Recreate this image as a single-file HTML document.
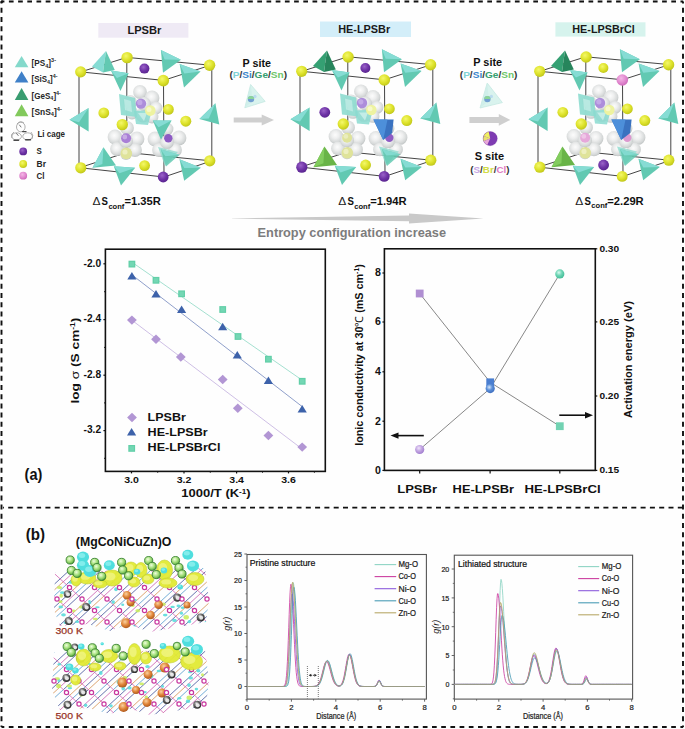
<!DOCTYPE html>
<html><head><meta charset="utf-8"><title>figure</title>
<style>
html,body{margin:0;padding:0;background:#fff;}
body{width:685px;height:729px;overflow:hidden;}
svg{display:block;}
text{font-family:"Liberation Sans", sans-serif;}
</style></head><body>
<svg width="685" height="729" viewBox="0 0 685 729">

<defs>
 <filter id="soft" x="-20%" y="-20%" width="140%" height="140%"><feGaussianBlur stdDeviation="0.6"/></filter>
 <radialGradient id="gY" cx="0.4" cy="0.35" r="0.65">
  <stop offset="0" stop-color="#f4f86a"/><stop offset="0.6" stop-color="#dde22a"/><stop offset="1" stop-color="#c2c81c"/>
 </radialGradient>
 <radialGradient id="gP" cx="0.4" cy="0.35" r="0.65">
  <stop offset="0" stop-color="#9a62c8"/><stop offset="0.6" stop-color="#6e33a6"/><stop offset="1" stop-color="#5a2590"/>
 </radialGradient>
 <radialGradient id="gK" cx="0.4" cy="0.35" r="0.65">
  <stop offset="0" stop-color="#f4b8e6"/><stop offset="0.6" stop-color="#e28ad0"/><stop offset="1" stop-color="#cf6cbc"/>
 </radialGradient>
 <radialGradient id="gW" cx="0.45" cy="0.4" r="0.6">
  <stop offset="0" stop-color="#fcfcfc"/><stop offset="0.4" stop-color="#eeefef"/><stop offset="0.8" stop-color="#d6d9d9"/><stop offset="1" stop-color="#c2c6c6"/>
 </radialGradient>
 <radialGradient id="gSp1" cx="0.4" cy="0.35" r="0.65">
  <stop offset="0" stop-color="#efe4fa"/><stop offset="0.5" stop-color="#c3a6e2"/><stop offset="1" stop-color="#a27fcf"/>
 </radialGradient>
 <radialGradient id="gSp2" cx="0.4" cy="0.35" r="0.65">
  <stop offset="0" stop-color="#d6e6fb"/><stop offset="0.5" stop-color="#5b8fd8"/><stop offset="1" stop-color="#3f6fc0"/>
 </radialGradient>
 <radialGradient id="gSp3" cx="0.4" cy="0.35" r="0.65">
  <stop offset="0" stop-color="#dcfaf0"/><stop offset="0.5" stop-color="#6fd6b6"/><stop offset="1" stop-color="#45bd98"/>
 </radialGradient>
 <radialGradient id="gGr" cx="0.4" cy="0.35" r="0.65">
  <stop offset="0" stop-color="#eefde0"/><stop offset="0.45" stop-color="#b2e68a"/><stop offset="0.8" stop-color="#7cc45a"/><stop offset="1" stop-color="#3f8a35"/>
 </radialGradient>
 <radialGradient id="gOr" cx="0.4" cy="0.35" r="0.65">
  <stop offset="0" stop-color="#fbd2a0"/><stop offset="0.55" stop-color="#e0863a"/><stop offset="1" stop-color="#b05a1e"/>
 </radialGradient>
 <radialGradient id="gDk" cx="0.4" cy="0.35" r="0.65">
  <stop offset="0" stop-color="#e8e8e8"/><stop offset="0.45" stop-color="#6a6a6a"/><stop offset="1" stop-color="#2a2a2a"/>
 </radialGradient>
</defs>

<rect x="0" y="0" width="685" height="729" fill="#fefefe"/>
<g fill="none" stroke="#111" stroke-width="1.9"><path d="M1.5 1.5H683.2" stroke-dasharray="4.7 4.5" stroke-dashoffset="1.8"/><path d="M1.5 727H683.2" stroke-dasharray="4.7 4.5" stroke-dashoffset="1.9"/><path d="M1.5 1.5V727" stroke-dasharray="5 4.2" stroke-dashoffset="2.9"/><path d="M683 1.5V727" stroke-dasharray="5 4.2" stroke-dashoffset="2.9"/><path d="M1 1.5h2M1.5 1v2"/></g>
<path d="M3 507.6H683" fill="none" stroke="#111" stroke-width="1.6" stroke-dasharray="5 4.3" stroke-dashoffset="4.1"/>
<polygon points="21.6,56.0 28.400000000000002,67.3 14.8,67.3" fill="#84d9cb" stroke="none" stroke-width="0.5"/>
<text x="31.6" y="65.8" font-size="8.3" font-weight="bold" fill="#262626" textLength="24.4" lengthAdjust="spacingAndGlyphs">[PS<tspan font-size="5.6" dy="1.8">4</tspan><tspan dy="-1.8">]</tspan><tspan font-size="5.6" dy="-3.6">3-</tspan></text>
<polygon points="21.6,71.3 28.400000000000002,82.6 14.8,82.6" fill="#3f80c8" stroke="none" stroke-width="0.5"/>
<text x="31.6" y="81.7" font-size="8.3" font-weight="bold" fill="#262626" textLength="25.9" lengthAdjust="spacingAndGlyphs">[SiS<tspan font-size="5.6" dy="1.8">4</tspan><tspan dy="-1.8">]</tspan><tspan font-size="5.6" dy="-3.6">4-</tspan></text>
<polygon points="21.6,87.9 28.400000000000002,99.9 14.8,99.9" fill="#389c70" stroke="none" stroke-width="0.5"/>
<text x="31.6" y="98.5" font-size="8.3" font-weight="bold" fill="#262626" textLength="29.3" lengthAdjust="spacingAndGlyphs">[GeS<tspan font-size="5.6" dy="1.8">4</tspan><tspan dy="-1.8">]</tspan><tspan font-size="5.6" dy="-3.6">4-</tspan></text>
<polygon points="21.6,104.2 28.400000000000002,116.2 14.8,116.2" fill="#82c95c" stroke="none" stroke-width="0.5"/>
<text x="31.6" y="114.5" font-size="8.3" font-weight="bold" fill="#262626" textLength="30.2" lengthAdjust="spacingAndGlyphs">[SnS<tspan font-size="5.6" dy="1.8">4</tspan><tspan dy="-1.8">]</tspan><tspan font-size="5.6" dy="-3.6">4-</tspan></text>
<g fill="none" stroke="#9a9a9a" stroke-width="0.8"><ellipse cx="20.8" cy="127" rx="4.3" ry="4.8"/><ellipse cx="16.6" cy="136.4" rx="4.8" ry="3.6"/><ellipse cx="27.6" cy="136.4" rx="4.8" ry="3.6"/><path d="M17 124 Q20 120 24 123M12 138 Q10 134 14 132M31 132 Q34 135 32 139"/></g>
<g stroke="#4a4a4a" stroke-width="1.4" stroke-linecap="round" fill="none"><path d="M14 140.3H18.6M25.6 139.8H30.6M22.6 131.6H26"/><path d="M16.5 133.5L18.2 135.5M19.5 125L21 127" stroke="#777" stroke-width="1"/></g>
<text x="37.4" y="136.6" font-size="8.4" font-weight="bold" text-anchor="start" fill="#262626" textLength="27.6" lengthAdjust="spacingAndGlyphs" >Li cage</text>
<circle cx="23.2" cy="151.4" r="3.9" fill="url(#gP)"/>
<circle cx="23.2" cy="164" r="3.9" fill="url(#gY)"/>
<circle cx="23.2" cy="175.7" r="3.9" fill="url(#gK)"/>
<text x="36.6" y="154.4" font-size="8.4" font-weight="bold" text-anchor="start" fill="#262626" textLength="5.3" lengthAdjust="spacingAndGlyphs" >S</text>
<text x="36.6" y="167.0" font-size="8.4" font-weight="bold" text-anchor="start" fill="#262626" textLength="9.4" lengthAdjust="spacingAndGlyphs" >Br</text>
<text x="36.6" y="178.8" font-size="8.4" font-weight="bold" text-anchor="start" fill="#262626" textLength="8.0" lengthAdjust="spacingAndGlyphs" >Cl</text>
<g transform="translate(0,0)"><path d="M80.8 71.9L126.8 57.4M126.8 57.4L210.5 65.2M210.5 65.2L163.5 80.4M163.5 80.4L80.8 71.9M79.5 167.7L126.8 152.5M126.8 152.5L211.5 160.9M211.5 160.9L164 177M164 177L79.5 167.7M79 72L79 167.7M126.8 57.4L126.8 152.5M211.8 65.2L211.8 160.9M163.5 80.4L164 177" fill="none" stroke="#303030" stroke-width="0.9"/><g filter="url(#soft)"><circle cx="140.0" cy="92.0" r="6.9" fill="url(#gW)"/><circle cx="152.0" cy="98.0" r="7.4" fill="url(#gW)"/><circle cx="156.0" cy="108.0" r="6.4" fill="url(#gW)"/><circle cx="130.0" cy="102.0" r="6.9" fill="url(#gW)"/><circle cx="132.0" cy="113.0" r="6.4" fill="url(#gW)"/><circle cx="143.0" cy="115.0" r="7.4" fill="url(#gW)"/><circle cx="152.0" cy="117.0" r="6.4" fill="url(#gW)"/><circle cx="144.0" cy="104.0" r="6.9" fill="url(#gW)"/><circle cx="115.0" cy="137.0" r="7.4" fill="url(#gW)"/><circle cx="137.0" cy="139.0" r="7.4" fill="url(#gW)"/><circle cx="127.0" cy="128.0" r="6.9" fill="url(#gW)"/><circle cx="117.0" cy="149.0" r="6.9" fill="url(#gW)"/><circle cx="135.0" cy="150.0" r="6.9" fill="url(#gW)"/><circle cx="126.0" cy="141.0" r="6.9" fill="url(#gW)"/><circle cx="126.0" cy="154.0" r="5.9" fill="url(#gW)"/><circle cx="155.0" cy="139.0" r="7.4" fill="url(#gW)"/><circle cx="179.0" cy="138.0" r="7.4" fill="url(#gW)"/><circle cx="159.0" cy="150.0" r="6.9" fill="url(#gW)"/><circle cx="175.0" cy="150.0" r="6.9" fill="url(#gW)"/><circle cx="167.0" cy="129.0" r="6.4" fill="url(#gW)"/><circle cx="167.0" cy="142.0" r="6.9" fill="url(#gW)"/></g><polygon points="119,94 135,98 137,117 121,115" fill="#8ddbcf" opacity="0.9"/><polygon points="124,99 131,101 132,112 125,110" fill="#c8eee8" opacity="0.7"/><polygon points="134,111 152,110 148,125 136,124" fill="#8adad0" opacity="0.85"/><polygon points="138,113 147,113 144,121" fill="#d4f2ee" opacity="0.7"/><polygon points="158,147 178,152 165,166" fill="#8fdcd0" opacity="0.8"/><circle cx="141" cy="103.6" r="5.2" fill="#ad8ddb"/><circle cx="139.8" cy="102.4" r="2.6" fill="#c8b0ea" opacity="0.8"/><circle cx="126.1" cy="138.3" r="5" fill="#a97fd6"/><circle cx="124.8" cy="137" r="2.4" fill="#ffffff" opacity="0.35"/><circle cx="168.3" cy="138.3" r="4.2" fill="#8d5bc4"/><circle cx="150.3" cy="110.6" r="5.3" fill="#eef3a0"/><circle cx="149" cy="109.4" r="2.5" fill="#fafcd8" opacity="0.7"/><circle cx="126.3" cy="153.4" r="5.8" fill="#dfe39a"/><circle cx="125" cy="152" r="2.6" fill="#f2f4d0" opacity="0.7"/><circle cx="127.1" cy="57.6" r="5.7" fill="url(#gY)"/><circle cx="144.4" cy="68.6" r="5.0" fill="url(#gP)"/><circle cx="103.8" cy="112.9" r="5.4" fill="url(#gY)"/><circle cx="168.4" cy="109.4" r="5.4" fill="url(#gY)"/><circle cx="185.8" cy="121.2" r="5.5" fill="url(#gY)"/><circle cx="122.3" cy="124.6" r="5.7" fill="url(#gY)"/><circle cx="144.6" cy="165.6" r="5.4" fill="url(#gY)"/><polygon points="106.0,51.0 92.0,66.5 103.0,72.5" fill="#86dcd4" opacity="1"/><polygon points="106.0,51.0 103.0,72.5 114.8,70.0" fill="#62c9b2" opacity="1"/><polygon points="110.9,70.6 128.6,73.2 120.5,91.0" fill="#62c9b2" opacity="1"/><polygon points="110.9,70.6 128.6,73.2 116.9,78.1" fill="#86dcd4" opacity="1"/><polygon points="160.9,49.9 180.9,59.8 163.0,72.8" fill="#62c9b2" opacity="1"/><polygon points="160.9,49.9 180.9,59.8 164.6,59.4" fill="#86dcd4" opacity="1"/><polygon points="179.6,64.1 200.5,71.5 184.0,87.5" fill="#62c9b2" opacity="1"/><polygon points="179.6,64.1 200.5,71.5 184.3,73.4" fill="#86dcd4" opacity="1"/><polygon points="199.4,119.0 215.4,103.2 219.3,124.5" fill="#62c9b2" opacity="1"/><polygon points="199.4,119.0 215.4,103.2 208.8,118.6" fill="#86dcd4" opacity="1"/><polygon points="69.5,119.8 88.6,108.0 88.6,131.6" fill="#62c9b2" opacity="1"/><polygon points="69.5,119.8 88.6,108.0 79.0,122.2" fill="#86dcd4" opacity="1"/><polygon points="120.5,96.0 126.0,96.0 123.0,112.0" fill="#62c9b2" opacity="0.0"/><polygon points="120.5,96.0 126.0,96.0 122.2,101.6" fill="#86dcd4" opacity="0.0"/><polygon points="152.8,120.6 171.6,120.6 161.0,139.8" fill="#62c9b2" opacity="1"/><polygon points="152.8,120.6 171.6,120.6 158.5,127.3" fill="#86dcd4" opacity="1"/><polygon points="160.8,149.5 179.5,154.8 166.0,166.5" fill="#62c9b2" opacity="0.85"/><polygon points="160.8,149.5 179.5,154.8 165.4,156.2" fill="#86dcd4" opacity="0.85"/><polygon points="92.5,167.8 103.5,147.2 116.0,165.5" fill="#62c9b2" opacity="1"/><polygon points="92.5,167.8 103.5,147.2 102.4,163.9" fill="#86dcd4" opacity="1"/><polygon points="113.8,166.3 135.2,167.7 121.0,185.5" fill="#62c9b2" opacity="1"/><polygon points="113.8,166.3 135.2,167.7 119.5,173.2" fill="#86dcd4" opacity="1"/><polygon points="179.5,159.3 200.8,167.7 184.2,180.8" fill="#62c9b2" opacity="1"/><polygon points="179.5,159.3 200.8,167.7 184.3,168.1" fill="#86dcd4" opacity="1"/><circle cx="80.7" cy="71.9" r="5.6" fill="url(#gY)"/><circle cx="209.6" cy="65.3" r="5.7" fill="url(#gY)"/><circle cx="163.3" cy="80.6" r="5.8" fill="url(#gY)"/><circle cx="80.8" cy="167.8" r="5.6" fill="url(#gY)"/><circle cx="209.8" cy="160.8" r="5.6" fill="url(#gY)"/><circle cx="163.2" cy="177.0" r="5.4" fill="url(#gP)"/></g>
<g transform="translate(221,-0.6)"><path d="M80.8 71.9L126.8 57.4M126.8 57.4L210.5 65.2M210.5 65.2L163.5 80.4M163.5 80.4L80.8 71.9M79.5 167.7L126.8 152.5M126.8 152.5L211.5 160.9M211.5 160.9L164 177M164 177L79.5 167.7M79 72L79 167.7M126.8 57.4L126.8 152.5M211.8 65.2L211.8 160.9M163.5 80.4L164 177" fill="none" stroke="#303030" stroke-width="0.9"/><g filter="url(#soft)"><circle cx="140.0" cy="92.0" r="6.9" fill="url(#gW)"/><circle cx="152.0" cy="98.0" r="7.4" fill="url(#gW)"/><circle cx="156.0" cy="108.0" r="6.4" fill="url(#gW)"/><circle cx="130.0" cy="102.0" r="6.9" fill="url(#gW)"/><circle cx="132.0" cy="113.0" r="6.4" fill="url(#gW)"/><circle cx="143.0" cy="115.0" r="7.4" fill="url(#gW)"/><circle cx="152.0" cy="117.0" r="6.4" fill="url(#gW)"/><circle cx="144.0" cy="104.0" r="6.9" fill="url(#gW)"/><circle cx="115.0" cy="137.0" r="7.4" fill="url(#gW)"/><circle cx="137.0" cy="139.0" r="7.4" fill="url(#gW)"/><circle cx="127.0" cy="128.0" r="6.9" fill="url(#gW)"/><circle cx="117.0" cy="149.0" r="6.9" fill="url(#gW)"/><circle cx="135.0" cy="150.0" r="6.9" fill="url(#gW)"/><circle cx="126.0" cy="141.0" r="6.9" fill="url(#gW)"/><circle cx="126.0" cy="154.0" r="5.9" fill="url(#gW)"/><circle cx="155.0" cy="139.0" r="7.4" fill="url(#gW)"/><circle cx="179.0" cy="138.0" r="7.4" fill="url(#gW)"/><circle cx="159.0" cy="150.0" r="6.9" fill="url(#gW)"/><circle cx="175.0" cy="150.0" r="6.9" fill="url(#gW)"/><circle cx="167.0" cy="129.0" r="6.4" fill="url(#gW)"/><circle cx="167.0" cy="142.0" r="6.9" fill="url(#gW)"/></g><polygon points="119,94 135,98 137,117 121,115" fill="#8ddbcf" opacity="0.9"/><polygon points="124,99 131,101 132,112 125,110" fill="#c8eee8" opacity="0.7"/><polygon points="134,111 152,110 148,125 136,124" fill="#8adad0" opacity="0.85"/><polygon points="138,113 147,113 144,121" fill="#d4f2ee" opacity="0.7"/><polygon points="158,147 178,152 165,166" fill="#8fdcd0" opacity="0.8"/><circle cx="141" cy="103.6" r="5.2" fill="#ad8ddb"/><circle cx="139.8" cy="102.4" r="2.6" fill="#c8b0ea" opacity="0.8"/><circle cx="126.1" cy="138.3" r="5" fill="#dfe39a"/><circle cx="124.8" cy="137" r="2.4" fill="#ffffff" opacity="0.35"/><circle cx="168.3" cy="138.3" r="4.2" fill="#8d5bc4"/><circle cx="150.3" cy="110.6" r="5.3" fill="#eef3a0"/><circle cx="149" cy="109.4" r="2.5" fill="#fafcd8" opacity="0.7"/><circle cx="126.3" cy="153.4" r="5.8" fill="#dfe39a"/><circle cx="125" cy="152" r="2.6" fill="#f2f4d0" opacity="0.7"/><circle cx="127.1" cy="57.6" r="5.7" fill="url(#gY)"/><circle cx="144.4" cy="68.6" r="5.0" fill="url(#gP)"/><circle cx="103.8" cy="112.9" r="5.4" fill="url(#gP)"/><circle cx="168.4" cy="109.4" r="5.4" fill="url(#gY)"/><circle cx="185.8" cy="121.2" r="5.5" fill="url(#gY)"/><circle cx="122.3" cy="124.6" r="5.7" fill="url(#gY)"/><circle cx="144.6" cy="165.6" r="5.4" fill="url(#gY)"/><polygon points="106.0,51.0 92.0,66.5 103.0,72.5" fill="#35a073" opacity="1"/><polygon points="106.0,51.0 103.0,72.5 114.8,70.0" fill="#27855c" opacity="1"/><polygon points="110.9,70.6 128.6,73.2 120.5,91.0" fill="#62c9b2" opacity="1"/><polygon points="110.9,70.6 128.6,73.2 116.9,78.1" fill="#86dcd4" opacity="1"/><polygon points="160.9,49.9 180.9,59.8 163.0,72.8" fill="#62c9b2" opacity="1"/><polygon points="160.9,49.9 180.9,59.8 164.6,59.4" fill="#86dcd4" opacity="1"/><polygon points="179.6,64.1 200.5,71.5 184.0,87.5" fill="#62c9b2" opacity="1"/><polygon points="179.6,64.1 200.5,71.5 184.3,73.4" fill="#86dcd4" opacity="1"/><polygon points="199.4,119.0 215.4,103.2 219.3,124.5" fill="#62c9b2" opacity="1"/><polygon points="199.4,119.0 215.4,103.2 208.8,118.6" fill="#86dcd4" opacity="1"/><polygon points="69.5,119.8 88.6,108.0 88.6,131.6" fill="#62c9b2" opacity="1"/><polygon points="69.5,119.8 88.6,108.0 79.0,122.2" fill="#86dcd4" opacity="1"/><polygon points="120.5,96.0 126.0,96.0 123.0,112.0" fill="#62c9b2" opacity="0.0"/><polygon points="120.5,96.0 126.0,96.0 122.2,101.6" fill="#86dcd4" opacity="0.0"/><polygon points="152.4,120.0 172.6,120.0 171.2,133.6 162.2,140.6" fill="#3a72c0"/><polygon points="152.4,120.0 166.5,120.0 162.2,140.6" fill="#4d8fda"/><polygon points="160.8,149.5 179.5,154.8 166.0,166.5" fill="#62c9b2" opacity="0.85"/><polygon points="160.8,149.5 179.5,154.8 165.4,156.2" fill="#86dcd4" opacity="0.85"/><polygon points="92.5,167.8 103.5,147.2 116.0,165.5" fill="#69b447" opacity="1"/><polygon points="92.5,167.8 103.5,147.2 102.4,163.9" fill="#82cc5e" opacity="1"/><polygon points="113.8,166.3 135.2,167.7 121.0,185.5" fill="#62c9b2" opacity="1"/><polygon points="113.8,166.3 135.2,167.7 119.5,173.2" fill="#86dcd4" opacity="1"/><polygon points="179.5,159.3 200.8,167.7 184.2,180.8" fill="#62c9b2" opacity="1"/><polygon points="179.5,159.3 200.8,167.7 184.3,168.1" fill="#86dcd4" opacity="1"/><circle cx="80.7" cy="71.9" r="5.6" fill="url(#gY)"/><circle cx="209.6" cy="65.3" r="5.7" fill="url(#gY)"/><circle cx="163.3" cy="80.6" r="5.8" fill="url(#gY)"/><circle cx="80.8" cy="167.8" r="5.6" fill="url(#gP)"/><circle cx="209.8" cy="160.8" r="5.6" fill="url(#gY)"/><circle cx="163.2" cy="177.0" r="5.4" fill="url(#gP)"/></g>
<g transform="translate(459,-0.6)"><path d="M80.8 71.9L126.8 57.4M126.8 57.4L210.5 65.2M210.5 65.2L163.5 80.4M163.5 80.4L80.8 71.9M79.5 167.7L126.8 152.5M126.8 152.5L211.5 160.9M211.5 160.9L164 177M164 177L79.5 167.7M79 72L79 167.7M126.8 57.4L126.8 152.5M211.8 65.2L211.8 160.9M163.5 80.4L164 177" fill="none" stroke="#303030" stroke-width="0.9"/><g filter="url(#soft)"><circle cx="140.0" cy="92.0" r="6.9" fill="url(#gW)"/><circle cx="152.0" cy="98.0" r="7.4" fill="url(#gW)"/><circle cx="156.0" cy="108.0" r="6.4" fill="url(#gW)"/><circle cx="130.0" cy="102.0" r="6.9" fill="url(#gW)"/><circle cx="132.0" cy="113.0" r="6.4" fill="url(#gW)"/><circle cx="143.0" cy="115.0" r="7.4" fill="url(#gW)"/><circle cx="152.0" cy="117.0" r="6.4" fill="url(#gW)"/><circle cx="144.0" cy="104.0" r="6.9" fill="url(#gW)"/><circle cx="115.0" cy="137.0" r="7.4" fill="url(#gW)"/><circle cx="137.0" cy="139.0" r="7.4" fill="url(#gW)"/><circle cx="127.0" cy="128.0" r="6.9" fill="url(#gW)"/><circle cx="117.0" cy="149.0" r="6.9" fill="url(#gW)"/><circle cx="135.0" cy="150.0" r="6.9" fill="url(#gW)"/><circle cx="126.0" cy="141.0" r="6.9" fill="url(#gW)"/><circle cx="126.0" cy="154.0" r="5.9" fill="url(#gW)"/><circle cx="155.0" cy="139.0" r="7.4" fill="url(#gW)"/><circle cx="179.0" cy="138.0" r="7.4" fill="url(#gW)"/><circle cx="159.0" cy="150.0" r="6.9" fill="url(#gW)"/><circle cx="175.0" cy="150.0" r="6.9" fill="url(#gW)"/><circle cx="167.0" cy="129.0" r="6.4" fill="url(#gW)"/><circle cx="167.0" cy="142.0" r="6.9" fill="url(#gW)"/></g><polygon points="119,94 135,98 137,117 121,115" fill="#8ddbcf" opacity="0.9"/><polygon points="124,99 131,101 132,112 125,110" fill="#c8eee8" opacity="0.7"/><polygon points="134,111 152,110 148,125 136,124" fill="#8adad0" opacity="0.85"/><polygon points="138,113 147,113 144,121" fill="#d4f2ee" opacity="0.7"/><polygon points="158,147 178,152 165,166" fill="#8fdcd0" opacity="0.8"/><circle cx="141" cy="103.6" r="5.2" fill="#ad8ddb"/><circle cx="139.8" cy="102.4" r="2.6" fill="#c8b0ea" opacity="0.8"/><circle cx="126.1" cy="138.3" r="5" fill="#e6a8da"/><circle cx="124.8" cy="137" r="2.4" fill="#ffffff" opacity="0.35"/><circle cx="168.3" cy="138.3" r="4.2" fill="#dc98cf"/><circle cx="150.3" cy="110.6" r="5.3" fill="#eef3a0"/><circle cx="149" cy="109.4" r="2.5" fill="#fafcd8" opacity="0.7"/><circle cx="126.3" cy="153.4" r="5.8" fill="#dfe39a"/><circle cx="125" cy="152" r="2.6" fill="#f2f4d0" opacity="0.7"/><circle cx="127.1" cy="57.6" r="5.7" fill="url(#gY)"/><circle cx="144.4" cy="68.6" r="5.0" fill="url(#gY)"/><circle cx="103.8" cy="112.9" r="5.4" fill="url(#gY)"/><circle cx="168.4" cy="109.4" r="5.4" fill="url(#gY)"/><circle cx="185.8" cy="121.2" r="5.5" fill="url(#gY)"/><circle cx="122.3" cy="124.6" r="5.7" fill="url(#gY)"/><circle cx="144.6" cy="165.6" r="5.4" fill="url(#gP)"/><polygon points="106.0,51.0 92.0,66.5 103.0,72.5" fill="#35a073" opacity="1"/><polygon points="106.0,51.0 103.0,72.5 114.8,70.0" fill="#27855c" opacity="1"/><polygon points="110.9,70.6 128.6,73.2 120.5,91.0" fill="#62c9b2" opacity="1"/><polygon points="110.9,70.6 128.6,73.2 116.9,78.1" fill="#86dcd4" opacity="1"/><polygon points="160.9,49.9 180.9,59.8 163.0,72.8" fill="#62c9b2" opacity="1"/><polygon points="160.9,49.9 180.9,59.8 164.6,59.4" fill="#86dcd4" opacity="1"/><polygon points="179.6,64.1 200.5,71.5 184.0,87.5" fill="#62c9b2" opacity="1"/><polygon points="179.6,64.1 200.5,71.5 184.3,73.4" fill="#86dcd4" opacity="1"/><polygon points="199.4,119.0 215.4,103.2 219.3,124.5" fill="#62c9b2" opacity="1"/><polygon points="199.4,119.0 215.4,103.2 208.8,118.6" fill="#86dcd4" opacity="1"/><polygon points="69.5,119.8 88.6,108.0 88.6,131.6" fill="#62c9b2" opacity="1"/><polygon points="69.5,119.8 88.6,108.0 79.0,122.2" fill="#86dcd4" opacity="1"/><polygon points="120.5,96.0 126.0,96.0 123.0,112.0" fill="#62c9b2" opacity="0.0"/><polygon points="120.5,96.0 126.0,96.0 122.2,101.6" fill="#86dcd4" opacity="0.0"/><polygon points="152.4,120.0 172.6,120.0 171.2,133.6 162.2,140.6" fill="#3a72c0"/><polygon points="152.4,120.0 166.5,120.0 162.2,140.6" fill="#4d8fda"/><polygon points="160.8,149.5 179.5,154.8 166.0,166.5" fill="#62c9b2" opacity="0.85"/><polygon points="160.8,149.5 179.5,154.8 165.4,156.2" fill="#86dcd4" opacity="0.85"/><polygon points="92.5,167.8 103.5,147.2 116.0,165.5" fill="#69b447" opacity="1"/><polygon points="92.5,167.8 103.5,147.2 102.4,163.9" fill="#82cc5e" opacity="1"/><polygon points="113.8,166.3 135.2,167.7 121.0,185.5" fill="#62c9b2" opacity="1"/><polygon points="113.8,166.3 135.2,167.7 119.5,173.2" fill="#86dcd4" opacity="1"/><polygon points="179.5,159.3 200.8,167.7 184.2,180.8" fill="#62c9b2" opacity="1"/><polygon points="179.5,159.3 200.8,167.7 184.3,168.1" fill="#86dcd4" opacity="1"/><circle cx="80.7" cy="71.9" r="5.6" fill="url(#gY)"/><circle cx="209.6" cy="65.3" r="5.7" fill="url(#gY)"/><circle cx="163.3" cy="80.6" r="5.8" fill="url(#gK)"/><circle cx="80.8" cy="167.8" r="5.6" fill="url(#gY)"/><circle cx="209.8" cy="160.8" r="5.6" fill="url(#gY)"/><circle cx="163.2" cy="177.0" r="5.4" fill="url(#gY)"/></g>
<rect x="98.3" y="23.0" width="90.10000000000001" height="14.700000000000003" fill="#efeaf5"/>
<text x="127.4" y="34.1" font-size="10.6" font-weight="bold" text-anchor="start" fill="#1a1a1a" textLength="34" lengthAdjust="spacingAndGlyphs" >LPSBr</text>
<rect x="320" y="21.5" width="91" height="15.5" fill="#d3eef9"/>
<text x="338.2" y="33.4" font-size="10.6" font-weight="bold" text-anchor="start" fill="#1a1a1a" textLength="52" lengthAdjust="spacingAndGlyphs" >HE-LPSBr</text>
<rect x="555.4" y="22.3" width="90.10000000000002" height="14.3" fill="#d6f3ed"/>
<text x="572.3" y="33.0" font-size="10.6" font-weight="bold" text-anchor="start" fill="#1a1a1a" textLength="62.5" lengthAdjust="spacingAndGlyphs" >HE-LPSBrCl</text>
<text x="92.4" y="205.3" font-size="11.2" fill="#222" textLength="8" lengthAdjust="spacingAndGlyphs">Δ</text>
<text x="101.60000000000001" y="205.3" font-size="11.2" font-weight="bold" fill="#111" textLength="6.4" lengthAdjust="spacingAndGlyphs">S</text>
<text x="108.4" y="208.60000000000002" font-size="7.6" font-weight="bold" fill="#111" textLength="16" lengthAdjust="spacingAndGlyphs">conf</text>
<text x="124.4" y="205.3" font-size="11.2" font-weight="bold" fill="#111" textLength="36.4" lengthAdjust="spacingAndGlyphs">=1.35R</text>
<text x="338.2" y="205.2" font-size="11.2" fill="#222" textLength="8" lengthAdjust="spacingAndGlyphs">Δ</text>
<text x="347.4" y="205.2" font-size="11.2" font-weight="bold" fill="#111" textLength="6.4" lengthAdjust="spacingAndGlyphs">S</text>
<text x="354.2" y="208.5" font-size="7.6" font-weight="bold" fill="#111" textLength="16" lengthAdjust="spacingAndGlyphs">conf</text>
<text x="370.2" y="205.2" font-size="11.2" font-weight="bold" fill="#111" textLength="36.4" lengthAdjust="spacingAndGlyphs">=1.94R</text>
<text x="575.3" y="204.6" font-size="11.2" fill="#222" textLength="8" lengthAdjust="spacingAndGlyphs">Δ</text>
<text x="584.5" y="204.6" font-size="11.2" font-weight="bold" fill="#111" textLength="6.4" lengthAdjust="spacingAndGlyphs">S</text>
<text x="591.3" y="207.9" font-size="7.6" font-weight="bold" fill="#111" textLength="16" lengthAdjust="spacingAndGlyphs">conf</text>
<text x="607.3" y="204.6" font-size="11.2" font-weight="bold" fill="#111" textLength="36.4" lengthAdjust="spacingAndGlyphs">=2.29R</text>
<text x="242.6" y="66.6" font-size="10.8" font-weight="bold" text-anchor="start" fill="#111" textLength="28.4" lengthAdjust="spacingAndGlyphs" >P site</text>
<text x="229.4" y="78.4" font-size="9.6" font-weight="bold" text-anchor="start" fill="#333" textLength="57.7" lengthAdjust="spacingAndGlyphs" >(<tspan fill="#7fd3d6">P</tspan>/<tspan fill="#3a86cc">Si</tspan>/<tspan fill="#36a070">Ge</tspan>/<tspan fill="#6fc66a">Sn</tspan>)</text>
<text x="473.3" y="66.2" font-size="10.8" font-weight="bold" text-anchor="start" fill="#111" textLength="28.8" lengthAdjust="spacingAndGlyphs" >P site</text>
<text x="459.8" y="77.8" font-size="9.6" font-weight="bold" text-anchor="start" fill="#333" textLength="57.7" lengthAdjust="spacingAndGlyphs" >(<tspan fill="#7fd3d6">P</tspan>/<tspan fill="#3a86cc">Si</tspan>/<tspan fill="#36a070">Ge</tspan>/<tspan fill="#6fc66a">Sn</tspan>)</text>
<polygon points="250.6,84.5 265.2,101.4 244.8,107.8" fill="#d9f3ee" stroke="#c2e6e0" stroke-width="0.7"/>
<polygon points="250.6,84.5 252.5333333333333,100.89999999999999 244.8,107.8" fill="#cdeee8" opacity="0.8"/>
<g filter="url(#soft)"><circle cx="251.0" cy="99.1" r="3.2" fill="#5a8ccc" opacity="0.8"/><path d="M247.8 99.1 A3.2 3.2 0 0 1 254.2 99.1 Z" fill="#90de90" opacity="0.85"/><circle cx="255.0" cy="96.4" r="1.6" fill="#9cc4f0" opacity="0.5"/></g>
<polygon points="487.2,83 502.4,102.6 480,108" fill="#d9f3ee" stroke="#c2e6e0" stroke-width="0.7"/>
<polygon points="487.2,83 488.8666666666666,100.86666666666667 480,108" fill="#cdeee8" opacity="0.8"/>
<g filter="url(#soft)"><circle cx="487.4" cy="99.1" r="3.2" fill="#5a8ccc" opacity="0.8"/><path d="M484.2 99.1 A3.2 3.2 0 0 1 490.6 99.1 Z" fill="#90de90" opacity="0.85"/><circle cx="491.4" cy="96.4" r="1.6" fill="#9cc4f0" opacity="0.5"/></g>
<polygon points="233.7,117.6 261.7,117.6 261.7,114.6 274,120 261.7,125.4 261.7,122.4 233.7,122.4" fill="#cfcfcf"/>
<polygon points="469.4,116.9 498.8,116.9 498.8,114.10000000000001 510.4,119.9 498.8,125.7 498.8,122.9 469.4,122.9" fill="#cfcfcf"/>
<g transform="translate(490.2,138.6)"><circle r="7.1" fill="#7e3bb2"/><path d="M0 0 L-6.6 -2.6 A7.1 7.1 0 0 1 -1.5 -6.9 Z" fill="#f0f060"/><path d="M0 0 L-6.6 2.6 A7.1 7.1 0 0 1 -6.6 -2.6 Z" fill="#e8e070"/><path d="M0 0 L-3 6.4 A7.1 7.1 0 0 1 -6.6 2.6 Z" fill="#e8a8d8"/><circle r="7.1" fill="none" stroke="#6a2a9a" stroke-width="0.5" opacity="0.6"/></g>
<text x="474.7" y="159.6" font-size="10.8" font-weight="bold" text-anchor="start" fill="#111" textLength="29.4" lengthAdjust="spacingAndGlyphs" >S site</text>
<text x="470.3" y="173.2" font-size="9.6" font-weight="bold" text-anchor="start" fill="#333" textLength="39.2" lengthAdjust="spacingAndGlyphs" >(<tspan fill="#c6a6e4">S</tspan>/<tspan fill="#d2dc48">Br</tspan>/<tspan fill="#e07cc4">Cl</tspan>)</text>
<polygon points="232,218.3 409,215.6 409,213.6 483.5,218.4 409,223.4 409,221.3 232,218.6" fill="#c9c9c9"/>
<text x="257.6" y="237.3" font-size="12.9" font-weight="bold" text-anchor="start" fill="#7c7c7c" textLength="188.4" lengthAdjust="spacingAndGlyphs" >Entropy configuration increase</text>
<rect x="105.4" y="249.2" width="219.9" height="222.2" fill="none" stroke="#111" stroke-width="1.6"/>
<path d="M103.4 263.8H105.4" stroke="#111" stroke-width="1.2"/>
<text x="83.6" y="266.5" font-size="10" font-weight="bold" text-anchor="start" fill="#111" textLength="17.5" lengthAdjust="spacingAndGlyphs" >-2.0</text>
<path d="M103.4 319.6H105.4" stroke="#111" stroke-width="1.2"/>
<text x="83.6" y="322.3" font-size="10" font-weight="bold" text-anchor="start" fill="#111" textLength="17.5" lengthAdjust="spacingAndGlyphs" >-2.4</text>
<path d="M103.4 375.2H105.4" stroke="#111" stroke-width="1.2"/>
<text x="83.6" y="377.9" font-size="10" font-weight="bold" text-anchor="start" fill="#111" textLength="17.5" lengthAdjust="spacingAndGlyphs" >-2.8</text>
<path d="M103.4 430.6H105.4" stroke="#111" stroke-width="1.2"/>
<text x="83.6" y="433.3" font-size="10" font-weight="bold" text-anchor="start" fill="#111" textLength="17.5" lengthAdjust="spacingAndGlyphs" >-3.2</text>
<path d="M104.10000000000001 291.7H105.4" stroke="#111" stroke-width="1"/>
<path d="M104.10000000000001 347.4H105.4" stroke="#111" stroke-width="1"/>
<path d="M104.10000000000001 402.9H105.4" stroke="#111" stroke-width="1"/>
<path d="M104.10000000000001 458.3H105.4" stroke="#111" stroke-width="1"/>
<path d="M131.5 471.4V473.4" stroke="#111" stroke-width="1.2"/>
<text x="131.5" y="483.2" font-size="9.6" font-weight="bold" text-anchor="middle" fill="#111" textLength="14.7" lengthAdjust="spacingAndGlyphs" >3.0</text>
<path d="M184.0 471.4V473.4" stroke="#111" stroke-width="1.2"/>
<text x="184.0" y="483.2" font-size="9.6" font-weight="bold" text-anchor="middle" fill="#111" textLength="14.7" lengthAdjust="spacingAndGlyphs" >3.2</text>
<path d="M236.6 471.4V473.4" stroke="#111" stroke-width="1.2"/>
<text x="236.6" y="483.2" font-size="9.6" font-weight="bold" text-anchor="middle" fill="#111" textLength="14.7" lengthAdjust="spacingAndGlyphs" >3.4</text>
<path d="M288.5 471.4V473.4" stroke="#111" stroke-width="1.2"/>
<text x="288.5" y="483.2" font-size="9.6" font-weight="bold" text-anchor="middle" fill="#111" textLength="14.7" lengthAdjust="spacingAndGlyphs" >3.6</text>
<path d="M157.7 471.4V472.7" stroke="#111" stroke-width="1"/>
<path d="M210.3 471.4V472.7" stroke="#111" stroke-width="1"/>
<path d="M262.5 471.4V472.7" stroke="#111" stroke-width="1"/>
<path d="M314.4 471.4V472.7" stroke="#111" stroke-width="1"/>
<path d="M131.9 262.2L302.2 380.2" stroke="#9adccb" stroke-width="0.9"/>
<path d="M131.9 274.8L302.2 406.6" stroke="#8294c4" stroke-width="0.9"/>
<path d="M131.9 320.2L302.2 449" stroke="#c8b8e2" stroke-width="0.9"/>
<polygon points="131.9,315.40000000000003 136.8,320.1 131.9,324.8 127.0,320.1" fill="#b296d4"/>
<polygon points="156,334.6 160.9,339.3 156,344.0 151.1,339.3" fill="#b296d4"/>
<polygon points="180.8,352.3 185.70000000000002,357 180.8,361.7 175.9,357" fill="#b296d4"/>
<polygon points="222.7,374.8 227.6,379.5 222.7,384.2 217.79999999999998,379.5" fill="#b296d4"/>
<polygon points="237.8,403.5 242.70000000000002,408.2 237.8,412.9 232.9,408.2" fill="#b296d4"/>
<polygon points="268.4,430.8 273.29999999999995,435.5 268.4,440.2 263.5,435.5" fill="#b296d4"/>
<polygon points="302.2,442.40000000000003 307.09999999999997,447.1 302.2,451.8 297.3,447.1" fill="#b296d4"/>
<polygon points="131.9,272.09999999999997 136.5,279.59999999999997 127.30000000000001,279.59999999999997" fill="#3d62aa"/>
<polygon points="156,289.9 160.6,297.4 151.4,297.4" fill="#3d62aa"/>
<polygon points="181.6,305.59999999999997 186.2,313.09999999999997 177.0,313.09999999999997" fill="#3d62aa"/>
<polygon points="222.7,322.8 227.29999999999998,330.3 218.1,330.3" fill="#3d62aa"/>
<polygon points="237.3,350.9 241.9,358.4 232.70000000000002,358.4" fill="#3d62aa"/>
<polygon points="268.4,376.59999999999997 273.0,384.09999999999997 263.79999999999995,384.09999999999997" fill="#3d62aa"/>
<polygon points="302.2,405.0 306.8,412.5 297.59999999999997,412.5" fill="#3d62aa"/>
<rect x="128.5" y="260.70000000000005" width="6.8" height="6.8" fill="#62cfa8"/><rect x="129.7" y="261.90000000000003" width="4.4" height="4.4" fill="#7fdcbc" opacity="0.6"/>
<rect x="152.6" y="276.90000000000003" width="6.8" height="6.8" fill="#62cfa8"/><rect x="153.79999999999998" y="278.1" width="4.4" height="4.4" fill="#7fdcbc" opacity="0.6"/>
<rect x="178.2" y="290.40000000000003" width="6.8" height="6.8" fill="#62cfa8"/><rect x="179.39999999999998" y="291.6" width="4.4" height="4.4" fill="#7fdcbc" opacity="0.6"/>
<rect x="219.29999999999998" y="306.1" width="6.8" height="6.8" fill="#62cfa8"/><rect x="220.49999999999997" y="307.3" width="4.4" height="4.4" fill="#7fdcbc" opacity="0.6"/>
<rect x="234.6" y="333.1" width="6.8" height="6.8" fill="#62cfa8"/><rect x="235.79999999999998" y="334.3" width="4.4" height="4.4" fill="#7fdcbc" opacity="0.6"/>
<rect x="265.0" y="355.8" width="6.8" height="6.8" fill="#62cfa8"/><rect x="266.2" y="357.0" width="4.4" height="4.4" fill="#7fdcbc" opacity="0.6"/>
<rect x="298.8" y="377.90000000000003" width="6.8" height="6.8" fill="#62cfa8"/><rect x="300.0" y="379.1" width="4.4" height="4.4" fill="#7fdcbc" opacity="0.6"/>
<polygon points="132,412.8 136.9,417.5 132,422.2 127.1,417.5" fill="#b296d4"/>
<polygon points="131.6,428.09999999999997 136.2,435.59999999999997 127.0,435.59999999999997" fill="#3d62aa"/>
<rect x="128.29999999999998" y="445.0" width="6.8" height="6.8" fill="#62cfa8"/><rect x="129.49999999999997" y="446.2" width="4.4" height="4.4" fill="#7fdcbc" opacity="0.6"/>
<text x="147.6" y="421.2" font-size="11.2" font-weight="bold" text-anchor="start" fill="#111" textLength="38.2" lengthAdjust="spacingAndGlyphs" >LPSBr</text>
<text x="147.6" y="436.0" font-size="11.2" font-weight="bold" text-anchor="start" fill="#111" textLength="60" lengthAdjust="spacingAndGlyphs" >HE-LPSBr</text>
<text x="147.6" y="451.3" font-size="11.2" font-weight="bold" text-anchor="start" fill="#111" textLength="72.8" lengthAdjust="spacingAndGlyphs" >HE-LPSBrCl</text>
<text x="181.3" y="497.2" font-size="11.2" font-weight="bold" text-anchor="start" fill="#111" textLength="69.4" lengthAdjust="spacingAndGlyphs" >1000/T (K<tspan font-size="7" dy="-3.5">-1</tspan><tspan dy="3.5">)</tspan></text>
<text transform="translate(78.8,360.6) rotate(-90)" text-anchor="middle" font-size="11.4" font-weight="bold" fill="#111" textLength="86" lengthAdjust="spacingAndGlyphs">log <tspan font-weight="normal">σ</tspan> (S cm<tspan font-size="7" dy="-3.5">-1</tspan><tspan dy="3.5">)</tspan></text>
<rect x="384.4" y="248.8" width="210.89999999999998" height="221.59999999999997" fill="none" stroke="#111" stroke-width="1.6"/>
<path d="M382.4 470.4H384.4" stroke="#111" stroke-width="1.2"/>
<text x="380.8" y="473.7" font-size="10" font-weight="bold" text-anchor="end" fill="#111" textLength="5.9" lengthAdjust="spacingAndGlyphs" >0</text>
<path d="M382.4 421.2H384.4" stroke="#111" stroke-width="1.2"/>
<text x="380.8" y="424.5" font-size="10" font-weight="bold" text-anchor="end" fill="#111" textLength="5.9" lengthAdjust="spacingAndGlyphs" >2</text>
<path d="M382.4 371.8H384.4" stroke="#111" stroke-width="1.2"/>
<text x="380.8" y="375.1" font-size="10" font-weight="bold" text-anchor="end" fill="#111" textLength="5.9" lengthAdjust="spacingAndGlyphs" >4</text>
<path d="M382.4 322.0H384.4" stroke="#111" stroke-width="1.2"/>
<text x="380.8" y="325.3" font-size="10" font-weight="bold" text-anchor="end" fill="#111" textLength="5.9" lengthAdjust="spacingAndGlyphs" >6</text>
<path d="M382.4 273.0H384.4" stroke="#111" stroke-width="1.2"/>
<text x="380.8" y="276.3" font-size="10" font-weight="bold" text-anchor="end" fill="#111" textLength="5.9" lengthAdjust="spacingAndGlyphs" >8</text>
<path d="M595.3 470.4H597.3" stroke="#111" stroke-width="1.2"/>
<text x="599.4" y="473.29999999999995" font-size="9.6" font-weight="bold" text-anchor="start" fill="#111" textLength="19.8" lengthAdjust="spacingAndGlyphs" >0.15</text>
<path d="M595.3 396.0H597.3" stroke="#111" stroke-width="1.2"/>
<text x="599.4" y="398.9" font-size="9.6" font-weight="bold" text-anchor="start" fill="#111" textLength="19.8" lengthAdjust="spacingAndGlyphs" >0.20</text>
<path d="M595.3 321.9H597.3" stroke="#111" stroke-width="1.2"/>
<text x="599.4" y="324.79999999999995" font-size="9.6" font-weight="bold" text-anchor="start" fill="#111" textLength="19.8" lengthAdjust="spacingAndGlyphs" >0.25</text>
<path d="M595.3 248.8H597.3" stroke="#111" stroke-width="1.2"/>
<text x="599.4" y="251.70000000000002" font-size="9.6" font-weight="bold" text-anchor="start" fill="#111" textLength="19.8" lengthAdjust="spacingAndGlyphs" >0.30</text>
<path d="M419.7 470.4V473.4" stroke="#111" stroke-width="1.2"/>
<path d="M490.1 470.4V473.4" stroke="#111" stroke-width="1.2"/>
<path d="M559.8 470.4V473.4" stroke="#111" stroke-width="1.2"/>
<text x="397.2" y="492.5" font-size="11.5" font-weight="bold" text-anchor="start" fill="#111" textLength="39.8" lengthAdjust="spacingAndGlyphs" >LPSBr</text>
<text x="452.6" y="492.5" font-size="11.5" font-weight="bold" text-anchor="start" fill="#111" textLength="61.5" lengthAdjust="spacingAndGlyphs" >HE-LPSBr</text>
<text x="524.4" y="492.5" font-size="11.5" font-weight="bold" text-anchor="start" fill="#111" textLength="76.3" lengthAdjust="spacingAndGlyphs" >HE-LPSBrCl</text>
<path d="M419.7 293.5L490.2 382.3L559.8 426.2" fill="none" stroke="#6a6a6a" stroke-width="0.8"/>
<path d="M419.7 449.5L490.2 388.4L559.8 273.9" fill="none" stroke="#6a6a6a" stroke-width="0.8"/>
<rect x="415.8" y="289.6" width="7.8" height="7.8" fill="#b08fd2"/>
<rect x="486.3" y="378.4" width="7.8" height="7.8" fill="#4a7ed0"/>
<rect x="555.9" y="422.3" width="7.8" height="7.8" fill="#72d2b2"/>
<circle cx="419.7" cy="449.5" r="4.6" fill="url(#gSp1)"/>
<circle cx="490.2" cy="388.6" r="4.6" fill="url(#gSp2)"/>
<circle cx="559.8" cy="273.9" r="4.6" fill="url(#gSp3)"/>
<path d="M423.8 435.6H396" stroke="#111" stroke-width="1.6"/><polygon points="390.5,435.6 398.5,432.4 398.5,438.8" fill="#111"/>
<path d="M559.3 415.2H587" stroke="#111" stroke-width="1.6"/><polygon points="593,415.2 585,412 585,418.4" fill="#111"/>
<text transform="translate(362.6,355) rotate(-90)" text-anchor="middle" font-size="11" font-weight="bold" fill="#111" textLength="181.6" lengthAdjust="spacingAndGlyphs">Ionic conductivity at 30<tspan font-weight="normal">℃</tspan> (mS cm<tspan font-size="7" dy="-3.5">-1</tspan><tspan dy="3.5">)</tspan></text>
<text transform="translate(632,359.5) rotate(-90)" text-anchor="middle" font-size="11" font-weight="bold" fill="#111" textLength="117" lengthAdjust="spacingAndGlyphs">Activation energy (eV)</text>
<text x="24.6" y="479.8" font-size="15.7" font-weight="bold" text-anchor="start" fill="#111" textLength="17.8" lengthAdjust="spacingAndGlyphs" >(a)</text>
<text x="25.8" y="540.3" font-size="15.7" font-weight="bold" text-anchor="start" fill="#111" textLength="19.3" lengthAdjust="spacingAndGlyphs" >(b)</text>
<text x="75.8" y="545.6" font-size="12.2" font-weight="bold" text-anchor="start" fill="#111" textLength="95.6" lengthAdjust="spacingAndGlyphs" >(MgCoNiCuZn)O</text>
<rect x="247" y="554.5" width="179.39999999999998" height="144.60000000000002" fill="none" stroke="#555" stroke-width="1.1"/>
<path d="M244.4 686.5H247" stroke="#555" stroke-width="0.9"/>
<text x="242" y="689.3" font-size="8.0" font-weight="normal" text-anchor="end" fill="#222" textLength="3.9" lengthAdjust="spacingAndGlyphs" stroke="#222" stroke-width="0.22">0</text>
<path d="M245.5 673.2H247" stroke="#555" stroke-width="0.8"/>
<path d="M244.4 660.0H247" stroke="#555" stroke-width="0.9"/>
<text x="242" y="662.8" font-size="8.0" font-weight="normal" text-anchor="end" fill="#222" textLength="3.9" lengthAdjust="spacingAndGlyphs" stroke="#222" stroke-width="0.22">5</text>
<path d="M245.5 646.8H247" stroke="#555" stroke-width="0.8"/>
<path d="M244.4 633.5H247" stroke="#555" stroke-width="0.9"/>
<text x="242" y="636.3" font-size="8.0" font-weight="normal" text-anchor="end" fill="#222" textLength="7.9" lengthAdjust="spacingAndGlyphs" stroke="#222" stroke-width="0.22">10</text>
<path d="M245.5 620.2H247" stroke="#555" stroke-width="0.8"/>
<path d="M244.4 607.0H247" stroke="#555" stroke-width="0.9"/>
<text x="242" y="609.8" font-size="8.0" font-weight="normal" text-anchor="end" fill="#222" textLength="7.9" lengthAdjust="spacingAndGlyphs" stroke="#222" stroke-width="0.22">15</text>
<path d="M245.5 593.8H247" stroke="#555" stroke-width="0.8"/>
<path d="M244.4 580.5H247" stroke="#555" stroke-width="0.9"/>
<text x="242" y="583.3" font-size="8.0" font-weight="normal" text-anchor="end" fill="#222" textLength="7.9" lengthAdjust="spacingAndGlyphs" stroke="#222" stroke-width="0.22">20</text>
<path d="M245.5 567.2H247" stroke="#555" stroke-width="0.8"/>
<path d="M244.4 554.0H247" stroke="#555" stroke-width="0.9"/>
<text x="242" y="556.8" font-size="8.0" font-weight="normal" text-anchor="end" fill="#222" textLength="7.9" lengthAdjust="spacingAndGlyphs" stroke="#222" stroke-width="0.22">25</text>
<path d="M245.5 699.8H247" stroke="#555" stroke-width="0.8"/>
<path d="M247.0 699.1V701.7" stroke="#555" stroke-width="0.9"/>
<text x="247.0" y="709.9" font-size="7.8" font-weight="normal" text-anchor="middle" fill="#222" textLength="4.3" lengthAdjust="spacingAndGlyphs" stroke="#222" stroke-width="0.22">0</text>
<path d="M269.2 699.1V700.6" stroke="#555" stroke-width="0.9"/>
<path d="M291.4 699.1V701.7" stroke="#555" stroke-width="0.9"/>
<text x="291.4" y="709.9" font-size="7.8" font-weight="normal" text-anchor="middle" fill="#222" textLength="4.3" lengthAdjust="spacingAndGlyphs" stroke="#222" stroke-width="0.22">2</text>
<path d="M313.6 699.1V700.6" stroke="#555" stroke-width="0.9"/>
<path d="M335.8 699.1V701.7" stroke="#555" stroke-width="0.9"/>
<text x="335.8" y="709.9" font-size="7.8" font-weight="normal" text-anchor="middle" fill="#222" textLength="4.3" lengthAdjust="spacingAndGlyphs" stroke="#222" stroke-width="0.22">4</text>
<path d="M358.0 699.1V700.6" stroke="#555" stroke-width="0.9"/>
<path d="M380.2 699.1V701.7" stroke="#555" stroke-width="0.9"/>
<text x="380.2" y="709.9" font-size="7.8" font-weight="normal" text-anchor="middle" fill="#222" textLength="4.3" lengthAdjust="spacingAndGlyphs" stroke="#222" stroke-width="0.22">6</text>
<path d="M402.4 699.1V700.6" stroke="#555" stroke-width="0.9"/>
<path d="M424.6 699.1V701.7" stroke="#555" stroke-width="0.9"/>
<text x="424.6" y="709.9" font-size="7.8" font-weight="normal" text-anchor="middle" fill="#222" textLength="4.3" lengthAdjust="spacingAndGlyphs" stroke="#222" stroke-width="0.22">8</text>
<text x="336.2" y="718.5" font-size="8.6" font-weight="normal" text-anchor="middle" fill="#222" textLength="40" lengthAdjust="spacingAndGlyphs" stroke="#222" stroke-width="0.22">Distance (Å)</text>
<text x="249.7" y="566.3" font-size="8.8" font-weight="normal" text-anchor="start" fill="#111" textLength="65.7" lengthAdjust="spacingAndGlyphs" stroke="#111" stroke-width="0.22">Pristine structure</text>
<text transform="translate(229.8,623.8) rotate(-90)" text-anchor="middle" font-size="9" font-style="italic" fill="#222" textLength="14" lengthAdjust="spacingAndGlyphs">g(r)</text>
<polyline points="247.00,686.50 247.44,686.50 247.89,686.50 248.33,686.50 248.78,686.50 249.22,686.50 249.66,686.50 250.11,686.50 250.55,686.50 251.00,686.50 251.44,686.50 251.88,686.50 252.33,686.50 252.77,686.50 253.22,686.50 253.66,686.50 254.10,686.50 254.55,686.50 254.99,686.50 255.44,686.50 255.88,686.50 256.32,686.50 256.77,686.50 257.21,686.50 257.66,686.50 258.10,686.50 258.54,686.50 258.99,686.50 259.43,686.50 259.88,686.50 260.32,686.50 260.76,686.50 261.21,686.50 261.65,686.50 262.10,686.50 262.54,686.50 262.98,686.50 263.43,686.50 263.87,686.50 264.32,686.50 264.76,686.50 265.20,686.50 265.65,686.50 266.09,686.50 266.54,686.50 266.98,686.50 267.42,686.50 267.87,686.50 268.31,686.50 268.76,686.50 269.20,686.50 269.64,686.50 270.09,686.50 270.53,686.50 270.98,686.50 271.42,686.50 271.86,686.50 272.31,686.50 272.75,686.50 273.20,686.50 273.64,686.50 274.08,686.50 274.53,686.50 274.97,686.50 275.42,686.50 275.86,686.50 276.30,686.50 276.75,686.50 277.19,686.50 277.64,686.50 278.08,686.50 278.52,686.50 278.97,686.50 279.41,686.50 279.86,686.50 280.30,686.50 280.74,686.50 281.19,686.50 281.63,686.50 282.08,686.50 282.52,686.50 282.96,686.50 283.41,686.50 283.85,686.49 284.30,686.49 284.74,686.47 285.18,686.42 285.63,686.33 286.07,686.14 286.52,685.79 286.96,685.15 287.40,684.05 287.85,682.23 288.29,679.39 288.74,675.17 289.18,669.24 289.62,661.35 290.07,651.43 290.51,639.72 290.96,626.81 291.40,613.63 291.84,601.40 292.29,591.43 292.73,584.90 293.18,582.62 293.62,583.84 294.06,587.42 294.51,593.12 294.95,600.54 295.40,609.22 295.84,618.66 296.28,628.33 296.73,637.79 297.17,646.67 297.62,654.69 298.06,661.69 298.50,667.60 298.95,672.44 299.39,676.29 299.84,679.25 300.28,681.48 300.72,683.10 301.17,684.25 301.61,685.05 302.06,685.59 302.50,685.94 302.94,686.16 303.39,686.30 303.83,686.39 304.28,686.44 304.72,686.47 305.16,686.48 305.61,686.49 306.05,686.50 306.50,686.50 306.94,686.50 307.38,686.50 307.83,686.50 308.27,686.50 308.72,686.50 309.16,686.50 309.60,686.50 310.05,686.50 310.49,686.50 310.94,686.50 311.38,686.50 311.82,686.49 312.27,686.49 312.71,686.49 313.16,686.48 313.60,686.47 314.04,686.45 314.49,686.42 314.93,686.39 315.38,686.33 315.82,686.26 316.26,686.16 316.71,686.02 317.15,685.83 317.60,685.59 318.04,685.27 318.48,684.87 318.93,684.36 319.37,683.74 319.82,682.99 320.26,682.08 320.70,681.03 321.15,679.81 321.59,678.44 322.04,676.91 322.48,675.26 322.92,673.50 323.37,671.67 323.81,669.82 324.26,668.00 324.70,666.26 325.14,664.66 325.59,663.25 326.03,662.10 326.48,661.24 326.92,660.71 327.36,660.53 327.81,660.69 328.25,661.16 328.70,661.93 329.14,662.97 329.58,664.24 330.03,665.70 330.47,667.31 330.92,669.01 331.36,670.75 331.80,672.49 332.25,674.19 332.69,675.82 333.14,677.35 333.58,678.75 334.02,680.02 334.47,681.15 334.91,682.14 335.36,682.98 335.80,683.70 336.24,684.29 336.69,684.78 337.13,685.16 337.58,685.46 338.02,685.68 338.46,685.83 338.91,685.91 339.35,685.92 339.80,685.86 340.24,685.72 340.68,685.49 341.13,685.15 341.57,684.67 342.02,684.03 342.46,683.21 342.90,682.18 343.35,680.92 343.79,679.41 344.24,677.65 344.68,675.65 345.12,673.43 345.57,671.02 346.01,668.50 346.46,665.93 346.90,663.41 347.34,661.04 347.79,658.92 348.23,657.14 348.68,655.81 349.12,654.98 349.56,654.70 350.01,654.95 350.45,655.68 350.90,656.86 351.34,658.44 351.78,660.34 352.23,662.50 352.67,664.81 353.12,667.21 353.56,669.61 354.00,671.94 354.45,674.14 354.89,676.18 355.34,678.01 355.78,679.62 356.22,681.02 356.67,682.20 357.11,683.17 357.56,683.97 358.00,684.61 358.44,685.10 358.89,685.49 359.33,685.78 359.78,685.99 360.22,686.15 360.66,686.26 361.11,686.34 361.55,686.39 362.00,686.43 362.44,686.46 362.88,686.47 363.33,686.48 363.77,686.49 364.22,686.49 364.66,686.50 365.10,686.50 365.55,686.50 365.99,686.50 366.44,686.50 366.88,686.50 367.32,686.50 367.77,686.50 368.21,686.50 368.66,686.50 369.10,686.50 369.54,686.50 369.99,686.50 370.43,686.50 370.88,686.50 371.32,686.50 371.76,686.50 372.21,686.50 372.65,686.50 373.10,686.50 373.54,686.49 373.98,686.48 374.43,686.44 374.87,686.37 375.32,686.22 375.76,685.97 376.20,685.56 376.65,684.96 377.09,684.18 377.54,683.29 377.98,682.39 378.42,681.67 378.87,681.25 379.31,681.25 379.76,681.67 380.20,682.39 380.64,683.29 381.09,684.18 381.53,684.96 381.98,685.56 382.42,685.97 382.86,686.22 383.31,686.37 383.75,686.44 384.20,686.48 384.64,686.49 385.08,686.50 385.53,686.50 385.97,686.50 386.42,686.50 386.86,686.50 387.30,686.50 387.75,686.50 388.19,686.50 388.64,686.50 389.08,686.50 389.52,686.50 389.97,686.50 390.41,686.50 390.86,686.50 391.30,686.50 391.74,686.50 392.19,686.50 392.63,686.50 393.08,686.50 393.52,686.50 393.96,686.50 394.41,686.50 394.85,686.50 395.30,686.50 395.74,686.50 396.18,686.50 396.63,686.50 397.07,686.50 397.52,686.50 397.96,686.50 398.40,686.50 398.85,686.50 399.29,686.50 399.74,686.50 400.18,686.50 400.62,686.50 401.07,686.50 401.51,686.50 401.96,686.50 402.40,686.50 402.84,686.50 403.29,686.50 403.73,686.50 404.18,686.50 404.62,686.50 405.06,686.50 405.51,686.50 405.95,686.50 406.40,686.50 406.84,686.50 407.28,686.50 407.73,686.50 408.17,686.50 408.62,686.50 409.06,686.50 409.50,686.50 409.95,686.50 410.39,686.50 410.84,686.50 411.28,686.50 411.72,686.50 412.17,686.50 412.61,686.50 413.06,686.50 413.50,686.50 413.94,686.50 414.39,686.50 414.83,686.50 415.28,686.50 415.72,686.50 416.16,686.50 416.61,686.50 417.05,686.50 417.50,686.50 417.94,686.50 418.38,686.50 418.83,686.50 419.27,686.50 419.72,686.50 420.16,686.50 420.60,686.50 421.05,686.50 421.49,686.50 421.94,686.50 422.38,686.50 422.82,686.50 423.27,686.50 423.71,686.50 424.16,686.50 424.60,686.50" fill="none" stroke="#8fd4c4" stroke-width="0.85" stroke-linejoin="round"/>
<polyline points="247.00,686.50 247.44,686.50 247.89,686.50 248.33,686.50 248.78,686.50 249.22,686.50 249.66,686.50 250.11,686.50 250.55,686.50 251.00,686.50 251.44,686.50 251.88,686.50 252.33,686.50 252.77,686.50 253.22,686.50 253.66,686.50 254.10,686.50 254.55,686.50 254.99,686.50 255.44,686.50 255.88,686.50 256.32,686.50 256.77,686.50 257.21,686.50 257.66,686.50 258.10,686.50 258.54,686.50 258.99,686.50 259.43,686.50 259.88,686.50 260.32,686.50 260.76,686.50 261.21,686.50 261.65,686.50 262.10,686.50 262.54,686.50 262.98,686.50 263.43,686.50 263.87,686.50 264.32,686.50 264.76,686.50 265.20,686.50 265.65,686.50 266.09,686.50 266.54,686.50 266.98,686.50 267.42,686.50 267.87,686.50 268.31,686.50 268.76,686.50 269.20,686.50 269.64,686.50 270.09,686.50 270.53,686.50 270.98,686.50 271.42,686.50 271.86,686.50 272.31,686.50 272.75,686.50 273.20,686.50 273.64,686.50 274.08,686.50 274.53,686.50 274.97,686.50 275.42,686.50 275.86,686.50 276.30,686.50 276.75,686.50 277.19,686.50 277.64,686.50 278.08,686.50 278.52,686.50 278.97,686.50 279.41,686.50 279.86,686.50 280.30,686.50 280.74,686.50 281.19,686.50 281.63,686.49 282.08,686.49 282.52,686.47 282.96,686.42 283.41,686.33 283.85,686.15 284.30,685.80 284.74,685.17 285.18,684.08 285.63,682.29 286.07,679.50 286.52,675.35 286.96,669.51 287.40,661.73 287.85,651.97 288.29,640.44 288.74,627.72 289.18,614.75 289.62,602.71 290.07,592.89 290.51,586.45 290.96,584.21 291.40,585.62 291.84,589.74 292.29,596.23 292.73,604.59 293.18,614.22 293.62,624.46 294.06,634.71 294.51,644.45 294.95,653.29 295.40,660.99 295.84,667.45 296.28,672.66 296.73,676.72 297.17,679.78 297.62,682.01 298.06,683.58 298.50,684.65 298.95,685.36 299.39,685.82 299.84,686.10 300.28,686.28 300.72,686.38 301.17,686.43 301.61,686.47 302.06,686.48 302.50,686.49 302.94,686.50 303.39,686.50 303.83,686.50 304.28,686.50 304.72,686.50 305.16,686.50 305.61,686.50 306.05,686.50 306.50,686.50 306.94,686.50 307.38,686.50 307.83,686.50 308.27,686.50 308.72,686.50 309.16,686.50 309.60,686.50 310.05,686.50 310.49,686.50 310.94,686.49 311.38,686.49 311.82,686.49 312.27,686.48 312.71,686.47 313.16,686.45 313.60,686.43 314.04,686.39 314.49,686.34 314.93,686.27 315.38,686.17 315.82,686.04 316.26,685.86 316.71,685.63 317.15,685.32 317.60,684.94 318.04,684.45 318.48,683.85 318.93,683.13 319.37,682.26 319.82,681.25 320.26,680.08 320.70,678.77 321.15,677.30 321.59,675.72 322.04,674.03 322.48,672.28 322.92,670.50 323.37,668.75 323.81,667.08 324.26,665.55 324.70,664.20 325.14,663.09 325.59,662.27 326.03,661.76 326.48,661.59 326.92,661.74 327.36,662.20 327.81,662.94 328.25,663.93 328.70,665.15 329.14,666.55 329.58,668.09 330.03,669.72 330.47,671.39 330.92,673.06 331.36,674.70 331.80,676.26 332.25,677.72 332.69,679.07 333.14,680.29 333.58,681.37 334.02,682.31 334.47,683.13 334.91,683.81 335.36,684.38 335.80,684.85 336.24,685.23 336.69,685.52 337.13,685.74 337.58,685.89 338.02,685.99 338.46,686.03 338.91,686.01 339.35,685.92 339.80,685.76 340.24,685.51 340.68,685.15 341.13,684.66 341.57,684.00 342.02,683.17 342.46,682.12 342.90,680.83 343.35,679.30 343.79,677.51 344.24,675.47 344.68,673.21 345.12,670.76 345.57,668.20 346.01,665.59 346.46,663.02 346.90,660.61 347.34,658.46 347.79,656.66 348.23,655.30 348.68,654.46 349.12,654.17 349.56,654.42 350.01,655.16 350.45,656.37 350.90,657.97 351.34,659.91 351.78,662.10 352.23,664.45 352.67,666.89 353.12,669.33 353.56,671.70 354.00,673.94 354.45,676.00 354.89,677.87 355.34,679.51 355.78,680.93 356.22,682.12 356.67,683.12 357.11,683.93 357.56,684.57 358.00,685.08 358.44,685.47 358.89,685.76 359.33,685.98 359.78,686.14 360.22,686.26 360.66,686.34 361.11,686.39 361.55,686.43 362.00,686.45 362.44,686.47 362.88,686.48 363.33,686.49 363.77,686.49 364.22,686.50 364.66,686.50 365.10,686.50 365.55,686.50 365.99,686.50 366.44,686.50 366.88,686.50 367.32,686.50 367.77,686.50 368.21,686.50 368.66,686.50 369.10,686.50 369.54,686.50 369.99,686.50 370.43,686.50 370.88,686.50 371.32,686.50 371.76,686.50 372.21,686.50 372.65,686.50 373.10,686.50 373.54,686.49 373.98,686.47 374.43,686.43 374.87,686.34 375.32,686.17 375.76,685.86 376.20,685.37 376.65,684.65 377.09,683.72 377.54,682.64 377.98,681.57 378.42,680.70 378.87,680.20 379.31,680.20 379.76,680.70 380.20,681.57 380.64,682.64 381.09,683.72 381.53,684.65 381.98,685.37 382.42,685.86 382.86,686.17 383.31,686.34 383.75,686.43 384.20,686.47 384.64,686.49 385.08,686.50 385.53,686.50 385.97,686.50 386.42,686.50 386.86,686.50 387.30,686.50 387.75,686.50 388.19,686.50 388.64,686.50 389.08,686.50 389.52,686.50 389.97,686.50 390.41,686.50 390.86,686.50 391.30,686.50 391.74,686.50 392.19,686.50 392.63,686.50 393.08,686.50 393.52,686.50 393.96,686.50 394.41,686.50 394.85,686.50 395.30,686.50 395.74,686.50 396.18,686.50 396.63,686.50 397.07,686.50 397.52,686.50 397.96,686.50 398.40,686.50 398.85,686.50 399.29,686.50 399.74,686.50 400.18,686.50 400.62,686.50 401.07,686.50 401.51,686.50 401.96,686.50 402.40,686.50 402.84,686.50 403.29,686.50 403.73,686.50 404.18,686.50 404.62,686.50 405.06,686.50 405.51,686.50 405.95,686.50 406.40,686.50 406.84,686.50 407.28,686.50 407.73,686.50 408.17,686.50 408.62,686.50 409.06,686.50 409.50,686.50 409.95,686.50 410.39,686.50 410.84,686.50 411.28,686.50 411.72,686.50 412.17,686.50 412.61,686.50 413.06,686.50 413.50,686.50 413.94,686.50 414.39,686.50 414.83,686.50 415.28,686.50 415.72,686.50 416.16,686.50 416.61,686.50 417.05,686.50 417.50,686.50 417.94,686.50 418.38,686.50 418.83,686.50 419.27,686.50 419.72,686.50 420.16,686.50 420.60,686.50 421.05,686.50 421.49,686.50 421.94,686.50 422.38,686.50 422.82,686.50 423.27,686.50 423.71,686.50 424.16,686.50 424.60,686.50" fill="none" stroke="#cc3fa0" stroke-width="0.85" stroke-linejoin="round"/>
<polyline points="247.00,686.50 247.44,686.50 247.89,686.50 248.33,686.50 248.78,686.50 249.22,686.50 249.66,686.50 250.11,686.50 250.55,686.50 251.00,686.50 251.44,686.50 251.88,686.50 252.33,686.50 252.77,686.50 253.22,686.50 253.66,686.50 254.10,686.50 254.55,686.50 254.99,686.50 255.44,686.50 255.88,686.50 256.32,686.50 256.77,686.50 257.21,686.50 257.66,686.50 258.10,686.50 258.54,686.50 258.99,686.50 259.43,686.50 259.88,686.50 260.32,686.50 260.76,686.50 261.21,686.50 261.65,686.50 262.10,686.50 262.54,686.50 262.98,686.50 263.43,686.50 263.87,686.50 264.32,686.50 264.76,686.50 265.20,686.50 265.65,686.50 266.09,686.50 266.54,686.50 266.98,686.50 267.42,686.50 267.87,686.50 268.31,686.50 268.76,686.50 269.20,686.50 269.64,686.50 270.09,686.50 270.53,686.50 270.98,686.50 271.42,686.50 271.86,686.50 272.31,686.50 272.75,686.50 273.20,686.50 273.64,686.50 274.08,686.50 274.53,686.50 274.97,686.50 275.42,686.50 275.86,686.50 276.30,686.50 276.75,686.50 277.19,686.50 277.64,686.50 278.08,686.50 278.52,686.50 278.97,686.50 279.41,686.50 279.86,686.50 280.30,686.50 280.74,686.50 281.19,686.50 281.63,686.50 282.08,686.50 282.52,686.49 282.96,686.48 283.41,686.45 283.85,686.40 284.30,686.30 284.74,686.10 285.18,685.74 285.63,685.12 286.07,684.08 286.52,682.42 286.96,679.91 287.40,676.27 287.85,671.24 288.29,664.63 288.74,656.39 289.18,646.66 289.62,635.85 290.07,624.64 290.51,613.90 290.96,604.65 291.40,597.83 291.84,594.21 292.29,594.02 292.73,596.19 293.18,600.36 293.62,606.27 294.06,613.51 294.51,621.66 294.95,630.24 295.40,638.83 295.84,647.06 296.28,654.62 296.73,661.34 297.17,667.11 297.62,671.90 298.06,675.77 298.50,678.80 298.95,681.10 299.39,682.80 299.84,684.03 300.28,684.88 300.72,685.47 301.17,685.86 301.61,686.11 302.06,686.27 302.50,686.37 302.94,686.42 303.39,686.46 303.83,686.48 304.28,686.49 304.72,686.49 305.16,686.50 305.61,686.50 306.05,686.50 306.50,686.50 306.94,686.50 307.38,686.50 307.83,686.50 308.27,686.50 308.72,686.50 309.16,686.50 309.60,686.50 310.05,686.50 310.49,686.50 310.94,686.50 311.38,686.49 311.82,686.49 312.27,686.49 312.71,686.48 313.16,686.47 313.60,686.45 314.04,686.42 314.49,686.39 314.93,686.34 315.38,686.26 315.82,686.16 316.26,686.03 316.71,685.85 317.15,685.61 317.60,685.30 318.04,684.90 318.48,684.41 318.93,683.80 319.37,683.06 319.82,682.17 320.26,681.14 320.70,679.95 321.15,678.60 321.59,677.11 322.04,675.49 322.48,673.77 322.92,671.98 323.37,670.16 323.81,668.38 324.26,666.67 324.70,665.10 325.14,663.73 325.59,662.60 326.03,661.75 326.48,661.24 326.92,661.06 327.36,661.22 327.81,661.68 328.25,662.43 328.70,663.45 329.14,664.70 329.58,666.13 330.03,667.70 330.47,669.36 330.92,671.07 331.36,672.78 331.80,674.45 332.25,676.04 332.69,677.54 333.14,678.91 333.58,680.16 334.02,681.26 334.47,682.23 334.91,683.06 335.36,683.76 335.80,684.34 336.24,684.82 336.69,685.20 337.13,685.50 337.58,685.72 338.02,685.88 338.46,685.99 338.91,686.03 339.35,686.01 339.80,685.93 340.24,685.77 340.68,685.52 341.13,685.17 341.57,684.68 342.02,684.04 342.46,683.22 342.90,682.19 343.35,680.93 343.79,679.42 344.24,677.66 344.68,675.65 345.12,673.43 345.57,671.02 346.01,668.50 346.46,665.93 346.90,663.41 347.34,661.04 347.79,658.92 348.23,657.14 348.68,655.81 349.12,654.98 349.56,654.70 350.01,654.95 350.45,655.68 350.90,656.86 351.34,658.44 351.78,660.34 352.23,662.50 352.67,664.81 353.12,667.21 353.56,669.61 354.00,671.94 354.45,674.14 354.89,676.18 355.34,678.01 355.78,679.62 356.22,681.02 356.67,682.20 357.11,683.17 357.56,683.97 358.00,684.61 358.44,685.10 358.89,685.49 359.33,685.78 359.78,685.99 360.22,686.15 360.66,686.26 361.11,686.34 361.55,686.39 362.00,686.43 362.44,686.46 362.88,686.47 363.33,686.48 363.77,686.49 364.22,686.49 364.66,686.50 365.10,686.50 365.55,686.50 365.99,686.50 366.44,686.50 366.88,686.50 367.32,686.50 367.77,686.50 368.21,686.50 368.66,686.50 369.10,686.50 369.54,686.50 369.99,686.50 370.43,686.50 370.88,686.50 371.32,686.50 371.76,686.50 372.21,686.50 372.65,686.50 373.10,686.50 373.54,686.49 373.98,686.47 374.43,686.44 374.87,686.35 375.32,686.19 375.76,685.91 376.20,685.46 376.65,684.80 377.09,683.95 377.54,682.96 377.98,681.98 378.42,681.18 378.87,680.73 379.31,680.73 379.76,681.18 380.20,681.98 380.64,682.96 381.09,683.95 381.53,684.80 381.98,685.46 382.42,685.91 382.86,686.19 383.31,686.35 383.75,686.44 384.20,686.47 384.64,686.49 385.08,686.50 385.53,686.50 385.97,686.50 386.42,686.50 386.86,686.50 387.30,686.50 387.75,686.50 388.19,686.50 388.64,686.50 389.08,686.50 389.52,686.50 389.97,686.50 390.41,686.50 390.86,686.50 391.30,686.50 391.74,686.50 392.19,686.50 392.63,686.50 393.08,686.50 393.52,686.50 393.96,686.50 394.41,686.50 394.85,686.50 395.30,686.50 395.74,686.50 396.18,686.50 396.63,686.50 397.07,686.50 397.52,686.50 397.96,686.50 398.40,686.50 398.85,686.50 399.29,686.50 399.74,686.50 400.18,686.50 400.62,686.50 401.07,686.50 401.51,686.50 401.96,686.50 402.40,686.50 402.84,686.50 403.29,686.50 403.73,686.50 404.18,686.50 404.62,686.50 405.06,686.50 405.51,686.50 405.95,686.50 406.40,686.50 406.84,686.50 407.28,686.50 407.73,686.50 408.17,686.50 408.62,686.50 409.06,686.50 409.50,686.50 409.95,686.50 410.39,686.50 410.84,686.50 411.28,686.50 411.72,686.50 412.17,686.50 412.61,686.50 413.06,686.50 413.50,686.50 413.94,686.50 414.39,686.50 414.83,686.50 415.28,686.50 415.72,686.50 416.16,686.50 416.61,686.50 417.05,686.50 417.50,686.50 417.94,686.50 418.38,686.50 418.83,686.50 419.27,686.50 419.72,686.50 420.16,686.50 420.60,686.50 421.05,686.50 421.49,686.50 421.94,686.50 422.38,686.50 422.82,686.50 423.27,686.50 423.71,686.50 424.16,686.50 424.60,686.50" fill="none" stroke="#8c5cdc" stroke-width="0.85" stroke-linejoin="round"/>
<polyline points="247.00,686.50 247.44,686.50 247.89,686.50 248.33,686.50 248.78,686.50 249.22,686.50 249.66,686.50 250.11,686.50 250.55,686.50 251.00,686.50 251.44,686.50 251.88,686.50 252.33,686.50 252.77,686.50 253.22,686.50 253.66,686.50 254.10,686.50 254.55,686.50 254.99,686.50 255.44,686.50 255.88,686.50 256.32,686.50 256.77,686.50 257.21,686.50 257.66,686.50 258.10,686.50 258.54,686.50 258.99,686.50 259.43,686.50 259.88,686.50 260.32,686.50 260.76,686.50 261.21,686.50 261.65,686.50 262.10,686.50 262.54,686.50 262.98,686.50 263.43,686.50 263.87,686.50 264.32,686.50 264.76,686.50 265.20,686.50 265.65,686.50 266.09,686.50 266.54,686.50 266.98,686.50 267.42,686.50 267.87,686.50 268.31,686.50 268.76,686.50 269.20,686.50 269.64,686.50 270.09,686.50 270.53,686.50 270.98,686.50 271.42,686.50 271.86,686.50 272.31,686.50 272.75,686.50 273.20,686.50 273.64,686.50 274.08,686.50 274.53,686.50 274.97,686.50 275.42,686.50 275.86,686.50 276.30,686.50 276.75,686.50 277.19,686.50 277.64,686.50 278.08,686.50 278.52,686.50 278.97,686.50 279.41,686.50 279.86,686.50 280.30,686.50 280.74,686.50 281.19,686.50 281.63,686.50 282.08,686.50 282.52,686.50 282.96,686.50 283.41,686.50 283.85,686.50 284.30,686.50 284.74,686.49 285.18,686.48 285.63,686.45 286.07,686.39 286.52,686.26 286.96,686.01 287.40,685.56 287.85,684.74 288.29,683.38 288.74,681.18 289.18,677.84 289.62,673.02 290.07,666.41 290.51,657.85 290.96,647.43 291.40,635.53 291.84,622.89 292.29,610.55 292.73,599.75 293.18,591.71 293.62,587.41 294.06,587.15 294.51,589.48 294.95,593.96 295.40,600.31 295.84,608.09 296.28,616.84 296.73,626.07 297.17,635.29 297.62,644.13 298.06,652.26 298.50,659.47 298.95,665.67 299.39,670.82 299.84,674.97 300.28,678.22 300.72,680.70 301.17,682.53 301.61,683.84 302.06,684.76 302.50,685.39 302.94,685.81 303.39,686.08 303.83,686.25 304.28,686.36 304.72,686.42 305.16,686.45 305.61,686.48 306.05,686.49 306.50,686.49 306.94,686.50 307.38,686.50 307.83,686.50 308.27,686.50 308.72,686.50 309.16,686.50 309.60,686.50 310.05,686.50 310.49,686.50 310.94,686.50 311.38,686.50 311.82,686.50 312.27,686.49 312.71,686.49 313.16,686.48 313.60,686.47 314.04,686.46 314.49,686.44 314.93,686.41 315.38,686.36 315.82,686.30 316.26,686.21 316.71,686.09 317.15,685.93 317.60,685.72 318.04,685.44 318.48,685.08 318.93,684.63 319.37,684.07 319.82,683.38 320.26,682.55 320.70,681.58 321.15,680.44 321.59,679.14 322.04,677.69 322.48,676.10 322.92,674.39 323.37,672.59 323.81,670.75 324.26,668.90 324.70,667.11 325.14,665.44 325.59,663.93 326.03,662.64 326.48,661.63 326.92,660.93 327.36,660.57 327.81,660.57 328.25,660.89 328.70,661.51 329.14,662.42 329.58,663.58 330.03,664.95 330.47,666.49 330.92,668.15 331.36,669.87 331.80,671.62 332.25,673.35 332.69,675.02 333.14,676.60 333.58,678.07 334.02,679.41 334.47,680.61 334.91,681.66 335.36,682.58 335.80,683.36 336.24,684.01 336.69,684.55 337.13,684.98 337.58,685.33 338.02,685.59 338.46,685.78 338.91,685.90 339.35,685.96 339.80,685.96 340.24,685.88 340.68,685.73 341.13,685.48 341.57,685.12 342.02,684.62 342.46,683.96 342.90,683.11 343.35,682.04 343.79,680.74 344.24,679.18 344.68,677.36 345.12,675.29 345.57,672.99 346.01,670.50 346.46,667.90 346.90,665.24 347.34,662.64 347.79,660.19 348.23,658.00 348.68,656.17 349.12,654.79 349.56,653.93 350.01,653.64 350.45,653.90 350.90,654.65 351.34,655.87 351.78,657.50 352.23,659.47 352.67,661.70 353.12,664.09 353.56,666.57 354.00,669.05 354.45,671.46 354.89,673.73 355.34,675.83 355.78,677.72 356.22,679.39 356.67,680.83 357.11,682.05 357.56,683.06 358.00,683.89 358.44,684.54 358.89,685.06 359.33,685.45 359.78,685.75 360.22,685.97 360.66,686.13 361.11,686.25 361.55,686.33 362.00,686.39 362.44,686.43 362.88,686.45 363.33,686.47 363.77,686.48 364.22,686.49 364.66,686.49 365.10,686.50 365.55,686.50 365.99,686.50 366.44,686.50 366.88,686.50 367.32,686.50 367.77,686.50 368.21,686.50 368.66,686.50 369.10,686.50 369.54,686.50 369.99,686.50 370.43,686.50 370.88,686.50 371.32,686.50 371.76,686.50 372.21,686.50 372.65,686.50 373.10,686.50 373.54,686.49 373.98,686.48 374.43,686.46 374.87,686.40 375.32,686.29 375.76,686.07 376.20,685.71 376.65,685.16 377.09,684.40 377.54,683.47 377.98,682.46 378.42,681.55 378.87,680.90 379.31,680.67 379.76,680.90 380.20,681.55 380.64,682.46 381.09,683.47 381.53,684.40 381.98,685.16 382.42,685.71 382.86,686.07 383.31,686.29 383.75,686.40 384.20,686.46 384.64,686.48 385.08,686.49 385.53,686.50 385.97,686.50 386.42,686.50 386.86,686.50 387.30,686.50 387.75,686.50 388.19,686.50 388.64,686.50 389.08,686.50 389.52,686.50 389.97,686.50 390.41,686.50 390.86,686.50 391.30,686.50 391.74,686.50 392.19,686.50 392.63,686.50 393.08,686.50 393.52,686.50 393.96,686.50 394.41,686.50 394.85,686.50 395.30,686.50 395.74,686.50 396.18,686.50 396.63,686.50 397.07,686.50 397.52,686.50 397.96,686.50 398.40,686.50 398.85,686.50 399.29,686.50 399.74,686.50 400.18,686.50 400.62,686.50 401.07,686.50 401.51,686.50 401.96,686.50 402.40,686.50 402.84,686.50 403.29,686.50 403.73,686.50 404.18,686.50 404.62,686.50 405.06,686.50 405.51,686.50 405.95,686.50 406.40,686.50 406.84,686.50 407.28,686.50 407.73,686.50 408.17,686.50 408.62,686.50 409.06,686.50 409.50,686.50 409.95,686.50 410.39,686.50 410.84,686.50 411.28,686.50 411.72,686.50 412.17,686.50 412.61,686.50 413.06,686.50 413.50,686.50 413.94,686.50 414.39,686.50 414.83,686.50 415.28,686.50 415.72,686.50 416.16,686.50 416.61,686.50 417.05,686.50 417.50,686.50 417.94,686.50 418.38,686.50 418.83,686.50 419.27,686.50 419.72,686.50 420.16,686.50 420.60,686.50 421.05,686.50 421.49,686.50 421.94,686.50 422.38,686.50 422.82,686.50 423.27,686.50 423.71,686.50 424.16,686.50 424.60,686.50" fill="none" stroke="#4a9cb6" stroke-width="0.85" stroke-linejoin="round"/>
<polyline points="247.00,686.50 247.44,686.50 247.89,686.50 248.33,686.50 248.78,686.50 249.22,686.50 249.66,686.50 250.11,686.50 250.55,686.50 251.00,686.50 251.44,686.50 251.88,686.50 252.33,686.50 252.77,686.50 253.22,686.50 253.66,686.50 254.10,686.50 254.55,686.50 254.99,686.50 255.44,686.50 255.88,686.50 256.32,686.50 256.77,686.50 257.21,686.50 257.66,686.50 258.10,686.50 258.54,686.50 258.99,686.50 259.43,686.50 259.88,686.50 260.32,686.50 260.76,686.50 261.21,686.50 261.65,686.50 262.10,686.50 262.54,686.50 262.98,686.50 263.43,686.50 263.87,686.50 264.32,686.50 264.76,686.50 265.20,686.50 265.65,686.50 266.09,686.50 266.54,686.50 266.98,686.50 267.42,686.50 267.87,686.50 268.31,686.50 268.76,686.50 269.20,686.50 269.64,686.50 270.09,686.50 270.53,686.50 270.98,686.50 271.42,686.50 271.86,686.50 272.31,686.50 272.75,686.50 273.20,686.50 273.64,686.50 274.08,686.50 274.53,686.50 274.97,686.50 275.42,686.50 275.86,686.50 276.30,686.50 276.75,686.50 277.19,686.50 277.64,686.50 278.08,686.50 278.52,686.50 278.97,686.50 279.41,686.50 279.86,686.50 280.30,686.50 280.74,686.50 281.19,686.50 281.63,686.50 282.08,686.50 282.52,686.50 282.96,686.49 283.41,686.48 283.85,686.45 284.30,686.38 284.74,686.24 285.18,685.95 285.63,685.41 286.07,684.45 286.52,682.84 286.96,680.32 287.40,676.60 287.85,671.41 288.29,664.61 288.74,656.18 289.18,646.32 289.62,635.42 290.07,624.03 290.51,612.79 290.96,602.40 291.40,593.56 291.84,586.92 292.29,583.03 292.73,582.28 293.18,584.66 293.62,588.92 294.06,594.70 294.51,601.79 294.95,609.92 295.40,618.73 295.84,627.83 296.28,636.86 296.73,645.45 297.17,653.34 297.62,660.33 298.06,666.33 298.50,671.32 298.95,675.34 299.39,678.49 299.84,680.88 300.28,682.65 300.72,683.93 301.17,684.82 301.61,685.43 302.06,685.83 302.50,686.09 302.94,686.26 303.39,686.36 303.83,686.42 304.28,686.46 304.72,686.48 305.16,686.49 305.61,686.49 306.05,686.50 306.50,686.50 306.94,686.50 307.38,686.50 307.83,686.50 308.27,686.50 308.72,686.50 309.16,686.50 309.60,686.50 310.05,686.50 310.49,686.50 310.94,686.50 311.38,686.49 311.82,686.49 312.27,686.49 312.71,686.48 313.16,686.47 313.60,686.45 314.04,686.42 314.49,686.39 314.93,686.34 315.38,686.26 315.82,686.16 316.26,686.03 316.71,685.85 317.15,685.61 317.60,685.30 318.04,684.90 318.48,684.41 318.93,683.80 319.37,683.06 319.82,682.17 320.26,681.14 320.70,679.95 321.15,678.60 321.59,677.11 322.04,675.49 322.48,673.77 322.92,671.98 323.37,670.16 323.81,668.38 324.26,666.67 324.70,665.10 325.14,663.73 325.59,662.60 326.03,661.75 326.48,661.24 326.92,661.06 327.36,661.22 327.81,661.68 328.25,662.43 328.70,663.45 329.14,664.70 329.58,666.13 330.03,667.70 330.47,669.36 330.92,671.07 331.36,672.78 331.80,674.45 332.25,676.04 332.69,677.54 333.14,678.91 333.58,680.16 334.02,681.26 334.47,682.23 334.91,683.06 335.36,683.76 335.80,684.34 336.24,684.82 336.69,685.20 337.13,685.50 337.58,685.73 338.02,685.89 338.46,685.99 338.91,686.03 339.35,686.01 339.80,685.94 340.24,685.78 340.68,685.54 341.13,685.19 341.57,684.71 342.02,684.08 342.46,683.27 342.90,682.26 343.35,681.02 343.79,679.53 344.24,677.80 344.68,675.83 345.12,673.64 345.57,671.28 346.01,668.80 346.46,666.27 346.90,663.79 347.34,661.46 347.79,659.38 348.23,657.63 348.68,656.32 349.12,655.51 349.56,655.23 350.01,655.47 350.45,656.19 350.90,657.35 351.34,658.90 351.78,660.78 352.23,662.90 352.67,665.18 353.12,667.53 353.56,669.89 354.00,672.18 354.45,674.35 354.89,676.35 355.34,678.15 355.78,679.74 356.22,681.11 356.67,682.27 357.11,683.23 357.56,684.01 358.00,684.64 358.44,685.13 358.89,685.50 359.33,685.79 359.78,686.00 360.22,686.15 360.66,686.26 361.11,686.34 361.55,686.39 362.00,686.43 362.44,686.46 362.88,686.47 363.33,686.48 363.77,686.49 364.22,686.49 364.66,686.50 365.10,686.50 365.55,686.50 365.99,686.50 366.44,686.50 366.88,686.50 367.32,686.50 367.77,686.50 368.21,686.50 368.66,686.50 369.10,686.50 369.54,686.50 369.99,686.50 370.43,686.50 370.88,686.50 371.32,686.50 371.76,686.50 372.21,686.50 372.65,686.50 373.10,686.50 373.54,686.49 373.98,686.48 374.43,686.44 374.87,686.37 375.32,686.22 375.76,685.97 376.20,685.56 376.65,684.96 377.09,684.18 377.54,683.29 377.98,682.39 378.42,681.67 378.87,681.25 379.31,681.25 379.76,681.67 380.20,682.39 380.64,683.29 381.09,684.18 381.53,684.96 381.98,685.56 382.42,685.97 382.86,686.22 383.31,686.37 383.75,686.44 384.20,686.48 384.64,686.49 385.08,686.50 385.53,686.50 385.97,686.50 386.42,686.50 386.86,686.50 387.30,686.50 387.75,686.50 388.19,686.50 388.64,686.50 389.08,686.50 389.52,686.50 389.97,686.50 390.41,686.50 390.86,686.50 391.30,686.50 391.74,686.50 392.19,686.50 392.63,686.50 393.08,686.50 393.52,686.50 393.96,686.50 394.41,686.50 394.85,686.50 395.30,686.50 395.74,686.50 396.18,686.50 396.63,686.50 397.07,686.50 397.52,686.50 397.96,686.50 398.40,686.50 398.85,686.50 399.29,686.50 399.74,686.50 400.18,686.50 400.62,686.50 401.07,686.50 401.51,686.50 401.96,686.50 402.40,686.50 402.84,686.50 403.29,686.50 403.73,686.50 404.18,686.50 404.62,686.50 405.06,686.50 405.51,686.50 405.95,686.50 406.40,686.50 406.84,686.50 407.28,686.50 407.73,686.50 408.17,686.50 408.62,686.50 409.06,686.50 409.50,686.50 409.95,686.50 410.39,686.50 410.84,686.50 411.28,686.50 411.72,686.50 412.17,686.50 412.61,686.50 413.06,686.50 413.50,686.50 413.94,686.50 414.39,686.50 414.83,686.50 415.28,686.50 415.72,686.50 416.16,686.50 416.61,686.50 417.05,686.50 417.50,686.50 417.94,686.50 418.38,686.50 418.83,686.50 419.27,686.50 419.72,686.50 420.16,686.50 420.60,686.50 421.05,686.50 421.49,686.50 421.94,686.50 422.38,686.50 422.82,686.50 423.27,686.50 423.71,686.50 424.16,686.50 424.60,686.50" fill="none" stroke="#b8a868" stroke-width="0.85" stroke-linejoin="round"/>
<path d="M374.6 564.6H396.2" stroke="#8fd4c4" stroke-width="1.1"/>
<text x="398.5" y="567.4" font-size="8.2" font-weight="normal" text-anchor="start" fill="#222" textLength="19.5" lengthAdjust="spacingAndGlyphs" stroke="#222" stroke-width="0.22">Mg-O</text>
<path d="M374.6 576.6H396.2" stroke="#cc3fa0" stroke-width="1.1"/>
<text x="398.5" y="579.4499999999999" font-size="8.2" font-weight="normal" text-anchor="start" fill="#222" textLength="17.5" lengthAdjust="spacingAndGlyphs" stroke="#222" stroke-width="0.22">Co-O</text>
<path d="M374.6 588.7H396.2" stroke="#8c5cdc" stroke-width="1.1"/>
<text x="398.5" y="591.5" font-size="8.2" font-weight="normal" text-anchor="start" fill="#222" textLength="17.5" lengthAdjust="spacingAndGlyphs" stroke="#222" stroke-width="0.22">Ni-O</text>
<path d="M374.6 600.8H396.2" stroke="#4a9cb6" stroke-width="1.1"/>
<text x="398.5" y="603.55" font-size="8.2" font-weight="normal" text-anchor="start" fill="#222" textLength="17.5" lengthAdjust="spacingAndGlyphs" stroke="#222" stroke-width="0.22">Cu-O</text>
<path d="M374.6 612.8H396.2" stroke="#b8a868" stroke-width="1.1"/>
<text x="398.5" y="615.6" font-size="8.2" font-weight="normal" text-anchor="start" fill="#222" textLength="17.5" lengthAdjust="spacingAndGlyphs" stroke="#222" stroke-width="0.22">Zn-O</text>
<path d="M307.4 666V698.5" stroke="#555" stroke-width="0.8" stroke-dasharray="1 1"/>
<path d="M318.3 666V698.5" stroke="#555" stroke-width="0.8" stroke-dasharray="1 1"/>
<path d="M310.7 675.3H314.9" stroke="#333" stroke-width="0.9" stroke-dasharray="1.4 0.8"/>
<polygon points="308.7,675.3 311.2,673.8 311.2,676.8" fill="#222"/><polygon points="316.9,675.3 314.4,673.8 314.4,676.8" fill="#222"/>
<rect x="454.3" y="555.2" width="178.3" height="143.89999999999998" fill="none" stroke="#555" stroke-width="1.1"/>
<path d="M451.7 684.4H454.3" stroke="#555" stroke-width="0.9"/>
<text x="449.3" y="687.1999999999999" font-size="8.0" font-weight="normal" text-anchor="end" fill="#222" textLength="3.9" lengthAdjust="spacingAndGlyphs" stroke="#222" stroke-width="0.22">0</text>
<path d="M452.8 670.0H454.3" stroke="#555" stroke-width="0.8"/>
<path d="M451.7 655.5H454.3" stroke="#555" stroke-width="0.9"/>
<text x="449.3" y="658.3499999999999" font-size="8.0" font-weight="normal" text-anchor="end" fill="#222" textLength="3.9" lengthAdjust="spacingAndGlyphs" stroke="#222" stroke-width="0.22">5</text>
<path d="M452.8 641.1H454.3" stroke="#555" stroke-width="0.8"/>
<path d="M451.7 626.7H454.3" stroke="#555" stroke-width="0.9"/>
<text x="449.3" y="629.4999999999999" font-size="8.0" font-weight="normal" text-anchor="end" fill="#222" textLength="7.9" lengthAdjust="spacingAndGlyphs" stroke="#222" stroke-width="0.22">10</text>
<path d="M452.8 612.3H454.3" stroke="#555" stroke-width="0.8"/>
<path d="M451.7 597.9H454.3" stroke="#555" stroke-width="0.9"/>
<text x="449.3" y="600.65" font-size="8.0" font-weight="normal" text-anchor="end" fill="#222" textLength="7.9" lengthAdjust="spacingAndGlyphs" stroke="#222" stroke-width="0.22">15</text>
<path d="M452.8 583.4H454.3" stroke="#555" stroke-width="0.8"/>
<path d="M451.7 569.0H454.3" stroke="#555" stroke-width="0.9"/>
<text x="449.3" y="571.8" font-size="8.0" font-weight="normal" text-anchor="end" fill="#222" textLength="7.9" lengthAdjust="spacingAndGlyphs" stroke="#222" stroke-width="0.22">20</text>
<path d="M452.8 698.8H454.3" stroke="#555" stroke-width="0.8"/>
<path d="M454.5 699.1V701.7" stroke="#555" stroke-width="0.9"/>
<text x="454.5" y="709.9" font-size="7.8" font-weight="normal" text-anchor="middle" fill="#222" textLength="4.3" lengthAdjust="spacingAndGlyphs" stroke="#222" stroke-width="0.22">0</text>
<path d="M476.6 699.1V700.6" stroke="#555" stroke-width="0.9"/>
<path d="M498.8 699.1V701.7" stroke="#555" stroke-width="0.9"/>
<text x="498.8" y="709.9" font-size="7.8" font-weight="normal" text-anchor="middle" fill="#222" textLength="4.3" lengthAdjust="spacingAndGlyphs" stroke="#222" stroke-width="0.22">2</text>
<path d="M521.0 699.1V700.6" stroke="#555" stroke-width="0.9"/>
<path d="M543.1 699.1V701.7" stroke="#555" stroke-width="0.9"/>
<text x="543.1" y="709.9" font-size="7.8" font-weight="normal" text-anchor="middle" fill="#222" textLength="4.3" lengthAdjust="spacingAndGlyphs" stroke="#222" stroke-width="0.22">4</text>
<path d="M565.2 699.1V700.6" stroke="#555" stroke-width="0.9"/>
<path d="M587.4 699.1V701.7" stroke="#555" stroke-width="0.9"/>
<text x="587.4" y="709.9" font-size="7.8" font-weight="normal" text-anchor="middle" fill="#222" textLength="4.3" lengthAdjust="spacingAndGlyphs" stroke="#222" stroke-width="0.22">6</text>
<path d="M609.5 699.1V700.6" stroke="#555" stroke-width="0.9"/>
<path d="M631.7 699.1V701.7" stroke="#555" stroke-width="0.9"/>
<text x="631.7" y="709.9" font-size="7.8" font-weight="normal" text-anchor="middle" fill="#222" textLength="4.3" lengthAdjust="spacingAndGlyphs" stroke="#222" stroke-width="0.22">8</text>
<text x="542.95" y="718.5" font-size="8.6" font-weight="normal" text-anchor="middle" fill="#222" textLength="40" lengthAdjust="spacingAndGlyphs" stroke="#222" stroke-width="0.22">Distance (Å)</text>
<text x="458" y="567.0" font-size="8.8" font-weight="normal" text-anchor="start" fill="#111" textLength="69.1" lengthAdjust="spacingAndGlyphs" stroke="#111" stroke-width="0.22">Lithiated structure</text>
<text transform="translate(439.2,626.7) rotate(-90)" text-anchor="middle" font-size="9" font-style="italic" fill="#222" textLength="14" lengthAdjust="spacingAndGlyphs">g(r)</text>
<polyline points="454.50,684.40 454.94,684.40 455.39,684.40 455.83,684.40 456.27,684.40 456.71,684.40 457.16,684.40 457.60,684.40 458.04,684.40 458.49,684.40 458.93,684.40 459.37,684.40 459.82,684.40 460.26,684.40 460.70,684.40 461.14,684.40 461.59,684.40 462.03,684.40 462.47,684.40 462.92,684.40 463.36,684.40 463.80,684.40 464.25,684.40 464.69,684.40 465.13,684.40 465.57,684.40 466.02,684.40 466.46,684.40 466.90,684.40 467.35,684.40 467.79,684.40 468.23,684.40 468.68,684.40 469.12,684.40 469.56,684.40 470.00,684.40 470.45,684.40 470.89,684.40 471.33,684.40 471.78,684.40 472.22,684.40 472.66,684.40 473.11,684.40 473.55,684.40 473.99,684.40 474.44,684.40 474.88,684.40 475.32,684.40 475.76,684.40 476.21,684.40 476.65,684.40 477.09,684.40 477.54,684.40 477.98,684.40 478.42,684.40 478.87,684.40 479.31,684.40 479.75,684.40 480.19,684.40 480.64,684.40 481.08,684.40 481.52,684.40 481.97,684.40 482.41,684.40 482.85,684.40 483.30,684.40 483.74,684.40 484.18,684.40 484.62,684.40 485.07,684.40 485.51,684.40 485.95,684.40 486.40,684.40 486.84,684.40 487.28,684.40 487.73,684.40 488.17,684.40 488.61,684.40 489.05,684.40 489.50,684.40 489.94,684.40 490.38,684.40 490.83,684.40 491.27,684.40 491.71,684.40 492.16,684.40 492.60,684.40 493.04,684.39 493.48,684.36 493.93,684.31 494.37,684.19 494.81,683.94 495.26,683.42 495.70,682.45 496.14,680.71 496.59,677.81 497.03,673.25 497.47,666.54 497.91,657.35 498.36,645.63 498.80,631.83 499.24,616.96 499.69,602.54 500.13,590.39 500.57,582.25 501.02,579.39 501.46,580.45 501.90,583.59 502.34,588.60 502.79,595.20 503.23,603.03 503.67,611.67 504.12,620.71 504.56,629.75 505.00,638.45 505.45,646.55 505.89,653.85 506.33,660.24 506.77,665.68 507.22,670.19 507.66,673.83 508.10,676.70 508.55,678.90 508.99,680.55 509.43,681.76 509.88,682.63 510.32,683.23 510.76,683.65 511.20,683.92 511.65,684.11 512.09,684.22 512.53,684.29 512.98,684.34 513.42,684.36 513.86,684.38 514.31,684.39 514.75,684.39 515.19,684.40 515.63,684.40 516.08,684.40 516.52,684.40 516.96,684.40 517.41,684.40 517.85,684.40 518.29,684.40 518.74,684.40 519.18,684.40 519.62,684.39 520.06,684.39 520.51,684.38 520.95,684.37 521.39,684.36 521.84,684.33 522.28,684.30 522.72,684.24 523.17,684.17 523.61,684.06 524.05,683.91 524.49,683.70 524.94,683.42 525.38,683.06 525.82,682.58 526.27,681.97 526.71,681.20 527.15,680.26 527.60,679.13 528.04,677.79 528.48,676.23 528.92,674.47 529.37,672.52 529.81,670.40 530.25,668.16 530.70,665.85 531.14,663.55 531.58,661.32 532.03,659.24 532.47,657.41 532.91,655.90 533.35,654.76 533.80,654.06 534.24,653.82 534.68,653.99 535.13,654.49 535.57,655.31 536.01,656.41 536.46,657.77 536.90,659.35 537.34,661.09 537.78,662.95 538.23,664.88 538.67,666.83 539.11,668.76 539.56,670.63 540.00,672.41 540.44,674.08 540.89,675.61 541.33,676.99 541.77,678.23 542.21,679.32 542.66,680.25 543.10,681.05 543.54,681.72 543.99,682.27 544.43,682.71 544.87,683.06 545.32,683.31 545.76,683.47 546.20,683.54 546.64,683.53 547.09,683.41 547.53,683.19 547.97,682.83 548.42,682.32 548.86,681.63 549.30,680.73 549.74,679.60 550.19,678.21 550.63,676.55 551.07,674.60 551.52,672.39 551.96,669.93 552.40,667.27 552.85,664.47 553.29,661.63 553.73,658.84 554.17,656.22 554.62,653.87 555.06,651.91 555.50,650.43 555.95,649.51 556.39,649.20 556.83,649.45 557.28,650.16 557.72,651.33 558.16,652.89 558.60,654.79 559.05,656.96 559.49,659.33 559.93,661.80 560.38,664.31 560.82,666.78 561.26,669.17 561.71,671.41 562.15,673.47 562.59,675.33 563.03,676.98 563.48,678.41 563.92,679.64 564.36,680.66 564.81,681.51 565.25,682.19 565.69,682.74 566.14,683.16 566.58,683.50 567.02,683.75 567.46,683.93 567.91,684.07 568.35,684.17 568.79,684.25 569.24,684.30 569.68,684.33 570.12,684.35 570.57,684.37 571.01,684.38 571.45,684.39 571.89,684.39 572.34,684.40 572.78,684.40 573.22,684.40 573.67,684.40 574.11,684.40 574.55,684.40 575.00,684.40 575.44,684.40 575.88,684.40 576.32,684.40 576.77,684.40 577.21,684.40 577.65,684.40 578.10,684.40 578.54,684.40 578.98,684.40 579.43,684.40 579.87,684.40 580.31,684.40 580.75,684.39 581.20,684.37 581.64,684.34 582.08,684.25 582.53,684.10 582.97,683.82 583.41,683.37 583.86,682.72 584.30,681.88 584.74,680.90 585.18,679.93 585.63,679.14 586.07,678.69 586.51,678.69 586.96,679.14 587.40,679.93 587.84,680.90 588.29,681.88 588.73,682.72 589.17,683.37 589.61,683.82 590.06,684.10 590.50,684.25 590.94,684.34 591.39,684.37 591.83,684.39 592.27,684.40 592.72,684.40 593.16,684.40 593.60,684.40 594.04,684.40 594.49,684.40 594.93,684.40 595.37,684.40 595.82,684.40 596.26,684.40 596.70,684.40 597.15,684.40 597.59,684.40 598.03,684.40 598.47,684.40 598.92,684.40 599.36,684.40 599.80,684.40 600.25,684.40 600.69,684.40 601.13,684.40 601.58,684.40 602.02,684.40 602.46,684.40 602.90,684.40 603.35,684.40 603.79,684.40 604.23,684.40 604.68,684.40 605.12,684.40 605.56,684.40 606.01,684.40 606.45,684.40 606.89,684.40 607.33,684.40 607.78,684.40 608.22,684.40 608.66,684.40 609.11,684.40 609.55,684.40 609.99,684.40 610.44,684.40 610.88,684.40 611.32,684.40 611.76,684.40 612.21,684.40 612.65,684.40 613.09,684.40 613.54,684.40 613.98,684.40 614.42,684.40 614.87,684.40 615.31,684.40 615.75,684.40 616.19,684.40 616.64,684.40 617.08,684.40 617.52,684.40 617.97,684.40 618.41,684.40 618.85,684.40 619.30,684.40 619.74,684.40 620.18,684.40 620.62,684.40 621.07,684.40 621.51,684.40 621.95,684.40 622.40,684.40 622.84,684.40 623.28,684.40 623.73,684.40 624.17,684.40 624.61,684.40 625.05,684.40 625.50,684.40 625.94,684.40 626.38,684.40 626.83,684.40 627.27,684.40 627.71,684.40 628.16,684.40 628.60,684.40 629.04,684.40 629.48,684.40 629.93,684.40 630.37,684.40 630.81,684.40 631.26,684.40 631.70,684.40" fill="none" stroke="#8fd4c4" stroke-width="0.85" stroke-linejoin="round"/>
<polyline points="454.50,684.40 454.94,684.40 455.39,684.40 455.83,684.40 456.27,684.40 456.71,684.40 457.16,684.40 457.60,684.40 458.04,684.40 458.49,684.40 458.93,684.40 459.37,684.40 459.82,684.40 460.26,684.40 460.70,684.40 461.14,684.40 461.59,684.40 462.03,684.40 462.47,684.40 462.92,684.40 463.36,684.40 463.80,684.40 464.25,684.40 464.69,684.40 465.13,684.40 465.57,684.40 466.02,684.40 466.46,684.40 466.90,684.40 467.35,684.40 467.79,684.40 468.23,684.40 468.68,684.40 469.12,684.40 469.56,684.40 470.00,684.40 470.45,684.40 470.89,684.40 471.33,684.40 471.78,684.40 472.22,684.40 472.66,684.40 473.11,684.40 473.55,684.40 473.99,684.40 474.44,684.40 474.88,684.40 475.32,684.40 475.76,684.40 476.21,684.40 476.65,684.40 477.09,684.40 477.54,684.40 477.98,684.40 478.42,684.40 478.87,684.40 479.31,684.40 479.75,684.40 480.19,684.40 480.64,684.40 481.08,684.40 481.52,684.40 481.97,684.40 482.41,684.40 482.85,684.40 483.30,684.40 483.74,684.40 484.18,684.40 484.62,684.40 485.07,684.40 485.51,684.40 485.95,684.40 486.40,684.40 486.84,684.40 487.28,684.40 487.73,684.40 488.17,684.40 488.61,684.40 489.05,684.40 489.50,684.39 489.94,684.38 490.38,684.35 490.83,684.28 491.27,684.13 491.71,683.81 492.16,683.19 492.60,682.06 493.04,680.09 493.48,676.90 493.93,672.06 494.37,665.19 494.81,656.09 495.26,644.94 495.70,632.35 496.14,619.45 496.59,607.72 497.03,598.74 497.47,593.86 497.91,593.47 498.36,595.30 498.80,598.87 499.24,603.95 499.69,610.25 500.13,617.45 500.57,625.16 501.02,633.05 501.46,640.78 501.90,648.10 502.34,654.80 502.79,660.75 503.23,665.89 503.67,670.20 504.12,673.73 504.56,676.54 505.00,678.73 505.45,680.39 505.89,681.63 506.33,682.52 506.77,683.15 507.22,683.58 507.66,683.88 508.10,684.07 508.55,684.20 508.99,684.28 509.43,684.33 509.88,684.36 510.32,684.38 510.76,684.39 511.20,684.39 511.65,684.40 512.09,684.40 512.53,684.40 512.98,684.40 513.42,684.40 513.86,684.40 514.31,684.40 514.75,684.40 515.19,684.40 515.63,684.40 516.08,684.40 516.52,684.40 516.96,684.40 517.41,684.40 517.85,684.40 518.29,684.40 518.74,684.40 519.18,684.39 519.62,684.39 520.06,684.38 520.51,684.37 520.95,684.36 521.39,684.34 521.84,684.30 522.28,684.25 522.72,684.18 523.17,684.08 523.61,683.94 524.05,683.74 524.49,683.48 524.94,683.13 525.38,682.68 525.82,682.10 526.27,681.38 526.71,680.50 527.15,679.43 527.60,678.16 528.04,676.70 528.48,675.03 528.92,673.19 529.37,671.19 529.81,669.08 530.25,666.90 530.70,664.73 531.14,662.62 531.58,660.67 532.03,658.94 532.47,657.51 532.91,656.44 533.35,655.77 533.80,655.55 534.24,655.71 534.68,656.18 535.13,656.95 535.57,658.00 536.01,659.28 536.46,660.77 536.90,662.41 537.34,664.16 537.78,665.98 538.23,667.82 538.67,669.64 539.11,671.41 539.56,673.09 540.00,674.66 540.44,676.10 540.89,677.41 541.33,678.58 541.77,679.60 542.21,680.49 542.66,681.24 543.10,681.87 543.54,682.39 543.99,682.80 544.43,683.12 544.87,683.36 545.32,683.50 545.76,683.56 546.20,683.53 546.64,683.41 547.09,683.16 547.53,682.79 547.97,682.26 548.42,681.55 548.86,680.62 549.30,679.45 549.74,678.01 550.19,676.29 550.63,674.28 551.07,671.99 551.52,669.45 551.96,666.70 552.40,663.82 552.85,660.88 553.29,658.00 553.73,655.29 554.17,652.87 554.62,650.84 555.06,649.32 555.50,648.37 555.95,648.05 556.39,648.30 556.83,649.04 557.28,650.24 557.72,651.86 558.16,653.82 558.60,656.07 559.05,658.50 559.49,661.06 559.93,663.65 560.38,666.20 560.82,668.67 561.26,670.98 561.71,673.11 562.15,675.04 562.59,676.74 563.03,678.22 563.48,679.48 563.92,680.54 564.36,681.41 564.81,682.12 565.25,682.68 565.69,683.12 566.14,683.47 566.58,683.72 567.02,683.92 567.46,684.06 567.91,684.17 568.35,684.24 568.79,684.29 569.24,684.33 569.68,684.35 570.12,684.37 570.57,684.38 571.01,684.39 571.45,684.39 571.89,684.40 572.34,684.40 572.78,684.40 573.22,684.40 573.67,684.40 574.11,684.40 574.55,684.40 575.00,684.40 575.44,684.40 575.88,684.40 576.32,684.40 576.77,684.40 577.21,684.40 577.65,684.40 578.10,684.40 578.54,684.40 578.98,684.40 579.43,684.40 579.87,684.39 580.31,684.39 580.75,684.36 581.20,684.30 581.64,684.18 582.08,683.95 582.53,683.53 582.97,682.86 583.41,681.88 583.86,680.61 584.30,679.15 584.74,677.69 585.18,676.50 585.63,675.83 586.07,675.83 586.51,676.50 586.96,677.69 587.40,679.15 587.84,680.61 588.29,681.88 588.73,682.86 589.17,683.53 589.61,683.95 590.06,684.18 590.50,684.30 590.94,684.36 591.39,684.39 591.83,684.39 592.27,684.40 592.72,684.40 593.16,684.40 593.60,684.40 594.04,684.40 594.49,684.40 594.93,684.40 595.37,684.40 595.82,684.40 596.26,684.40 596.70,684.40 597.15,684.40 597.59,684.40 598.03,684.40 598.47,684.40 598.92,684.40 599.36,684.40 599.80,684.40 600.25,684.40 600.69,684.40 601.13,684.40 601.58,684.40 602.02,684.40 602.46,684.40 602.90,684.40 603.35,684.40 603.79,684.40 604.23,684.40 604.68,684.40 605.12,684.40 605.56,684.40 606.01,684.40 606.45,684.40 606.89,684.40 607.33,684.40 607.78,684.40 608.22,684.40 608.66,684.40 609.11,684.40 609.55,684.40 609.99,684.40 610.44,684.40 610.88,684.40 611.32,684.40 611.76,684.40 612.21,684.40 612.65,684.40 613.09,684.40 613.54,684.40 613.98,684.40 614.42,684.40 614.87,684.40 615.31,684.40 615.75,684.40 616.19,684.40 616.64,684.40 617.08,684.40 617.52,684.40 617.97,684.40 618.41,684.40 618.85,684.40 619.30,684.40 619.74,684.40 620.18,684.40 620.62,684.40 621.07,684.40 621.51,684.40 621.95,684.40 622.40,684.40 622.84,684.40 623.28,684.40 623.73,684.40 624.17,684.40 624.61,684.40 625.05,684.40 625.50,684.40 625.94,684.40 626.38,684.40 626.83,684.40 627.27,684.40 627.71,684.40 628.16,684.40 628.60,684.40 629.04,684.40 629.48,684.40 629.93,684.40 630.37,684.40 630.81,684.40 631.26,684.40 631.70,684.40" fill="none" stroke="#cc3fa0" stroke-width="0.85" stroke-linejoin="round"/>
<polyline points="454.50,684.40 454.94,684.40 455.39,684.40 455.83,684.40 456.27,684.40 456.71,684.40 457.16,684.40 457.60,684.40 458.04,684.40 458.49,684.40 458.93,684.40 459.37,684.40 459.82,684.40 460.26,684.40 460.70,684.40 461.14,684.40 461.59,684.40 462.03,684.40 462.47,684.40 462.92,684.40 463.36,684.40 463.80,684.40 464.25,684.40 464.69,684.40 465.13,684.40 465.57,684.40 466.02,684.40 466.46,684.40 466.90,684.40 467.35,684.40 467.79,684.40 468.23,684.40 468.68,684.40 469.12,684.40 469.56,684.40 470.00,684.40 470.45,684.40 470.89,684.40 471.33,684.40 471.78,684.40 472.22,684.40 472.66,684.40 473.11,684.40 473.55,684.40 473.99,684.40 474.44,684.40 474.88,684.40 475.32,684.40 475.76,684.40 476.21,684.40 476.65,684.40 477.09,684.40 477.54,684.40 477.98,684.40 478.42,684.40 478.87,684.40 479.31,684.40 479.75,684.40 480.19,684.40 480.64,684.40 481.08,684.40 481.52,684.40 481.97,684.40 482.41,684.40 482.85,684.40 483.30,684.40 483.74,684.40 484.18,684.40 484.62,684.40 485.07,684.40 485.51,684.40 485.95,684.40 486.40,684.40 486.84,684.40 487.28,684.40 487.73,684.40 488.17,684.40 488.61,684.40 489.05,684.40 489.50,684.40 489.94,684.40 490.38,684.40 490.83,684.40 491.27,684.40 491.71,684.39 492.16,684.37 492.60,684.34 493.04,684.27 493.48,684.13 493.93,683.86 494.37,683.38 494.81,682.55 495.26,681.17 495.70,679.03 496.14,675.84 496.59,671.36 497.03,665.40 497.47,657.91 497.91,649.06 498.36,639.31 498.80,629.35 499.24,620.12 499.69,612.58 500.13,607.65 500.57,605.93 501.02,606.54 501.46,608.34 501.90,611.26 502.34,615.15 502.79,619.85 503.23,625.17 503.67,630.89 504.12,636.80 504.56,642.72 505.00,648.47 505.45,653.91 505.89,658.92 506.33,663.44 506.77,667.43 507.22,670.87 507.66,673.78 508.10,676.19 508.55,678.16 508.99,679.72 509.43,680.95 509.88,681.90 510.32,682.61 510.76,683.14 511.20,683.53 511.65,683.81 512.09,684.00 512.53,684.14 512.98,684.23 513.42,684.29 513.86,684.33 514.31,684.36 514.75,684.37 515.19,684.38 515.63,684.39 516.08,684.39 516.52,684.40 516.96,684.40 517.41,684.40 517.85,684.40 518.29,684.40 518.74,684.40 519.18,684.40 519.62,684.39 520.06,684.39 520.51,684.38 520.95,684.37 521.39,684.36 521.84,684.34 522.28,684.30 522.72,684.25 523.17,684.18 523.61,684.07 524.05,683.93 524.49,683.73 524.94,683.46 525.38,683.11 525.82,682.65 526.27,682.06 526.71,681.32 527.15,680.42 527.60,679.33 528.04,678.04 528.48,676.54 528.92,674.85 529.37,672.97 529.81,670.93 530.25,668.77 530.70,666.55 531.14,664.33 531.58,662.19 532.03,660.19 532.47,658.43 532.91,656.97 533.35,655.88 533.80,655.20 534.24,654.97 534.68,655.14 535.13,655.62 535.57,656.40 536.01,657.47 536.46,658.78 536.90,660.29 537.34,661.97 537.78,663.76 538.23,665.61 538.67,667.49 539.11,669.35 539.56,671.15 540.00,672.86 540.44,674.46 540.89,675.94 541.33,677.27 541.77,678.46 542.21,679.51 542.66,680.41 543.10,681.18 543.54,681.82 543.99,682.35 544.43,682.77 544.87,683.10 545.32,683.34 545.76,683.49 546.20,683.56 546.64,683.53 547.09,683.41 547.53,683.18 547.97,682.81 548.42,682.29 548.86,681.59 549.30,680.68 549.74,679.53 550.19,678.11 550.63,676.42 551.07,674.44 551.52,672.19 551.96,669.69 552.40,666.98 552.85,664.14 553.29,661.26 553.73,658.42 554.17,655.75 554.62,653.37 555.06,651.38 555.50,649.88 555.95,648.94 556.39,648.63 556.83,648.87 557.28,649.60 557.72,650.79 558.16,652.38 558.60,654.31 559.05,656.52 559.49,658.91 559.93,661.43 560.38,663.98 560.82,666.49 561.26,668.92 561.71,671.19 562.15,673.29 562.59,675.19 563.03,676.86 563.48,678.32 563.92,679.56 564.36,680.60 564.81,681.46 565.25,682.15 565.69,682.71 566.14,683.14 566.58,683.48 567.02,683.74 567.46,683.93 567.91,684.07 568.35,684.17 568.79,684.24 569.24,684.29 569.68,684.33 570.12,684.35 570.57,684.37 571.01,684.38 571.45,684.39 571.89,684.39 572.34,684.40 572.78,684.40 573.22,684.40 573.67,684.40 574.11,684.40 574.55,684.40 575.00,684.40 575.44,684.40 575.88,684.40 576.32,684.40 576.77,684.40 577.21,684.40 577.65,684.40 578.10,684.40 578.54,684.40 578.98,684.40 579.43,684.40 579.87,684.40 580.31,684.40 580.75,684.39 581.20,684.37 581.64,684.32 582.08,684.21 582.53,684.01 582.97,683.64 583.41,683.06 583.86,682.22 584.30,681.12 584.74,679.85 585.18,678.59 585.63,677.56 586.07,676.98 586.51,676.98 586.96,677.56 587.40,678.59 587.84,679.85 588.29,681.12 588.73,682.22 589.17,683.06 589.61,683.64 590.06,684.01 590.50,684.21 590.94,684.32 591.39,684.37 591.83,684.39 592.27,684.40 592.72,684.40 593.16,684.40 593.60,684.40 594.04,684.40 594.49,684.40 594.93,684.40 595.37,684.40 595.82,684.40 596.26,684.40 596.70,684.40 597.15,684.40 597.59,684.40 598.03,684.40 598.47,684.40 598.92,684.40 599.36,684.40 599.80,684.40 600.25,684.40 600.69,684.40 601.13,684.40 601.58,684.40 602.02,684.40 602.46,684.40 602.90,684.40 603.35,684.40 603.79,684.40 604.23,684.40 604.68,684.40 605.12,684.40 605.56,684.40 606.01,684.40 606.45,684.40 606.89,684.40 607.33,684.40 607.78,684.40 608.22,684.40 608.66,684.40 609.11,684.40 609.55,684.40 609.99,684.40 610.44,684.40 610.88,684.40 611.32,684.40 611.76,684.40 612.21,684.40 612.65,684.40 613.09,684.40 613.54,684.40 613.98,684.40 614.42,684.40 614.87,684.40 615.31,684.40 615.75,684.40 616.19,684.40 616.64,684.40 617.08,684.40 617.52,684.40 617.97,684.40 618.41,684.40 618.85,684.40 619.30,684.40 619.74,684.40 620.18,684.40 620.62,684.40 621.07,684.40 621.51,684.40 621.95,684.40 622.40,684.40 622.84,684.40 623.28,684.40 623.73,684.40 624.17,684.40 624.61,684.40 625.05,684.40 625.50,684.40 625.94,684.40 626.38,684.40 626.83,684.40 627.27,684.40 627.71,684.40 628.16,684.40 628.60,684.40 629.04,684.40 629.48,684.40 629.93,684.40 630.37,684.40 630.81,684.40 631.26,684.40 631.70,684.40" fill="none" stroke="#8c5cdc" stroke-width="0.85" stroke-linejoin="round"/>
<polyline points="454.50,684.40 454.94,684.40 455.39,684.40 455.83,684.40 456.27,684.40 456.71,684.40 457.16,684.40 457.60,684.40 458.04,684.40 458.49,684.40 458.93,684.40 459.37,684.40 459.82,684.40 460.26,684.40 460.70,684.40 461.14,684.40 461.59,684.40 462.03,684.40 462.47,684.40 462.92,684.40 463.36,684.40 463.80,684.40 464.25,684.40 464.69,684.40 465.13,684.40 465.57,684.40 466.02,684.40 466.46,684.40 466.90,684.40 467.35,684.40 467.79,684.40 468.23,684.40 468.68,684.40 469.12,684.40 469.56,684.40 470.00,684.40 470.45,684.40 470.89,684.40 471.33,684.40 471.78,684.40 472.22,684.40 472.66,684.40 473.11,684.40 473.55,684.40 473.99,684.40 474.44,684.40 474.88,684.40 475.32,684.40 475.76,684.40 476.21,684.40 476.65,684.40 477.09,684.40 477.54,684.40 477.98,684.40 478.42,684.40 478.87,684.40 479.31,684.40 479.75,684.40 480.19,684.40 480.64,684.40 481.08,684.40 481.52,684.40 481.97,684.40 482.41,684.40 482.85,684.40 483.30,684.40 483.74,684.40 484.18,684.40 484.62,684.40 485.07,684.40 485.51,684.40 485.95,684.40 486.40,684.40 486.84,684.40 487.28,684.40 487.73,684.40 488.17,684.40 488.61,684.40 489.05,684.40 489.50,684.40 489.94,684.40 490.38,684.40 490.83,684.40 491.27,684.40 491.71,684.40 492.16,684.39 492.60,684.38 493.04,684.37 493.48,684.33 493.93,684.26 494.37,684.13 494.81,683.90 495.26,683.51 495.70,682.87 496.14,681.86 496.59,680.33 497.03,678.11 497.47,675.03 497.91,670.93 498.36,665.73 498.80,659.44 499.24,652.23 499.69,644.40 500.13,636.45 500.57,628.96 501.02,622.58 501.46,617.93 501.90,615.47 502.34,615.27 502.79,616.12 503.23,617.78 503.67,620.20 504.12,623.30 504.56,626.95 505.00,631.06 505.45,635.47 505.89,640.07 506.33,644.73 506.77,649.34 507.22,653.79 507.66,658.01 508.10,661.92 508.55,665.49 508.99,668.69 509.43,671.50 509.88,673.94 510.32,676.03 510.76,677.78 511.20,679.23 511.65,680.41 512.09,681.36 512.53,682.11 512.98,682.70 513.42,683.15 513.86,683.49 514.31,683.75 514.75,683.94 515.19,684.08 515.63,684.18 516.08,684.25 516.52,684.30 516.96,684.33 517.41,684.35 517.85,684.37 518.29,684.38 518.74,684.38 519.18,684.39 519.62,684.39 520.06,684.38 520.51,684.38 520.95,684.36 521.39,684.35 521.84,684.32 522.28,684.28 522.72,684.23 523.17,684.15 523.61,684.05 524.05,683.91 524.49,683.72 524.94,683.47 525.38,683.15 525.82,682.73 526.27,682.22 526.71,681.58 527.15,680.81 527.60,679.89 528.04,678.81 528.48,677.56 528.92,676.16 529.37,674.60 529.81,672.91 530.25,671.11 530.70,669.25 531.14,667.36 531.58,665.49 532.03,663.71 532.47,662.07 532.91,660.64 533.35,659.46 533.80,658.58 534.24,658.04 534.68,657.86 535.13,657.99 535.57,658.38 536.01,659.03 536.46,659.90 536.90,660.98 537.34,662.23 537.78,663.63 538.23,665.13 538.67,666.70 539.11,668.30 539.56,669.91 540.00,671.48 540.44,673.00 540.89,674.44 541.33,675.78 541.77,677.02 542.21,678.14 542.66,679.14 543.10,680.02 543.54,680.78 543.99,681.43 544.43,681.97 544.87,682.40 545.32,682.74 545.76,682.98 546.20,683.12 546.64,683.17 547.09,683.11 547.53,682.94 547.97,682.63 548.42,682.19 548.86,681.58 549.30,680.79 549.74,679.79 550.19,678.57 550.63,677.12 551.07,675.43 551.52,673.52 551.96,671.38 552.40,669.07 552.85,666.62 553.29,664.10 553.73,661.58 554.17,659.14 554.62,656.87 555.06,654.87 555.50,653.21 555.95,651.96 556.39,651.19 556.83,650.93 557.28,651.14 557.72,651.75 558.16,652.74 558.60,654.08 559.05,655.72 559.49,657.60 559.93,659.67 560.38,661.86 560.82,664.10 561.26,666.35 561.71,668.54 562.15,670.64 562.59,672.61 563.03,674.42 563.48,676.06 563.92,677.51 564.36,678.78 564.81,679.87 565.25,680.80 565.69,681.57 566.14,682.20 566.58,682.71 567.02,683.12 567.46,683.44 567.91,683.69 568.35,683.88 568.79,684.03 569.24,684.14 569.68,684.21 570.12,684.27 570.57,684.31 571.01,684.34 571.45,684.36 571.89,684.37 572.34,684.38 572.78,684.39 573.22,684.39 573.67,684.40 574.11,684.40 574.55,684.40 575.00,684.40 575.44,684.40 575.88,684.40 576.32,684.40 576.77,684.40 577.21,684.40 577.65,684.40 578.10,684.40 578.54,684.40 578.98,684.40 579.43,684.40 579.87,684.40 580.31,684.40 580.75,684.40 581.20,684.39 581.64,684.38 582.08,684.34 582.53,684.27 582.97,684.13 583.41,683.88 583.86,683.47 584.30,682.89 584.74,682.13 585.18,681.25 585.63,680.38 586.07,679.66 586.51,679.26 586.96,679.26 587.40,679.66 587.84,680.38 588.29,681.25 588.73,682.13 589.17,682.89 589.61,683.47 590.06,683.88 590.50,684.13 590.94,684.27 591.39,684.34 591.83,684.38 592.27,684.39 592.72,684.40 593.16,684.40 593.60,684.40 594.04,684.40 594.49,684.40 594.93,684.40 595.37,684.40 595.82,684.40 596.26,684.40 596.70,684.40 597.15,684.40 597.59,684.40 598.03,684.40 598.47,684.40 598.92,684.40 599.36,684.40 599.80,684.40 600.25,684.40 600.69,684.40 601.13,684.40 601.58,684.40 602.02,684.40 602.46,684.40 602.90,684.40 603.35,684.40 603.79,684.40 604.23,684.40 604.68,684.40 605.12,684.40 605.56,684.40 606.01,684.40 606.45,684.40 606.89,684.40 607.33,684.40 607.78,684.40 608.22,684.40 608.66,684.40 609.11,684.40 609.55,684.40 609.99,684.40 610.44,684.40 610.88,684.40 611.32,684.40 611.76,684.40 612.21,684.40 612.65,684.40 613.09,684.40 613.54,684.40 613.98,684.40 614.42,684.40 614.87,684.40 615.31,684.40 615.75,684.40 616.19,684.40 616.64,684.40 617.08,684.40 617.52,684.40 617.97,684.40 618.41,684.40 618.85,684.40 619.30,684.40 619.74,684.40 620.18,684.40 620.62,684.40 621.07,684.40 621.51,684.40 621.95,684.40 622.40,684.40 622.84,684.40 623.28,684.40 623.73,684.40 624.17,684.40 624.61,684.40 625.05,684.40 625.50,684.40 625.94,684.40 626.38,684.40 626.83,684.40 627.27,684.40 627.71,684.40 628.16,684.40 628.60,684.40 629.04,684.40 629.48,684.40 629.93,684.40 630.37,684.40 630.81,684.40 631.26,684.40 631.70,684.40" fill="none" stroke="#4a9cb6" stroke-width="0.85" stroke-linejoin="round"/>
<polyline points="454.50,684.40 454.94,684.40 455.39,684.40 455.83,684.40 456.27,684.40 456.71,684.40 457.16,684.40 457.60,684.40 458.04,684.40 458.49,684.40 458.93,684.40 459.37,684.40 459.82,684.40 460.26,684.40 460.70,684.40 461.14,684.40 461.59,684.40 462.03,684.40 462.47,684.40 462.92,684.40 463.36,684.40 463.80,684.40 464.25,684.40 464.69,684.40 465.13,684.40 465.57,684.40 466.02,684.40 466.46,684.40 466.90,684.40 467.35,684.40 467.79,684.40 468.23,684.40 468.68,684.40 469.12,684.40 469.56,684.40 470.00,684.40 470.45,684.40 470.89,684.40 471.33,684.40 471.78,684.40 472.22,684.40 472.66,684.40 473.11,684.40 473.55,684.40 473.99,684.40 474.44,684.40 474.88,684.40 475.32,684.40 475.76,684.40 476.21,684.40 476.65,684.40 477.09,684.40 477.54,684.40 477.98,684.40 478.42,684.40 478.87,684.40 479.31,684.40 479.75,684.40 480.19,684.40 480.64,684.40 481.08,684.40 481.52,684.40 481.97,684.40 482.41,684.40 482.85,684.40 483.30,684.40 483.74,684.40 484.18,684.40 484.62,684.40 485.07,684.40 485.51,684.40 485.95,684.40 486.40,684.40 486.84,684.40 487.28,684.40 487.73,684.40 488.17,684.40 488.61,684.40 489.05,684.40 489.50,684.40 489.94,684.40 490.38,684.40 490.83,684.40 491.27,684.40 491.71,684.39 492.16,684.37 492.60,684.34 493.04,684.26 493.48,684.12 493.93,683.84 494.37,683.34 494.81,682.46 495.26,681.03 495.70,678.79 496.14,675.47 496.59,670.79 497.03,664.56 497.47,656.74 497.91,647.50 498.36,637.32 498.80,626.93 499.24,617.28 499.69,609.42 500.13,604.26 500.57,602.47 501.02,603.10 501.46,604.99 501.90,608.03 502.34,612.09 502.79,617.00 503.23,622.55 503.67,628.53 504.12,634.70 504.56,640.89 505.00,646.89 505.45,652.56 505.89,657.80 506.33,662.52 506.77,666.68 507.22,670.27 507.66,673.31 508.10,675.83 508.55,677.88 508.99,679.52 509.43,680.80 509.88,681.79 510.32,682.53 510.76,683.09 511.20,683.49 511.65,683.78 512.09,683.98 512.53,684.12 512.98,684.22 513.42,684.29 513.86,684.33 514.31,684.36 514.75,684.37 515.19,684.38 515.63,684.39 516.08,684.39 516.52,684.40 516.96,684.40 517.41,684.40 517.85,684.40 518.29,684.40 518.74,684.40 519.18,684.40 519.62,684.39 520.06,684.39 520.51,684.38 520.95,684.37 521.39,684.36 521.84,684.33 522.28,684.29 522.72,684.24 523.17,684.16 523.61,684.05 524.05,683.89 524.49,683.68 524.94,683.39 525.38,683.01 525.82,682.51 526.27,681.88 526.71,681.08 527.15,680.11 527.60,678.93 528.04,677.54 528.48,675.93 528.92,674.10 529.37,672.07 529.81,669.87 530.25,667.55 530.70,665.15 531.14,662.76 531.58,660.45 532.03,658.30 532.47,656.39 532.91,654.82 533.35,653.64 533.80,652.91 534.24,652.66 534.68,652.84 535.13,653.36 535.57,654.21 536.01,655.36 536.46,656.77 536.90,658.40 537.34,660.21 537.78,662.14 538.23,664.14 538.67,666.16 539.11,668.17 539.56,670.11 540.00,671.96 540.44,673.69 540.89,675.28 541.33,676.71 541.77,678.00 542.21,679.12 542.66,680.10 543.10,680.93 543.54,681.62 543.99,682.19 544.43,682.65 544.87,683.01 545.32,683.27 545.76,683.44 546.20,683.53 546.64,683.52 547.09,683.41 547.53,683.19 547.97,682.85 548.42,682.35 548.86,681.67 549.30,680.79 549.74,679.68 550.19,678.31 550.63,676.68 551.07,674.76 551.52,672.58 551.96,670.16 552.40,667.55 552.85,664.80 553.29,662.00 553.73,659.26 554.17,656.68 554.62,654.37 555.06,652.44 555.50,650.99 555.95,650.09 556.39,649.78 556.83,650.02 557.28,650.73 557.72,651.87 558.16,653.41 558.60,655.28 559.05,657.41 559.49,659.74 559.93,662.17 560.38,664.64 560.82,667.07 561.26,669.41 561.71,671.62 562.15,673.65 562.59,675.48 563.03,677.10 563.48,678.51 563.92,679.71 564.36,680.72 564.81,681.55 565.25,682.23 565.69,682.76 566.14,683.18 566.58,683.51 567.02,683.76 567.46,683.94 567.91,684.08 568.35,684.18 568.79,684.25 569.24,684.30 569.68,684.33 570.12,684.36 570.57,684.37 571.01,684.38 571.45,684.39 571.89,684.39 572.34,684.40 572.78,684.40 573.22,684.40 573.67,684.40 574.11,684.40 574.55,684.40 575.00,684.40 575.44,684.40 575.88,684.40 576.32,684.40 576.77,684.40 577.21,684.40 577.65,684.40 578.10,684.40 578.54,684.40 578.98,684.40 579.43,684.40 579.87,684.40 580.31,684.40 580.75,684.39 581.20,684.37 581.64,684.33 582.08,684.24 582.53,684.07 582.97,683.76 583.41,683.27 583.86,682.55 584.30,681.62 584.74,680.55 585.18,679.48 585.63,678.61 586.07,678.12 586.51,678.12 586.96,678.61 587.40,679.48 587.84,680.55 588.29,681.62 588.73,682.55 589.17,683.27 589.61,683.76 590.06,684.07 590.50,684.24 590.94,684.33 591.39,684.37 591.83,684.39 592.27,684.40 592.72,684.40 593.16,684.40 593.60,684.40 594.04,684.40 594.49,684.40 594.93,684.40 595.37,684.40 595.82,684.40 596.26,684.40 596.70,684.40 597.15,684.40 597.59,684.40 598.03,684.40 598.47,684.40 598.92,684.40 599.36,684.40 599.80,684.40 600.25,684.40 600.69,684.40 601.13,684.40 601.58,684.40 602.02,684.40 602.46,684.40 602.90,684.40 603.35,684.40 603.79,684.40 604.23,684.40 604.68,684.40 605.12,684.40 605.56,684.40 606.01,684.40 606.45,684.40 606.89,684.40 607.33,684.40 607.78,684.40 608.22,684.40 608.66,684.40 609.11,684.40 609.55,684.40 609.99,684.40 610.44,684.40 610.88,684.40 611.32,684.40 611.76,684.40 612.21,684.40 612.65,684.40 613.09,684.40 613.54,684.40 613.98,684.40 614.42,684.40 614.87,684.40 615.31,684.40 615.75,684.40 616.19,684.40 616.64,684.40 617.08,684.40 617.52,684.40 617.97,684.40 618.41,684.40 618.85,684.40 619.30,684.40 619.74,684.40 620.18,684.40 620.62,684.40 621.07,684.40 621.51,684.40 621.95,684.40 622.40,684.40 622.84,684.40 623.28,684.40 623.73,684.40 624.17,684.40 624.61,684.40 625.05,684.40 625.50,684.40 625.94,684.40 626.38,684.40 626.83,684.40 627.27,684.40 627.71,684.40 628.16,684.40 628.60,684.40 629.04,684.40 629.48,684.40 629.93,684.40 630.37,684.40 630.81,684.40 631.26,684.40 631.70,684.40" fill="none" stroke="#b8a868" stroke-width="0.85" stroke-linejoin="round"/>
<path d="M578.2 566.6H599.2" stroke="#8fd4c4" stroke-width="1.1"/>
<text x="601.8" y="569.4" font-size="8.2" font-weight="normal" text-anchor="start" fill="#222" textLength="19.5" lengthAdjust="spacingAndGlyphs" stroke="#222" stroke-width="0.22">Mg-O</text>
<path d="M578.2 578.6H599.2" stroke="#cc3fa0" stroke-width="1.1"/>
<text x="601.8" y="581.4499999999999" font-size="8.2" font-weight="normal" text-anchor="start" fill="#222" textLength="17.5" lengthAdjust="spacingAndGlyphs" stroke="#222" stroke-width="0.22">Co-O</text>
<path d="M578.2 590.7H599.2" stroke="#8c5cdc" stroke-width="1.1"/>
<text x="601.8" y="593.5" font-size="8.2" font-weight="normal" text-anchor="start" fill="#222" textLength="17.5" lengthAdjust="spacingAndGlyphs" stroke="#222" stroke-width="0.22">Ni-O</text>
<path d="M578.2 602.8H599.2" stroke="#4a9cb6" stroke-width="1.1"/>
<text x="601.8" y="605.55" font-size="8.2" font-weight="normal" text-anchor="start" fill="#222" textLength="17.5" lengthAdjust="spacingAndGlyphs" stroke="#222" stroke-width="0.22">Cu-O</text>
<path d="M578.2 614.8H599.2" stroke="#b8a868" stroke-width="1.1"/>
<text x="601.8" y="617.6" font-size="8.2" font-weight="normal" text-anchor="start" fill="#222" textLength="17.5" lengthAdjust="spacingAndGlyphs" stroke="#222" stroke-width="0.22">Zn-O</text>
<clipPath id="clip1"><polygon points="55,572 205,568 209,600 206,622 150,632 128,624 110,631 88,624 60,626 54,610"/></clipPath>
<g clip-path="url(#clip1)"><path d="M35.1 555.9L47.6 544.4" stroke="#3f8fc8" stroke-width="0.9" opacity="0.8"/><path d="M38.2 558.8L50.8 547.2" stroke="#2d3f8e" stroke-width="0.9" opacity="0.8"/><path d="M41.4 561.6L53.9 550.1" stroke="#c64aa6" stroke-width="0.9" opacity="0.8"/><path d="M32.0 553.0L44.5 564.5" stroke="#d060b0" stroke-width="0.8"/><path d="M44.5 541.5L57.0 553.0" stroke="#d060b0" stroke-width="0.8"/><path d="M35.1 578.9L47.6 567.4" stroke="#3f8fc8" stroke-width="0.9" opacity="0.8"/><path d="M38.2 581.8L50.8 570.2" stroke="#2d3f8e" stroke-width="0.9" opacity="0.8"/><path d="M41.4 584.6L53.9 573.1" stroke="#c64aa6" stroke-width="0.9" opacity="0.8"/><path d="M32.0 576.0L44.5 587.5" stroke="#d060b0" stroke-width="0.8"/><path d="M47.6 567.4L60.1 555.9" stroke="#2d3f8e" stroke-width="0.9" opacity="0.8"/><path d="M50.8 570.2L63.2 558.8" stroke="#d0843e" stroke-width="0.9" opacity="0.8"/><path d="M53.9 573.1L66.4 561.6" stroke="#3f8fc8" stroke-width="0.9" opacity="0.8"/><path d="M44.5 564.5L57.0 576.0" stroke="#d060b0" stroke-width="0.8"/><path d="M60.1 555.9L72.6 544.4" stroke="#2d3f8e" stroke-width="0.9" opacity="0.8"/><path d="M63.2 558.8L75.8 547.2" stroke="#c64aa6" stroke-width="0.9" opacity="0.8"/><path d="M66.4 561.6L78.9 550.1" stroke="#2d3f8e" stroke-width="0.9" opacity="0.8"/><path d="M57.0 553.0L69.5 564.5" stroke="#d060b0" stroke-width="0.8"/><path d="M69.5 541.5L82.0 553.0" stroke="#d060b0" stroke-width="0.8"/><path d="M35.1 601.9L47.6 590.4" stroke="#3f8fc8" stroke-width="0.9" opacity="0.8"/><path d="M38.2 604.8L50.8 593.2" stroke="#2d3f8e" stroke-width="0.9" opacity="0.8"/><path d="M41.4 607.6L53.9 596.1" stroke="#c64aa6" stroke-width="0.9" opacity="0.8"/><path d="M32.0 599.0L44.5 610.5" stroke="#d060b0" stroke-width="0.8"/><path d="M47.6 590.4L60.1 578.9" stroke="#2d3f8e" stroke-width="0.9" opacity="0.8"/><path d="M50.8 593.2L63.2 581.8" stroke="#d0843e" stroke-width="0.9" opacity="0.8"/><path d="M53.9 596.1L66.4 584.6" stroke="#3f8fc8" stroke-width="0.9" opacity="0.8"/><path d="M44.5 587.5L57.0 599.0" stroke="#d060b0" stroke-width="0.8"/><path d="M60.1 578.9L72.6 567.4" stroke="#2d3f8e" stroke-width="0.9" opacity="0.8"/><path d="M63.2 581.8L75.8 570.2" stroke="#c64aa6" stroke-width="0.9" opacity="0.8"/><path d="M66.4 584.6L78.9 573.1" stroke="#2d3f8e" stroke-width="0.9" opacity="0.8"/><path d="M57.0 576.0L69.5 587.5" stroke="#d060b0" stroke-width="0.8"/><path d="M72.6 567.4L85.1 555.9" stroke="#d0843e" stroke-width="0.9" opacity="0.8"/><path d="M75.8 570.2L88.2 558.8" stroke="#3f8fc8" stroke-width="0.9" opacity="0.8"/><path d="M78.9 573.1L91.4 561.6" stroke="#2d3f8e" stroke-width="0.9" opacity="0.8"/><path d="M69.5 564.5L82.0 576.0" stroke="#d060b0" stroke-width="0.8"/><path d="M85.1 555.9L97.6 544.4" stroke="#c64aa6" stroke-width="0.9" opacity="0.8"/><path d="M88.2 558.8L100.8 547.2" stroke="#2d3f8e" stroke-width="0.9" opacity="0.8"/><path d="M91.4 561.6L103.9 550.1" stroke="#d0843e" stroke-width="0.9" opacity="0.8"/><path d="M82.0 553.0L94.5 564.5" stroke="#d060b0" stroke-width="0.8"/><path d="M94.5 541.5L107.0 553.0" stroke="#d060b0" stroke-width="0.8"/><path d="M35.1 624.9L47.6 613.4" stroke="#3f8fc8" stroke-width="0.9" opacity="0.8"/><path d="M38.2 627.8L50.8 616.2" stroke="#2d3f8e" stroke-width="0.9" opacity="0.8"/><path d="M41.4 630.6L53.9 619.1" stroke="#c64aa6" stroke-width="0.9" opacity="0.8"/><path d="M32.0 622.0L44.5 633.5" stroke="#d060b0" stroke-width="0.8"/><path d="M47.6 613.4L60.1 601.9" stroke="#2d3f8e" stroke-width="0.9" opacity="0.8"/><path d="M50.8 616.2L63.2 604.8" stroke="#d0843e" stroke-width="0.9" opacity="0.8"/><path d="M53.9 619.1L66.4 607.6" stroke="#3f8fc8" stroke-width="0.9" opacity="0.8"/><path d="M44.5 610.5L57.0 622.0" stroke="#d060b0" stroke-width="0.8"/><path d="M60.1 601.9L72.6 590.4" stroke="#2d3f8e" stroke-width="0.9" opacity="0.8"/><path d="M63.2 604.8L75.8 593.2" stroke="#c64aa6" stroke-width="0.9" opacity="0.8"/><path d="M66.4 607.6L78.9 596.1" stroke="#2d3f8e" stroke-width="0.9" opacity="0.8"/><path d="M57.0 599.0L69.5 610.5" stroke="#d060b0" stroke-width="0.8"/><path d="M72.6 590.4L85.1 578.9" stroke="#d0843e" stroke-width="0.9" opacity="0.8"/><path d="M75.8 593.2L88.2 581.8" stroke="#3f8fc8" stroke-width="0.9" opacity="0.8"/><path d="M78.9 596.1L91.4 584.6" stroke="#2d3f8e" stroke-width="0.9" opacity="0.8"/><path d="M69.5 587.5L82.0 599.0" stroke="#d060b0" stroke-width="0.8"/><path d="M85.1 578.9L97.6 567.4" stroke="#c64aa6" stroke-width="0.9" opacity="0.8"/><path d="M88.2 581.8L100.8 570.2" stroke="#2d3f8e" stroke-width="0.9" opacity="0.8"/><path d="M91.4 584.6L103.9 573.1" stroke="#d0843e" stroke-width="0.9" opacity="0.8"/><path d="M82.0 576.0L94.5 587.5" stroke="#d060b0" stroke-width="0.8"/><path d="M97.6 567.4L110.1 555.9" stroke="#3f8fc8" stroke-width="0.9" opacity="0.8"/><path d="M100.8 570.2L113.2 558.8" stroke="#2d3f8e" stroke-width="0.9" opacity="0.8"/><path d="M103.9 573.1L116.4 561.6" stroke="#c64aa6" stroke-width="0.9" opacity="0.8"/><path d="M94.5 564.5L107.0 576.0" stroke="#d060b0" stroke-width="0.8"/><path d="M110.1 555.9L122.6 544.4" stroke="#2d3f8e" stroke-width="0.9" opacity="0.8"/><path d="M113.2 558.8L125.8 547.2" stroke="#d0843e" stroke-width="0.9" opacity="0.8"/><path d="M116.4 561.6L128.9 550.1" stroke="#3f8fc8" stroke-width="0.9" opacity="0.8"/><path d="M107.0 553.0L119.5 564.5" stroke="#d060b0" stroke-width="0.8"/><path d="M119.5 541.5L132.0 553.0" stroke="#d060b0" stroke-width="0.8"/><path d="M35.1 647.9L47.6 636.4" stroke="#3f8fc8" stroke-width="0.9" opacity="0.8"/><path d="M38.2 650.8L50.8 639.2" stroke="#2d3f8e" stroke-width="0.9" opacity="0.8"/><path d="M41.4 653.6L53.9 642.1" stroke="#c64aa6" stroke-width="0.9" opacity="0.8"/><path d="M32.0 645.0L44.5 656.5" stroke="#d060b0" stroke-width="0.8"/><path d="M47.6 636.4L60.1 624.9" stroke="#2d3f8e" stroke-width="0.9" opacity="0.8"/><path d="M50.8 639.2L63.2 627.8" stroke="#d0843e" stroke-width="0.9" opacity="0.8"/><path d="M53.9 642.1L66.4 630.6" stroke="#3f8fc8" stroke-width="0.9" opacity="0.8"/><path d="M44.5 633.5L57.0 645.0" stroke="#d060b0" stroke-width="0.8"/><path d="M60.1 624.9L72.6 613.4" stroke="#2d3f8e" stroke-width="0.9" opacity="0.8"/><path d="M63.2 627.8L75.8 616.2" stroke="#c64aa6" stroke-width="0.9" opacity="0.8"/><path d="M66.4 630.6L78.9 619.1" stroke="#2d3f8e" stroke-width="0.9" opacity="0.8"/><path d="M57.0 622.0L69.5 633.5" stroke="#d060b0" stroke-width="0.8"/><path d="M72.6 613.4L85.1 601.9" stroke="#d0843e" stroke-width="0.9" opacity="0.8"/><path d="M75.8 616.2L88.2 604.8" stroke="#3f8fc8" stroke-width="0.9" opacity="0.8"/><path d="M78.9 619.1L91.4 607.6" stroke="#2d3f8e" stroke-width="0.9" opacity="0.8"/><path d="M69.5 610.5L82.0 622.0" stroke="#d060b0" stroke-width="0.8"/><path d="M85.1 601.9L97.6 590.4" stroke="#c64aa6" stroke-width="0.9" opacity="0.8"/><path d="M88.2 604.8L100.8 593.2" stroke="#2d3f8e" stroke-width="0.9" opacity="0.8"/><path d="M91.4 607.6L103.9 596.1" stroke="#d0843e" stroke-width="0.9" opacity="0.8"/><path d="M82.0 599.0L94.5 610.5" stroke="#d060b0" stroke-width="0.8"/><path d="M97.6 590.4L110.1 578.9" stroke="#3f8fc8" stroke-width="0.9" opacity="0.8"/><path d="M100.8 593.2L113.2 581.8" stroke="#2d3f8e" stroke-width="0.9" opacity="0.8"/><path d="M103.9 596.1L116.4 584.6" stroke="#c64aa6" stroke-width="0.9" opacity="0.8"/><path d="M94.5 587.5L107.0 599.0" stroke="#d060b0" stroke-width="0.8"/><path d="M110.1 578.9L122.6 567.4" stroke="#2d3f8e" stroke-width="0.9" opacity="0.8"/><path d="M113.2 581.8L125.8 570.2" stroke="#d0843e" stroke-width="0.9" opacity="0.8"/><path d="M116.4 584.6L128.9 573.1" stroke="#3f8fc8" stroke-width="0.9" opacity="0.8"/><path d="M107.0 576.0L119.5 587.5" stroke="#d060b0" stroke-width="0.8"/><path d="M122.6 567.4L135.1 555.9" stroke="#2d3f8e" stroke-width="0.9" opacity="0.8"/><path d="M125.8 570.2L138.2 558.8" stroke="#c64aa6" stroke-width="0.9" opacity="0.8"/><path d="M128.9 573.1L141.4 561.6" stroke="#2d3f8e" stroke-width="0.9" opacity="0.8"/><path d="M119.5 564.5L132.0 576.0" stroke="#d060b0" stroke-width="0.8"/><path d="M135.1 555.9L147.6 544.4" stroke="#d0843e" stroke-width="0.9" opacity="0.8"/><path d="M138.2 558.8L150.8 547.2" stroke="#3f8fc8" stroke-width="0.9" opacity="0.8"/><path d="M141.4 561.6L153.9 550.1" stroke="#2d3f8e" stroke-width="0.9" opacity="0.8"/><path d="M132.0 553.0L144.5 564.5" stroke="#d060b0" stroke-width="0.8"/><path d="M144.5 541.5L157.0 553.0" stroke="#d060b0" stroke-width="0.8"/><path d="M47.6 659.4L60.1 647.9" stroke="#2d3f8e" stroke-width="0.9" opacity="0.8"/><path d="M50.8 662.2L63.2 650.8" stroke="#d0843e" stroke-width="0.9" opacity="0.8"/><path d="M53.9 665.1L66.4 653.6" stroke="#3f8fc8" stroke-width="0.9" opacity="0.8"/><path d="M44.5 656.5L57.0 668.0" stroke="#d060b0" stroke-width="0.8"/><path d="M60.1 647.9L72.6 636.4" stroke="#2d3f8e" stroke-width="0.9" opacity="0.8"/><path d="M63.2 650.8L75.8 639.2" stroke="#c64aa6" stroke-width="0.9" opacity="0.8"/><path d="M66.4 653.6L78.9 642.1" stroke="#2d3f8e" stroke-width="0.9" opacity="0.8"/><path d="M57.0 645.0L69.5 656.5" stroke="#d060b0" stroke-width="0.8"/><path d="M72.6 636.4L85.1 624.9" stroke="#d0843e" stroke-width="0.9" opacity="0.8"/><path d="M75.8 639.2L88.2 627.8" stroke="#3f8fc8" stroke-width="0.9" opacity="0.8"/><path d="M78.9 642.1L91.4 630.6" stroke="#2d3f8e" stroke-width="0.9" opacity="0.8"/><path d="M69.5 633.5L82.0 645.0" stroke="#d060b0" stroke-width="0.8"/><path d="M85.1 624.9L97.6 613.4" stroke="#c64aa6" stroke-width="0.9" opacity="0.8"/><path d="M88.2 627.8L100.8 616.2" stroke="#2d3f8e" stroke-width="0.9" opacity="0.8"/><path d="M91.4 630.6L103.9 619.1" stroke="#d0843e" stroke-width="0.9" opacity="0.8"/><path d="M82.0 622.0L94.5 633.5" stroke="#d060b0" stroke-width="0.8"/><path d="M97.6 613.4L110.1 601.9" stroke="#3f8fc8" stroke-width="0.9" opacity="0.8"/><path d="M100.8 616.2L113.2 604.8" stroke="#2d3f8e" stroke-width="0.9" opacity="0.8"/><path d="M103.9 619.1L116.4 607.6" stroke="#c64aa6" stroke-width="0.9" opacity="0.8"/><path d="M94.5 610.5L107.0 622.0" stroke="#d060b0" stroke-width="0.8"/><path d="M110.1 601.9L122.6 590.4" stroke="#2d3f8e" stroke-width="0.9" opacity="0.8"/><path d="M113.2 604.8L125.8 593.2" stroke="#d0843e" stroke-width="0.9" opacity="0.8"/><path d="M116.4 607.6L128.9 596.1" stroke="#3f8fc8" stroke-width="0.9" opacity="0.8"/><path d="M107.0 599.0L119.5 610.5" stroke="#d060b0" stroke-width="0.8"/><path d="M122.6 590.4L135.1 578.9" stroke="#2d3f8e" stroke-width="0.9" opacity="0.8"/><path d="M125.8 593.2L138.2 581.8" stroke="#c64aa6" stroke-width="0.9" opacity="0.8"/><path d="M128.9 596.1L141.4 584.6" stroke="#2d3f8e" stroke-width="0.9" opacity="0.8"/><path d="M119.5 587.5L132.0 599.0" stroke="#d060b0" stroke-width="0.8"/><path d="M135.1 578.9L147.6 567.4" stroke="#d0843e" stroke-width="0.9" opacity="0.8"/><path d="M138.2 581.8L150.8 570.2" stroke="#3f8fc8" stroke-width="0.9" opacity="0.8"/><path d="M141.4 584.6L153.9 573.1" stroke="#2d3f8e" stroke-width="0.9" opacity="0.8"/><path d="M132.0 576.0L144.5 587.5" stroke="#d060b0" stroke-width="0.8"/><path d="M147.6 567.4L160.1 555.9" stroke="#c64aa6" stroke-width="0.9" opacity="0.8"/><path d="M150.8 570.2L163.2 558.8" stroke="#2d3f8e" stroke-width="0.9" opacity="0.8"/><path d="M153.9 573.1L166.4 561.6" stroke="#d0843e" stroke-width="0.9" opacity="0.8"/><path d="M144.5 564.5L157.0 576.0" stroke="#d060b0" stroke-width="0.8"/><path d="M160.1 555.9L172.6 544.4" stroke="#3f8fc8" stroke-width="0.9" opacity="0.8"/><path d="M163.2 558.8L175.8 547.2" stroke="#2d3f8e" stroke-width="0.9" opacity="0.8"/><path d="M166.4 561.6L178.9 550.1" stroke="#c64aa6" stroke-width="0.9" opacity="0.8"/><path d="M157.0 553.0L169.5 564.5" stroke="#d060b0" stroke-width="0.8"/><path d="M169.5 541.5L182.0 553.0" stroke="#d060b0" stroke-width="0.8"/><path d="M72.6 659.4L85.1 647.9" stroke="#d0843e" stroke-width="0.9" opacity="0.8"/><path d="M75.8 662.2L88.2 650.8" stroke="#3f8fc8" stroke-width="0.9" opacity="0.8"/><path d="M78.9 665.1L91.4 653.6" stroke="#2d3f8e" stroke-width="0.9" opacity="0.8"/><path d="M69.5 656.5L82.0 668.0" stroke="#d060b0" stroke-width="0.8"/><path d="M85.1 647.9L97.6 636.4" stroke="#c64aa6" stroke-width="0.9" opacity="0.8"/><path d="M88.2 650.8L100.8 639.2" stroke="#2d3f8e" stroke-width="0.9" opacity="0.8"/><path d="M91.4 653.6L103.9 642.1" stroke="#d0843e" stroke-width="0.9" opacity="0.8"/><path d="M82.0 645.0L94.5 656.5" stroke="#d060b0" stroke-width="0.8"/><path d="M97.6 636.4L110.1 624.9" stroke="#3f8fc8" stroke-width="0.9" opacity="0.8"/><path d="M100.8 639.2L113.2 627.8" stroke="#2d3f8e" stroke-width="0.9" opacity="0.8"/><path d="M103.9 642.1L116.4 630.6" stroke="#c64aa6" stroke-width="0.9" opacity="0.8"/><path d="M94.5 633.5L107.0 645.0" stroke="#d060b0" stroke-width="0.8"/><path d="M110.1 624.9L122.6 613.4" stroke="#2d3f8e" stroke-width="0.9" opacity="0.8"/><path d="M113.2 627.8L125.8 616.2" stroke="#d0843e" stroke-width="0.9" opacity="0.8"/><path d="M116.4 630.6L128.9 619.1" stroke="#3f8fc8" stroke-width="0.9" opacity="0.8"/><path d="M107.0 622.0L119.5 633.5" stroke="#d060b0" stroke-width="0.8"/><path d="M122.6 613.4L135.1 601.9" stroke="#2d3f8e" stroke-width="0.9" opacity="0.8"/><path d="M125.8 616.2L138.2 604.8" stroke="#c64aa6" stroke-width="0.9" opacity="0.8"/><path d="M128.9 619.1L141.4 607.6" stroke="#2d3f8e" stroke-width="0.9" opacity="0.8"/><path d="M119.5 610.5L132.0 622.0" stroke="#d060b0" stroke-width="0.8"/><path d="M135.1 601.9L147.6 590.4" stroke="#d0843e" stroke-width="0.9" opacity="0.8"/><path d="M138.2 604.8L150.8 593.2" stroke="#3f8fc8" stroke-width="0.9" opacity="0.8"/><path d="M141.4 607.6L153.9 596.1" stroke="#2d3f8e" stroke-width="0.9" opacity="0.8"/><path d="M132.0 599.0L144.5 610.5" stroke="#d060b0" stroke-width="0.8"/><path d="M147.6 590.4L160.1 578.9" stroke="#c64aa6" stroke-width="0.9" opacity="0.8"/><path d="M150.8 593.2L163.2 581.8" stroke="#2d3f8e" stroke-width="0.9" opacity="0.8"/><path d="M153.9 596.1L166.4 584.6" stroke="#d0843e" stroke-width="0.9" opacity="0.8"/><path d="M144.5 587.5L157.0 599.0" stroke="#d060b0" stroke-width="0.8"/><path d="M160.1 578.9L172.6 567.4" stroke="#3f8fc8" stroke-width="0.9" opacity="0.8"/><path d="M163.2 581.8L175.8 570.2" stroke="#2d3f8e" stroke-width="0.9" opacity="0.8"/><path d="M166.4 584.6L178.9 573.1" stroke="#c64aa6" stroke-width="0.9" opacity="0.8"/><path d="M157.0 576.0L169.5 587.5" stroke="#d060b0" stroke-width="0.8"/><path d="M172.6 567.4L185.1 555.9" stroke="#2d3f8e" stroke-width="0.9" opacity="0.8"/><path d="M175.8 570.2L188.2 558.8" stroke="#d0843e" stroke-width="0.9" opacity="0.8"/><path d="M178.9 573.1L191.4 561.6" stroke="#3f8fc8" stroke-width="0.9" opacity="0.8"/><path d="M169.5 564.5L182.0 576.0" stroke="#d060b0" stroke-width="0.8"/><path d="M185.1 555.9L197.6 544.4" stroke="#2d3f8e" stroke-width="0.9" opacity="0.8"/><path d="M188.2 558.8L200.8 547.2" stroke="#c64aa6" stroke-width="0.9" opacity="0.8"/><path d="M191.4 561.6L203.9 550.1" stroke="#2d3f8e" stroke-width="0.9" opacity="0.8"/><path d="M182.0 553.0L194.5 564.5" stroke="#d060b0" stroke-width="0.8"/><path d="M194.5 541.5L207.0 553.0" stroke="#d060b0" stroke-width="0.8"/><path d="M97.6 659.4L110.1 647.9" stroke="#3f8fc8" stroke-width="0.9" opacity="0.8"/><path d="M100.8 662.2L113.2 650.8" stroke="#2d3f8e" stroke-width="0.9" opacity="0.8"/><path d="M103.9 665.1L116.4 653.6" stroke="#c64aa6" stroke-width="0.9" opacity="0.8"/><path d="M94.5 656.5L107.0 668.0" stroke="#d060b0" stroke-width="0.8"/><path d="M110.1 647.9L122.6 636.4" stroke="#2d3f8e" stroke-width="0.9" opacity="0.8"/><path d="M113.2 650.8L125.8 639.2" stroke="#d0843e" stroke-width="0.9" opacity="0.8"/><path d="M116.4 653.6L128.9 642.1" stroke="#3f8fc8" stroke-width="0.9" opacity="0.8"/><path d="M107.0 645.0L119.5 656.5" stroke="#d060b0" stroke-width="0.8"/><path d="M122.6 636.4L135.1 624.9" stroke="#2d3f8e" stroke-width="0.9" opacity="0.8"/><path d="M125.8 639.2L138.2 627.8" stroke="#c64aa6" stroke-width="0.9" opacity="0.8"/><path d="M128.9 642.1L141.4 630.6" stroke="#2d3f8e" stroke-width="0.9" opacity="0.8"/><path d="M119.5 633.5L132.0 645.0" stroke="#d060b0" stroke-width="0.8"/><path d="M135.1 624.9L147.6 613.4" stroke="#d0843e" stroke-width="0.9" opacity="0.8"/><path d="M138.2 627.8L150.8 616.2" stroke="#3f8fc8" stroke-width="0.9" opacity="0.8"/><path d="M141.4 630.6L153.9 619.1" stroke="#2d3f8e" stroke-width="0.9" opacity="0.8"/><path d="M132.0 622.0L144.5 633.5" stroke="#d060b0" stroke-width="0.8"/><path d="M147.6 613.4L160.1 601.9" stroke="#c64aa6" stroke-width="0.9" opacity="0.8"/><path d="M150.8 616.2L163.2 604.8" stroke="#2d3f8e" stroke-width="0.9" opacity="0.8"/><path d="M153.9 619.1L166.4 607.6" stroke="#d0843e" stroke-width="0.9" opacity="0.8"/><path d="M144.5 610.5L157.0 622.0" stroke="#d060b0" stroke-width="0.8"/><path d="M160.1 601.9L172.6 590.4" stroke="#3f8fc8" stroke-width="0.9" opacity="0.8"/><path d="M163.2 604.8L175.8 593.2" stroke="#2d3f8e" stroke-width="0.9" opacity="0.8"/><path d="M166.4 607.6L178.9 596.1" stroke="#c64aa6" stroke-width="0.9" opacity="0.8"/><path d="M157.0 599.0L169.5 610.5" stroke="#d060b0" stroke-width="0.8"/><path d="M172.6 590.4L185.1 578.9" stroke="#2d3f8e" stroke-width="0.9" opacity="0.8"/><path d="M175.8 593.2L188.2 581.8" stroke="#d0843e" stroke-width="0.9" opacity="0.8"/><path d="M178.9 596.1L191.4 584.6" stroke="#3f8fc8" stroke-width="0.9" opacity="0.8"/><path d="M169.5 587.5L182.0 599.0" stroke="#d060b0" stroke-width="0.8"/><path d="M185.1 578.9L197.6 567.4" stroke="#2d3f8e" stroke-width="0.9" opacity="0.8"/><path d="M188.2 581.8L200.8 570.2" stroke="#c64aa6" stroke-width="0.9" opacity="0.8"/><path d="M191.4 584.6L203.9 573.1" stroke="#2d3f8e" stroke-width="0.9" opacity="0.8"/><path d="M182.0 576.0L194.5 587.5" stroke="#d060b0" stroke-width="0.8"/><path d="M197.6 567.4L210.1 555.9" stroke="#d0843e" stroke-width="0.9" opacity="0.8"/><path d="M200.8 570.2L213.2 558.8" stroke="#3f8fc8" stroke-width="0.9" opacity="0.8"/><path d="M203.9 573.1L216.4 561.6" stroke="#2d3f8e" stroke-width="0.9" opacity="0.8"/><path d="M194.5 564.5L207.0 576.0" stroke="#d060b0" stroke-width="0.8"/><path d="M210.1 555.9L222.6 544.4" stroke="#c64aa6" stroke-width="0.9" opacity="0.8"/><path d="M213.2 558.8L225.8 547.2" stroke="#2d3f8e" stroke-width="0.9" opacity="0.8"/><path d="M216.4 561.6L228.9 550.1" stroke="#d0843e" stroke-width="0.9" opacity="0.8"/><path d="M207.0 553.0L219.5 564.5" stroke="#d060b0" stroke-width="0.8"/><path d="M219.5 541.5L232.0 553.0" stroke="#d060b0" stroke-width="0.8"/><path d="M122.6 659.4L135.1 647.9" stroke="#2d3f8e" stroke-width="0.9" opacity="0.8"/><path d="M125.8 662.2L138.2 650.8" stroke="#c64aa6" stroke-width="0.9" opacity="0.8"/><path d="M128.9 665.1L141.4 653.6" stroke="#2d3f8e" stroke-width="0.9" opacity="0.8"/><path d="M119.5 656.5L132.0 668.0" stroke="#d060b0" stroke-width="0.8"/><path d="M135.1 647.9L147.6 636.4" stroke="#d0843e" stroke-width="0.9" opacity="0.8"/><path d="M138.2 650.8L150.8 639.2" stroke="#3f8fc8" stroke-width="0.9" opacity="0.8"/><path d="M141.4 653.6L153.9 642.1" stroke="#2d3f8e" stroke-width="0.9" opacity="0.8"/><path d="M132.0 645.0L144.5 656.5" stroke="#d060b0" stroke-width="0.8"/><path d="M147.6 636.4L160.1 624.9" stroke="#c64aa6" stroke-width="0.9" opacity="0.8"/><path d="M150.8 639.2L163.2 627.8" stroke="#2d3f8e" stroke-width="0.9" opacity="0.8"/><path d="M153.9 642.1L166.4 630.6" stroke="#d0843e" stroke-width="0.9" opacity="0.8"/><path d="M144.5 633.5L157.0 645.0" stroke="#d060b0" stroke-width="0.8"/><path d="M160.1 624.9L172.6 613.4" stroke="#3f8fc8" stroke-width="0.9" opacity="0.8"/><path d="M163.2 627.8L175.8 616.2" stroke="#2d3f8e" stroke-width="0.9" opacity="0.8"/><path d="M166.4 630.6L178.9 619.1" stroke="#c64aa6" stroke-width="0.9" opacity="0.8"/><path d="M157.0 622.0L169.5 633.5" stroke="#d060b0" stroke-width="0.8"/><path d="M172.6 613.4L185.1 601.9" stroke="#2d3f8e" stroke-width="0.9" opacity="0.8"/><path d="M175.8 616.2L188.2 604.8" stroke="#d0843e" stroke-width="0.9" opacity="0.8"/><path d="M178.9 619.1L191.4 607.6" stroke="#3f8fc8" stroke-width="0.9" opacity="0.8"/><path d="M169.5 610.5L182.0 622.0" stroke="#d060b0" stroke-width="0.8"/><path d="M185.1 601.9L197.6 590.4" stroke="#2d3f8e" stroke-width="0.9" opacity="0.8"/><path d="M188.2 604.8L200.8 593.2" stroke="#c64aa6" stroke-width="0.9" opacity="0.8"/><path d="M191.4 607.6L203.9 596.1" stroke="#2d3f8e" stroke-width="0.9" opacity="0.8"/><path d="M182.0 599.0L194.5 610.5" stroke="#d060b0" stroke-width="0.8"/><path d="M197.6 590.4L210.1 578.9" stroke="#d0843e" stroke-width="0.9" opacity="0.8"/><path d="M200.8 593.2L213.2 581.8" stroke="#3f8fc8" stroke-width="0.9" opacity="0.8"/><path d="M203.9 596.1L216.4 584.6" stroke="#2d3f8e" stroke-width="0.9" opacity="0.8"/><path d="M194.5 587.5L207.0 599.0" stroke="#d060b0" stroke-width="0.8"/><path d="M210.1 578.9L222.6 567.4" stroke="#c64aa6" stroke-width="0.9" opacity="0.8"/><path d="M213.2 581.8L225.8 570.2" stroke="#2d3f8e" stroke-width="0.9" opacity="0.8"/><path d="M216.4 584.6L228.9 573.1" stroke="#d0843e" stroke-width="0.9" opacity="0.8"/><path d="M207.0 576.0L219.5 587.5" stroke="#d060b0" stroke-width="0.8"/><path d="M222.6 567.4L235.1 555.9" stroke="#3f8fc8" stroke-width="0.9" opacity="0.8"/><path d="M225.8 570.2L238.2 558.8" stroke="#2d3f8e" stroke-width="0.9" opacity="0.8"/><path d="M228.9 573.1L241.4 561.6" stroke="#c64aa6" stroke-width="0.9" opacity="0.8"/><path d="M219.5 564.5L232.0 576.0" stroke="#d060b0" stroke-width="0.8"/><path d="M147.6 659.4L160.1 647.9" stroke="#c64aa6" stroke-width="0.9" opacity="0.8"/><path d="M150.8 662.2L163.2 650.8" stroke="#2d3f8e" stroke-width="0.9" opacity="0.8"/><path d="M153.9 665.1L166.4 653.6" stroke="#d0843e" stroke-width="0.9" opacity="0.8"/><path d="M144.5 656.5L157.0 668.0" stroke="#d060b0" stroke-width="0.8"/><path d="M160.1 647.9L172.6 636.4" stroke="#3f8fc8" stroke-width="0.9" opacity="0.8"/><path d="M163.2 650.8L175.8 639.2" stroke="#2d3f8e" stroke-width="0.9" opacity="0.8"/><path d="M166.4 653.6L178.9 642.1" stroke="#c64aa6" stroke-width="0.9" opacity="0.8"/><path d="M157.0 645.0L169.5 656.5" stroke="#d060b0" stroke-width="0.8"/><path d="M172.6 636.4L185.1 624.9" stroke="#2d3f8e" stroke-width="0.9" opacity="0.8"/><path d="M175.8 639.2L188.2 627.8" stroke="#d0843e" stroke-width="0.9" opacity="0.8"/><path d="M178.9 642.1L191.4 630.6" stroke="#3f8fc8" stroke-width="0.9" opacity="0.8"/><path d="M169.5 633.5L182.0 645.0" stroke="#d060b0" stroke-width="0.8"/><path d="M185.1 624.9L197.6 613.4" stroke="#2d3f8e" stroke-width="0.9" opacity="0.8"/><path d="M188.2 627.8L200.8 616.2" stroke="#c64aa6" stroke-width="0.9" opacity="0.8"/><path d="M191.4 630.6L203.9 619.1" stroke="#2d3f8e" stroke-width="0.9" opacity="0.8"/><path d="M182.0 622.0L194.5 633.5" stroke="#d060b0" stroke-width="0.8"/><path d="M197.6 613.4L210.1 601.9" stroke="#d0843e" stroke-width="0.9" opacity="0.8"/><path d="M200.8 616.2L213.2 604.8" stroke="#3f8fc8" stroke-width="0.9" opacity="0.8"/><path d="M203.9 619.1L216.4 607.6" stroke="#2d3f8e" stroke-width="0.9" opacity="0.8"/><path d="M194.5 610.5L207.0 622.0" stroke="#d060b0" stroke-width="0.8"/><path d="M210.1 601.9L222.6 590.4" stroke="#c64aa6" stroke-width="0.9" opacity="0.8"/><path d="M213.2 604.8L225.8 593.2" stroke="#2d3f8e" stroke-width="0.9" opacity="0.8"/><path d="M216.4 607.6L228.9 596.1" stroke="#d0843e" stroke-width="0.9" opacity="0.8"/><path d="M207.0 599.0L219.5 610.5" stroke="#d060b0" stroke-width="0.8"/><path d="M222.6 590.4L235.1 578.9" stroke="#3f8fc8" stroke-width="0.9" opacity="0.8"/><path d="M225.8 593.2L238.2 581.8" stroke="#2d3f8e" stroke-width="0.9" opacity="0.8"/><path d="M228.9 596.1L241.4 584.6" stroke="#c64aa6" stroke-width="0.9" opacity="0.8"/><path d="M219.5 587.5L232.0 599.0" stroke="#d060b0" stroke-width="0.8"/><path d="M172.6 659.4L185.1 647.9" stroke="#2d3f8e" stroke-width="0.9" opacity="0.8"/><path d="M175.8 662.2L188.2 650.8" stroke="#d0843e" stroke-width="0.9" opacity="0.8"/><path d="M178.9 665.1L191.4 653.6" stroke="#3f8fc8" stroke-width="0.9" opacity="0.8"/><path d="M169.5 656.5L182.0 668.0" stroke="#d060b0" stroke-width="0.8"/><path d="M185.1 647.9L197.6 636.4" stroke="#2d3f8e" stroke-width="0.9" opacity="0.8"/><path d="M188.2 650.8L200.8 639.2" stroke="#c64aa6" stroke-width="0.9" opacity="0.8"/><path d="M191.4 653.6L203.9 642.1" stroke="#2d3f8e" stroke-width="0.9" opacity="0.8"/><path d="M182.0 645.0L194.5 656.5" stroke="#d060b0" stroke-width="0.8"/><path d="M197.6 636.4L210.1 624.9" stroke="#d0843e" stroke-width="0.9" opacity="0.8"/><path d="M200.8 639.2L213.2 627.8" stroke="#3f8fc8" stroke-width="0.9" opacity="0.8"/><path d="M203.9 642.1L216.4 630.6" stroke="#2d3f8e" stroke-width="0.9" opacity="0.8"/><path d="M194.5 633.5L207.0 645.0" stroke="#d060b0" stroke-width="0.8"/><path d="M210.1 624.9L222.6 613.4" stroke="#c64aa6" stroke-width="0.9" opacity="0.8"/><path d="M213.2 627.8L225.8 616.2" stroke="#2d3f8e" stroke-width="0.9" opacity="0.8"/><path d="M216.4 630.6L228.9 619.1" stroke="#d0843e" stroke-width="0.9" opacity="0.8"/><path d="M207.0 622.0L219.5 633.5" stroke="#d060b0" stroke-width="0.8"/><path d="M222.6 613.4L235.1 601.9" stroke="#3f8fc8" stroke-width="0.9" opacity="0.8"/><path d="M225.8 616.2L238.2 604.8" stroke="#2d3f8e" stroke-width="0.9" opacity="0.8"/><path d="M228.9 619.1L241.4 607.6" stroke="#c64aa6" stroke-width="0.9" opacity="0.8"/><path d="M219.5 610.5L232.0 622.0" stroke="#d060b0" stroke-width="0.8"/><path d="M197.6 659.4L210.1 647.9" stroke="#d0843e" stroke-width="0.9" opacity="0.8"/><path d="M200.8 662.2L213.2 650.8" stroke="#3f8fc8" stroke-width="0.9" opacity="0.8"/><path d="M203.9 665.1L216.4 653.6" stroke="#2d3f8e" stroke-width="0.9" opacity="0.8"/><path d="M194.5 656.5L207.0 668.0" stroke="#d060b0" stroke-width="0.8"/><path d="M210.1 647.9L222.6 636.4" stroke="#c64aa6" stroke-width="0.9" opacity="0.8"/><path d="M213.2 650.8L225.8 639.2" stroke="#2d3f8e" stroke-width="0.9" opacity="0.8"/><path d="M216.4 653.6L228.9 642.1" stroke="#d0843e" stroke-width="0.9" opacity="0.8"/><path d="M207.0 645.0L219.5 656.5" stroke="#d060b0" stroke-width="0.8"/><path d="M222.6 636.4L235.1 624.9" stroke="#3f8fc8" stroke-width="0.9" opacity="0.8"/><path d="M225.8 639.2L238.2 627.8" stroke="#2d3f8e" stroke-width="0.9" opacity="0.8"/><path d="M228.9 642.1L241.4 630.6" stroke="#c64aa6" stroke-width="0.9" opacity="0.8"/><path d="M219.5 633.5L232.0 645.0" stroke="#d060b0" stroke-width="0.8"/><ellipse cx="77.2" cy="621.7" rx="2.1" ry="1.3" fill="#5adcdc" opacity="0.9"/><ellipse cx="131.3" cy="602.6" rx="2.0" ry="1.8" fill="#5adcdc" opacity="0.9"/><ellipse cx="71.1" cy="582.4" rx="2.2" ry="1.4" fill="#5adcdc" opacity="0.9"/><ellipse cx="171.3" cy="581.1" rx="1.7" ry="1.7" fill="#5adcdc" opacity="0.9"/><ellipse cx="91.3" cy="626.4" rx="2.3" ry="1.0" fill="#5adcdc" opacity="0.9"/><ellipse cx="60.8" cy="607.0" rx="2.3" ry="1.4" fill="#5adcdc" opacity="0.9"/><ellipse cx="89.5" cy="601.3" rx="1.2" ry="1.2" fill="#5adcdc" opacity="0.9"/><ellipse cx="122.7" cy="604.8" rx="1.5" ry="1.2" fill="#5adcdc" opacity="0.9"/><ellipse cx="89.8" cy="603.1" rx="1.5" ry="1.0" fill="#5adcdc" opacity="0.9"/><ellipse cx="182.6" cy="607.7" rx="2.0" ry="1.2" fill="#5adcdc" opacity="0.9"/><ellipse cx="205.9" cy="622.3" rx="1.3" ry="1.3" fill="#5adcdc" opacity="0.9"/><ellipse cx="165.2" cy="615.1" rx="2.3" ry="1.4" fill="#5adcdc" opacity="0.9"/><ellipse cx="181.5" cy="613.2" rx="1.6" ry="1.6" fill="#5adcdc" opacity="0.9"/><ellipse cx="189.4" cy="621.6" rx="1.8" ry="1.6" fill="#5adcdc" opacity="0.9"/><ellipse cx="62.2" cy="592.7" rx="2.2" ry="1.4" fill="#5adcdc" opacity="0.9"/><ellipse cx="83.0" cy="607.3" rx="2.0" ry="1.7" fill="#5adcdc" opacity="0.9"/><ellipse cx="113.2" cy="602.1" rx="1.8" ry="1.8" fill="#5adcdc" opacity="0.9"/><ellipse cx="135.1" cy="599.9" rx="1.8" ry="1.0" fill="#5adcdc" opacity="0.9"/><ellipse cx="63.5" cy="614.8" rx="2.4" ry="1.6" fill="#5adcdc" opacity="0.9"/><ellipse cx="116.0" cy="589.2" rx="1.8" ry="2.0" fill="#5adcdc" opacity="0.9"/><ellipse cx="172.6" cy="606.9" rx="2.2" ry="1.2" fill="#5adcdc" opacity="0.9"/><ellipse cx="134.1" cy="626.7" rx="1.9" ry="1.5" fill="#5adcdc" opacity="0.9"/><ellipse cx="97.4" cy="607.3" rx="2.3" ry="1.0" fill="#5adcdc" opacity="0.9"/><ellipse cx="174.5" cy="620.4" rx="2.3" ry="1.7" fill="#5adcdc" opacity="0.9"/><ellipse cx="178.4" cy="605.9" rx="1.9" ry="1.4" fill="#5adcdc" opacity="0.9"/><ellipse cx="65.4" cy="622.8" rx="1.9" ry="1.2" fill="#5adcdc" opacity="0.9"/><ellipse cx="132.7" cy="605.4" rx="2.0" ry="1.6" fill="#c8ec58" opacity="0.85"/><ellipse cx="137.8" cy="610.7" rx="2.4" ry="1.8" fill="#c8ec58" opacity="0.85"/><ellipse cx="61.2" cy="595.7" rx="1.8" ry="2.0" fill="#c8ec58" opacity="0.85"/><ellipse cx="186.2" cy="617.3" rx="2.7" ry="2.3" fill="#c8ec58" opacity="0.85"/><ellipse cx="95.3" cy="619.0" rx="2.5" ry="1.3" fill="#c8ec58" opacity="0.85"/><ellipse cx="59.5" cy="587.6" rx="2.6" ry="1.5" fill="#c8ec58" opacity="0.85"/><ellipse cx="73.4" cy="610.7" rx="2.0" ry="1.3" fill="#c8ec58" opacity="0.85"/><ellipse cx="80.9" cy="607.0" rx="1.8" ry="1.6" fill="#c8ec58" opacity="0.85"/><ellipse cx="163.7" cy="604.3" rx="2.0" ry="1.8" fill="#c8ec58" opacity="0.85"/><ellipse cx="60.5" cy="601.7" rx="2.1" ry="1.4" fill="#c8ec58" opacity="0.85"/></g>
<circle cx="127" cy="595.2" r="4.3" fill="url(#gOr)"/>
<circle cx="130.6" cy="602.2" r="4" fill="url(#gOr)"/>
<circle cx="158.6" cy="604.6" r="4.3" fill="url(#gOr)"/>
<circle cx="150.5" cy="615" r="4.3" fill="url(#gOr)"/>
<circle cx="126" cy="623.3" r="5" fill="url(#gOr)"/>
<circle cx="187" cy="605" r="3.5" fill="url(#gOr)"/>
<circle cx="67.5" cy="594" r="3.8" fill="url(#gDk)"/><circle cx="68.0" cy="594.4" r="1.9" fill="#f2f2f2" opacity="0.9"/>
<circle cx="86.2" cy="607" r="4" fill="url(#gDk)"/><circle cx="86.7" cy="607.4" r="2.0" fill="#f2f2f2" opacity="0.9"/>
<circle cx="68.7" cy="621" r="4" fill="url(#gDk)"/><circle cx="69.2" cy="621.4" r="2.0" fill="#f2f2f2" opacity="0.9"/>
<circle cx="177.3" cy="597.6" r="4.2" fill="url(#gDk)"/><circle cx="177.8" cy="598.0" r="2.1" fill="#f2f2f2" opacity="0.9"/>
<circle cx="200.7" cy="617.4" r="4" fill="url(#gDk)"/><circle cx="201.2" cy="617.8" r="2.0" fill="#f2f2f2" opacity="0.9"/>
<circle cx="57.0" cy="599.0" r="2.1" fill="#fff" stroke="#c8379f" stroke-width="1.2"/>
<circle cx="69.5" cy="587.5" r="2.1" fill="#fff" stroke="#c8379f" stroke-width="1.2"/>
<circle cx="69.5" cy="610.5" r="2.1" fill="#fff" stroke="#c8379f" stroke-width="1.2"/>
<circle cx="82.0" cy="599.0" r="2.1" fill="#fff" stroke="#c8379f" stroke-width="1.2"/>
<circle cx="94.5" cy="587.5" r="2.1" fill="#fff" stroke="#c8379f" stroke-width="1.2"/>
<circle cx="82.0" cy="622.0" r="2.1" fill="#fff" stroke="#c8379f" stroke-width="1.2"/>
<circle cx="94.5" cy="610.5" r="2.1" fill="#fff" stroke="#c8379f" stroke-width="1.2"/>
<circle cx="107.0" cy="599.0" r="2.1" fill="#fff" stroke="#c8379f" stroke-width="1.2"/>
<circle cx="119.5" cy="587.5" r="2.1" fill="#fff" stroke="#c8379f" stroke-width="1.2"/>
<circle cx="107.0" cy="622.0" r="2.1" fill="#fff" stroke="#c8379f" stroke-width="1.2"/>
<circle cx="119.5" cy="610.5" r="2.1" fill="#fff" stroke="#c8379f" stroke-width="1.2"/>
<circle cx="132.0" cy="599.0" r="2.1" fill="#fff" stroke="#c8379f" stroke-width="1.2"/>
<circle cx="144.5" cy="587.5" r="2.1" fill="#fff" stroke="#c8379f" stroke-width="1.2"/>
<circle cx="132.0" cy="622.0" r="2.1" fill="#fff" stroke="#c8379f" stroke-width="1.2"/>
<circle cx="144.5" cy="610.5" r="2.1" fill="#fff" stroke="#c8379f" stroke-width="1.2"/>
<circle cx="157.0" cy="599.0" r="2.1" fill="#fff" stroke="#c8379f" stroke-width="1.2"/>
<circle cx="169.5" cy="587.5" r="2.1" fill="#fff" stroke="#c8379f" stroke-width="1.2"/>
<circle cx="157.0" cy="622.0" r="2.1" fill="#fff" stroke="#c8379f" stroke-width="1.2"/>
<circle cx="169.5" cy="610.5" r="2.1" fill="#fff" stroke="#c8379f" stroke-width="1.2"/>
<circle cx="182.0" cy="599.0" r="2.1" fill="#fff" stroke="#c8379f" stroke-width="1.2"/>
<circle cx="194.5" cy="587.5" r="2.1" fill="#fff" stroke="#c8379f" stroke-width="1.2"/>
<circle cx="182.0" cy="622.0" r="2.1" fill="#fff" stroke="#c8379f" stroke-width="1.2"/>
<circle cx="194.5" cy="610.5" r="2.1" fill="#fff" stroke="#c8379f" stroke-width="1.2"/>
<circle cx="207.0" cy="599.0" r="2.1" fill="#fff" stroke="#c8379f" stroke-width="1.2"/>
<ellipse cx="87" cy="578" rx="9" ry="6" fill="#e2ea34" opacity="0.95" stroke="#bccc2c" stroke-width="0.6"/>
<ellipse cx="85.2" cy="576.8" rx="5.0" ry="3.0" fill="#f2f68a" opacity="0.75"/>
<ellipse cx="112" cy="578" rx="10" ry="8" fill="#e2ea34" opacity="0.95" stroke="#bccc2c" stroke-width="0.6"/>
<ellipse cx="110.0" cy="576.4" rx="5.5" ry="4.0" fill="#f2f68a" opacity="0.75"/>
<ellipse cx="131" cy="569" rx="7" ry="7" fill="#e2ea34" opacity="0.95" stroke="#bccc2c" stroke-width="0.6"/>
<ellipse cx="129.6" cy="567.6" rx="3.9" ry="3.5" fill="#f2f68a" opacity="0.75"/>
<ellipse cx="141" cy="570" rx="6" ry="7.5" fill="#e2ea34" opacity="0.95" stroke="#bccc2c" stroke-width="0.6"/>
<ellipse cx="139.8" cy="568.5" rx="3.3" ry="3.8" fill="#f2f68a" opacity="0.75"/>
<ellipse cx="164.5" cy="570" rx="8" ry="10" fill="#e2ea34" opacity="0.95" stroke="#bccc2c" stroke-width="0.6"/>
<ellipse cx="162.9" cy="568.0" rx="4.4" ry="5.0" fill="#f2f68a" opacity="0.75"/>
<ellipse cx="168" cy="583" rx="9" ry="5" fill="#e2ea34" opacity="0.95" stroke="#bccc2c" stroke-width="0.6"/>
<ellipse cx="166.2" cy="582.0" rx="5.0" ry="2.5" fill="#f2f68a" opacity="0.75"/>
<ellipse cx="195" cy="579" rx="9" ry="6.5" fill="#e2ea34" opacity="0.95" stroke="#bccc2c" stroke-width="0.6"/>
<ellipse cx="193.2" cy="577.7" rx="5.0" ry="3.2" fill="#f2f68a" opacity="0.75"/>
<ellipse cx="76" cy="580" rx="5" ry="6" fill="#e2ea34" opacity="0.95" stroke="#bccc2c" stroke-width="0.6"/>
<ellipse cx="75.0" cy="578.8" rx="2.8" ry="3.0" fill="#f2f68a" opacity="0.75"/>
<ellipse cx="100" cy="584" rx="7" ry="4" fill="#e2ea34" opacity="0.95" stroke="#bccc2c" stroke-width="0.6"/>
<ellipse cx="98.6" cy="583.2" rx="3.9" ry="2.0" fill="#f2f68a" opacity="0.75"/>
<ellipse cx="134" cy="582" rx="6" ry="5" fill="#e2ea34" opacity="0.95" stroke="#bccc2c" stroke-width="0.6"/>
<ellipse cx="132.8" cy="581.0" rx="3.3" ry="2.5" fill="#f2f68a" opacity="0.75"/>
<ellipse cx="148" cy="579" rx="6" ry="5" fill="#e2ea34" opacity="0.95" stroke="#bccc2c" stroke-width="0.6"/>
<ellipse cx="146.8" cy="578.0" rx="3.3" ry="2.5" fill="#f2f68a" opacity="0.75"/>
<ellipse cx="83" cy="557.1" rx="6.1" ry="5.5" fill="#4fdede"/><ellipse cx="81.9" cy="555.5" rx="3.3" ry="2.5" fill="#8ef0ef" opacity="0.8"/>
<ellipse cx="83" cy="565.3" rx="6.1" ry="5.5" fill="#4fdede"/><ellipse cx="81.9" cy="563.6" rx="3.3" ry="2.5" fill="#8ef0ef" opacity="0.8"/>
<ellipse cx="90" cy="571" rx="6.6" ry="6" fill="#4fdede"/><ellipse cx="88.8" cy="569.2" rx="3.6" ry="2.7" fill="#8ef0ef" opacity="0.8"/>
<ellipse cx="109.3" cy="565.3" rx="5.5" ry="5" fill="#4fdede"/><ellipse cx="108.3" cy="563.8" rx="3.0" ry="2.2" fill="#8ef0ef" opacity="0.8"/>
<ellipse cx="187.8" cy="554.8" rx="5.5" ry="5" fill="#4fdede"/><ellipse cx="186.8" cy="553.3" rx="3.0" ry="2.2" fill="#8ef0ef" opacity="0.8"/>
<ellipse cx="193" cy="565.9" rx="6.1" ry="5.5" fill="#4fdede"/><ellipse cx="191.9" cy="564.2" rx="3.3" ry="2.5" fill="#8ef0ef" opacity="0.8"/>
<ellipse cx="137" cy="571.7" rx="3.3" ry="3" fill="#4fdede"/><ellipse cx="136.4" cy="570.8" rx="1.8" ry="1.4" fill="#8ef0ef" opacity="0.8"/>
<ellipse cx="163.9" cy="570.5" rx="3.3" ry="3" fill="#4fdede"/><ellipse cx="163.3" cy="569.6" rx="1.8" ry="1.4" fill="#8ef0ef" opacity="0.8"/>
<ellipse cx="180.2" cy="586.9" rx="2.8" ry="2.5" fill="#4fdede"/><ellipse cx="179.7" cy="586.1" rx="1.5" ry="1.1" fill="#8ef0ef" opacity="0.8"/>
<circle cx="70.2" cy="560" r="4.1" fill="url(#gGr)" stroke="#3c8434" stroke-width="0.9"/>
<circle cx="71.4" cy="570.5" r="4.1" fill="url(#gGr)" stroke="#3c8434" stroke-width="0.9"/>
<circle cx="77.2" cy="573.4" r="4.1" fill="url(#gGr)" stroke="#3c8434" stroke-width="0.9"/>
<circle cx="94.7" cy="562.4" r="4.1" fill="url(#gGr)" stroke="#3c8434" stroke-width="0.9"/>
<circle cx="97" cy="567.6" r="4.1" fill="url(#gGr)" stroke="#3c8434" stroke-width="0.9"/>
<circle cx="101.7" cy="576.4" r="4.1" fill="url(#gGr)" stroke="#3c8434" stroke-width="0.9"/>
<circle cx="121.6" cy="562.4" r="4.1" fill="url(#gGr)" stroke="#3c8434" stroke-width="0.9"/>
<circle cx="122.7" cy="570" r="4.1" fill="url(#gGr)" stroke="#3c8434" stroke-width="0.9"/>
<circle cx="128.6" cy="575.8" r="4.1" fill="url(#gGr)" stroke="#3c8434" stroke-width="0.9"/>
<circle cx="148.7" cy="560.6" r="4.1" fill="url(#gGr)" stroke="#3c8434" stroke-width="0.9"/>
<circle cx="152.2" cy="566.4" r="4.1" fill="url(#gGr)" stroke="#3c8434" stroke-width="0.9"/>
<circle cx="156.3" cy="574.6" r="4.1" fill="url(#gGr)" stroke="#3c8434" stroke-width="0.9"/>
<circle cx="175.5" cy="560.6" r="4.1" fill="url(#gGr)" stroke="#3c8434" stroke-width="0.9"/>
<circle cx="179" cy="567.6" r="4.1" fill="url(#gGr)" stroke="#3c8434" stroke-width="0.9"/>
<circle cx="182" cy="574" r="4.1" fill="url(#gGr)" stroke="#3c8434" stroke-width="0.9"/>
<clipPath id="clip2"><polygon points="54,652 205,650 209,680 206,706 150,715 128,708 110,714 88,708 60,710 52,690"/></clipPath>
<g clip-path="url(#clip2)"><path d="M41.5 623.5L54.0 635.0" stroke="#d060b0" stroke-width="0.8"/><path d="M44.6 649.4L57.1 637.9" stroke="#2d3f8e" stroke-width="0.9" opacity="0.8"/><path d="M47.8 652.2L60.2 640.8" stroke="#d0843e" stroke-width="0.9" opacity="0.8"/><path d="M50.9 655.1L63.4 643.6" stroke="#3f8fc8" stroke-width="0.9" opacity="0.8"/><path d="M41.5 646.5L54.0 658.0" stroke="#d060b0" stroke-width="0.8"/><path d="M57.1 637.9L69.6 626.4" stroke="#2d3f8e" stroke-width="0.9" opacity="0.8"/><path d="M60.2 640.8L72.8 629.2" stroke="#c64aa6" stroke-width="0.9" opacity="0.8"/><path d="M63.4 643.6L75.9 632.1" stroke="#2d3f8e" stroke-width="0.9" opacity="0.8"/><path d="M54.0 635.0L66.5 646.5" stroke="#d060b0" stroke-width="0.8"/><path d="M66.5 623.5L79.0 635.0" stroke="#d060b0" stroke-width="0.8"/><path d="M44.6 672.4L57.1 660.9" stroke="#2d3f8e" stroke-width="0.9" opacity="0.8"/><path d="M47.8 675.2L60.2 663.8" stroke="#d0843e" stroke-width="0.9" opacity="0.8"/><path d="M50.9 678.1L63.4 666.6" stroke="#3f8fc8" stroke-width="0.9" opacity="0.8"/><path d="M41.5 669.5L54.0 681.0" stroke="#d060b0" stroke-width="0.8"/><path d="M57.1 660.9L69.6 649.4" stroke="#2d3f8e" stroke-width="0.9" opacity="0.8"/><path d="M60.2 663.8L72.8 652.2" stroke="#c64aa6" stroke-width="0.9" opacity="0.8"/><path d="M63.4 666.6L75.9 655.1" stroke="#2d3f8e" stroke-width="0.9" opacity="0.8"/><path d="M54.0 658.0L66.5 669.5" stroke="#d060b0" stroke-width="0.8"/><path d="M69.6 649.4L82.1 637.9" stroke="#d0843e" stroke-width="0.9" opacity="0.8"/><path d="M72.8 652.2L85.2 640.8" stroke="#3f8fc8" stroke-width="0.9" opacity="0.8"/><path d="M75.9 655.1L88.4 643.6" stroke="#2d3f8e" stroke-width="0.9" opacity="0.8"/><path d="M66.5 646.5L79.0 658.0" stroke="#d060b0" stroke-width="0.8"/><path d="M82.1 637.9L94.6 626.4" stroke="#c64aa6" stroke-width="0.9" opacity="0.8"/><path d="M85.2 640.8L97.8 629.2" stroke="#2d3f8e" stroke-width="0.9" opacity="0.8"/><path d="M88.4 643.6L100.9 632.1" stroke="#d0843e" stroke-width="0.9" opacity="0.8"/><path d="M79.0 635.0L91.5 646.5" stroke="#d060b0" stroke-width="0.8"/><path d="M91.5 623.5L104.0 635.0" stroke="#d060b0" stroke-width="0.8"/><path d="M44.6 695.4L57.1 683.9" stroke="#2d3f8e" stroke-width="0.9" opacity="0.8"/><path d="M47.8 698.2L60.2 686.8" stroke="#d0843e" stroke-width="0.9" opacity="0.8"/><path d="M50.9 701.1L63.4 689.6" stroke="#3f8fc8" stroke-width="0.9" opacity="0.8"/><path d="M41.5 692.5L54.0 704.0" stroke="#d060b0" stroke-width="0.8"/><path d="M57.1 683.9L69.6 672.4" stroke="#2d3f8e" stroke-width="0.9" opacity="0.8"/><path d="M60.2 686.8L72.8 675.2" stroke="#c64aa6" stroke-width="0.9" opacity="0.8"/><path d="M63.4 689.6L75.9 678.1" stroke="#2d3f8e" stroke-width="0.9" opacity="0.8"/><path d="M54.0 681.0L66.5 692.5" stroke="#d060b0" stroke-width="0.8"/><path d="M69.6 672.4L82.1 660.9" stroke="#d0843e" stroke-width="0.9" opacity="0.8"/><path d="M72.8 675.2L85.2 663.8" stroke="#3f8fc8" stroke-width="0.9" opacity="0.8"/><path d="M75.9 678.1L88.4 666.6" stroke="#2d3f8e" stroke-width="0.9" opacity="0.8"/><path d="M66.5 669.5L79.0 681.0" stroke="#d060b0" stroke-width="0.8"/><path d="M82.1 660.9L94.6 649.4" stroke="#c64aa6" stroke-width="0.9" opacity="0.8"/><path d="M85.2 663.8L97.8 652.2" stroke="#2d3f8e" stroke-width="0.9" opacity="0.8"/><path d="M88.4 666.6L100.9 655.1" stroke="#d0843e" stroke-width="0.9" opacity="0.8"/><path d="M79.0 658.0L91.5 669.5" stroke="#d060b0" stroke-width="0.8"/><path d="M94.6 649.4L107.1 637.9" stroke="#3f8fc8" stroke-width="0.9" opacity="0.8"/><path d="M97.8 652.2L110.2 640.8" stroke="#2d3f8e" stroke-width="0.9" opacity="0.8"/><path d="M100.9 655.1L113.4 643.6" stroke="#c64aa6" stroke-width="0.9" opacity="0.8"/><path d="M91.5 646.5L104.0 658.0" stroke="#d060b0" stroke-width="0.8"/><path d="M107.1 637.9L119.6 626.4" stroke="#2d3f8e" stroke-width="0.9" opacity="0.8"/><path d="M110.2 640.8L122.8 629.2" stroke="#d0843e" stroke-width="0.9" opacity="0.8"/><path d="M113.4 643.6L125.9 632.1" stroke="#3f8fc8" stroke-width="0.9" opacity="0.8"/><path d="M104.0 635.0L116.5 646.5" stroke="#d060b0" stroke-width="0.8"/><path d="M116.5 623.5L129.0 635.0" stroke="#d060b0" stroke-width="0.8"/><path d="M44.6 718.4L57.1 706.9" stroke="#2d3f8e" stroke-width="0.9" opacity="0.8"/><path d="M47.8 721.2L60.2 709.8" stroke="#d0843e" stroke-width="0.9" opacity="0.8"/><path d="M50.9 724.1L63.4 712.6" stroke="#3f8fc8" stroke-width="0.9" opacity="0.8"/><path d="M41.5 715.5L54.0 727.0" stroke="#d060b0" stroke-width="0.8"/><path d="M57.1 706.9L69.6 695.4" stroke="#2d3f8e" stroke-width="0.9" opacity="0.8"/><path d="M60.2 709.8L72.8 698.2" stroke="#c64aa6" stroke-width="0.9" opacity="0.8"/><path d="M63.4 712.6L75.9 701.1" stroke="#2d3f8e" stroke-width="0.9" opacity="0.8"/><path d="M54.0 704.0L66.5 715.5" stroke="#d060b0" stroke-width="0.8"/><path d="M69.6 695.4L82.1 683.9" stroke="#d0843e" stroke-width="0.9" opacity="0.8"/><path d="M72.8 698.2L85.2 686.8" stroke="#3f8fc8" stroke-width="0.9" opacity="0.8"/><path d="M75.9 701.1L88.4 689.6" stroke="#2d3f8e" stroke-width="0.9" opacity="0.8"/><path d="M66.5 692.5L79.0 704.0" stroke="#d060b0" stroke-width="0.8"/><path d="M82.1 683.9L94.6 672.4" stroke="#c64aa6" stroke-width="0.9" opacity="0.8"/><path d="M85.2 686.8L97.8 675.2" stroke="#2d3f8e" stroke-width="0.9" opacity="0.8"/><path d="M88.4 689.6L100.9 678.1" stroke="#d0843e" stroke-width="0.9" opacity="0.8"/><path d="M79.0 681.0L91.5 692.5" stroke="#d060b0" stroke-width="0.8"/><path d="M94.6 672.4L107.1 660.9" stroke="#3f8fc8" stroke-width="0.9" opacity="0.8"/><path d="M97.8 675.2L110.2 663.8" stroke="#2d3f8e" stroke-width="0.9" opacity="0.8"/><path d="M100.9 678.1L113.4 666.6" stroke="#c64aa6" stroke-width="0.9" opacity="0.8"/><path d="M91.5 669.5L104.0 681.0" stroke="#d060b0" stroke-width="0.8"/><path d="M107.1 660.9L119.6 649.4" stroke="#2d3f8e" stroke-width="0.9" opacity="0.8"/><path d="M110.2 663.8L122.8 652.2" stroke="#d0843e" stroke-width="0.9" opacity="0.8"/><path d="M113.4 666.6L125.9 655.1" stroke="#3f8fc8" stroke-width="0.9" opacity="0.8"/><path d="M104.0 658.0L116.5 669.5" stroke="#d060b0" stroke-width="0.8"/><path d="M119.6 649.4L132.1 637.9" stroke="#2d3f8e" stroke-width="0.9" opacity="0.8"/><path d="M122.8 652.2L135.2 640.8" stroke="#c64aa6" stroke-width="0.9" opacity="0.8"/><path d="M125.9 655.1L138.4 643.6" stroke="#2d3f8e" stroke-width="0.9" opacity="0.8"/><path d="M116.5 646.5L129.0 658.0" stroke="#d060b0" stroke-width="0.8"/><path d="M132.1 637.9L144.6 626.4" stroke="#d0843e" stroke-width="0.9" opacity="0.8"/><path d="M135.2 640.8L147.8 629.2" stroke="#3f8fc8" stroke-width="0.9" opacity="0.8"/><path d="M138.4 643.6L150.9 632.1" stroke="#2d3f8e" stroke-width="0.9" opacity="0.8"/><path d="M129.0 635.0L141.5 646.5" stroke="#d060b0" stroke-width="0.8"/><path d="M141.5 623.5L154.0 635.0" stroke="#d060b0" stroke-width="0.8"/><path d="M44.6 741.4L57.1 729.9" stroke="#2d3f8e" stroke-width="0.9" opacity="0.8"/><path d="M47.8 744.2L60.2 732.8" stroke="#d0843e" stroke-width="0.9" opacity="0.8"/><path d="M50.9 747.1L63.4 735.6" stroke="#3f8fc8" stroke-width="0.9" opacity="0.8"/><path d="M41.5 738.5L54.0 750.0" stroke="#d060b0" stroke-width="0.8"/><path d="M57.1 729.9L69.6 718.4" stroke="#2d3f8e" stroke-width="0.9" opacity="0.8"/><path d="M60.2 732.8L72.8 721.2" stroke="#c64aa6" stroke-width="0.9" opacity="0.8"/><path d="M63.4 735.6L75.9 724.1" stroke="#2d3f8e" stroke-width="0.9" opacity="0.8"/><path d="M54.0 727.0L66.5 738.5" stroke="#d060b0" stroke-width="0.8"/><path d="M69.6 718.4L82.1 706.9" stroke="#d0843e" stroke-width="0.9" opacity="0.8"/><path d="M72.8 721.2L85.2 709.8" stroke="#3f8fc8" stroke-width="0.9" opacity="0.8"/><path d="M75.9 724.1L88.4 712.6" stroke="#2d3f8e" stroke-width="0.9" opacity="0.8"/><path d="M66.5 715.5L79.0 727.0" stroke="#d060b0" stroke-width="0.8"/><path d="M82.1 706.9L94.6 695.4" stroke="#c64aa6" stroke-width="0.9" opacity="0.8"/><path d="M85.2 709.8L97.8 698.2" stroke="#2d3f8e" stroke-width="0.9" opacity="0.8"/><path d="M88.4 712.6L100.9 701.1" stroke="#d0843e" stroke-width="0.9" opacity="0.8"/><path d="M79.0 704.0L91.5 715.5" stroke="#d060b0" stroke-width="0.8"/><path d="M94.6 695.4L107.1 683.9" stroke="#3f8fc8" stroke-width="0.9" opacity="0.8"/><path d="M97.8 698.2L110.2 686.8" stroke="#2d3f8e" stroke-width="0.9" opacity="0.8"/><path d="M100.9 701.1L113.4 689.6" stroke="#c64aa6" stroke-width="0.9" opacity="0.8"/><path d="M91.5 692.5L104.0 704.0" stroke="#d060b0" stroke-width="0.8"/><path d="M107.1 683.9L119.6 672.4" stroke="#2d3f8e" stroke-width="0.9" opacity="0.8"/><path d="M110.2 686.8L122.8 675.2" stroke="#d0843e" stroke-width="0.9" opacity="0.8"/><path d="M113.4 689.6L125.9 678.1" stroke="#3f8fc8" stroke-width="0.9" opacity="0.8"/><path d="M104.0 681.0L116.5 692.5" stroke="#d060b0" stroke-width="0.8"/><path d="M119.6 672.4L132.1 660.9" stroke="#2d3f8e" stroke-width="0.9" opacity="0.8"/><path d="M122.8 675.2L135.2 663.8" stroke="#c64aa6" stroke-width="0.9" opacity="0.8"/><path d="M125.9 678.1L138.4 666.6" stroke="#2d3f8e" stroke-width="0.9" opacity="0.8"/><path d="M116.5 669.5L129.0 681.0" stroke="#d060b0" stroke-width="0.8"/><path d="M132.1 660.9L144.6 649.4" stroke="#d0843e" stroke-width="0.9" opacity="0.8"/><path d="M135.2 663.8L147.8 652.2" stroke="#3f8fc8" stroke-width="0.9" opacity="0.8"/><path d="M138.4 666.6L150.9 655.1" stroke="#2d3f8e" stroke-width="0.9" opacity="0.8"/><path d="M129.0 658.0L141.5 669.5" stroke="#d060b0" stroke-width="0.8"/><path d="M144.6 649.4L157.1 637.9" stroke="#c64aa6" stroke-width="0.9" opacity="0.8"/><path d="M147.8 652.2L160.2 640.8" stroke="#2d3f8e" stroke-width="0.9" opacity="0.8"/><path d="M150.9 655.1L163.4 643.6" stroke="#d0843e" stroke-width="0.9" opacity="0.8"/><path d="M141.5 646.5L154.0 658.0" stroke="#d060b0" stroke-width="0.8"/><path d="M157.1 637.9L169.6 626.4" stroke="#3f8fc8" stroke-width="0.9" opacity="0.8"/><path d="M160.2 640.8L172.8 629.2" stroke="#2d3f8e" stroke-width="0.9" opacity="0.8"/><path d="M163.4 643.6L175.9 632.1" stroke="#c64aa6" stroke-width="0.9" opacity="0.8"/><path d="M154.0 635.0L166.5 646.5" stroke="#d060b0" stroke-width="0.8"/><path d="M166.5 623.5L179.0 635.0" stroke="#d060b0" stroke-width="0.8"/><path d="M69.6 741.4L82.1 729.9" stroke="#d0843e" stroke-width="0.9" opacity="0.8"/><path d="M72.8 744.2L85.2 732.8" stroke="#3f8fc8" stroke-width="0.9" opacity="0.8"/><path d="M75.9 747.1L88.4 735.6" stroke="#2d3f8e" stroke-width="0.9" opacity="0.8"/><path d="M66.5 738.5L79.0 750.0" stroke="#d060b0" stroke-width="0.8"/><path d="M82.1 729.9L94.6 718.4" stroke="#c64aa6" stroke-width="0.9" opacity="0.8"/><path d="M85.2 732.8L97.8 721.2" stroke="#2d3f8e" stroke-width="0.9" opacity="0.8"/><path d="M88.4 735.6L100.9 724.1" stroke="#d0843e" stroke-width="0.9" opacity="0.8"/><path d="M79.0 727.0L91.5 738.5" stroke="#d060b0" stroke-width="0.8"/><path d="M94.6 718.4L107.1 706.9" stroke="#3f8fc8" stroke-width="0.9" opacity="0.8"/><path d="M97.8 721.2L110.2 709.8" stroke="#2d3f8e" stroke-width="0.9" opacity="0.8"/><path d="M100.9 724.1L113.4 712.6" stroke="#c64aa6" stroke-width="0.9" opacity="0.8"/><path d="M91.5 715.5L104.0 727.0" stroke="#d060b0" stroke-width="0.8"/><path d="M107.1 706.9L119.6 695.4" stroke="#2d3f8e" stroke-width="0.9" opacity="0.8"/><path d="M110.2 709.8L122.8 698.2" stroke="#d0843e" stroke-width="0.9" opacity="0.8"/><path d="M113.4 712.6L125.9 701.1" stroke="#3f8fc8" stroke-width="0.9" opacity="0.8"/><path d="M104.0 704.0L116.5 715.5" stroke="#d060b0" stroke-width="0.8"/><path d="M119.6 695.4L132.1 683.9" stroke="#2d3f8e" stroke-width="0.9" opacity="0.8"/><path d="M122.8 698.2L135.2 686.8" stroke="#c64aa6" stroke-width="0.9" opacity="0.8"/><path d="M125.9 701.1L138.4 689.6" stroke="#2d3f8e" stroke-width="0.9" opacity="0.8"/><path d="M116.5 692.5L129.0 704.0" stroke="#d060b0" stroke-width="0.8"/><path d="M132.1 683.9L144.6 672.4" stroke="#d0843e" stroke-width="0.9" opacity="0.8"/><path d="M135.2 686.8L147.8 675.2" stroke="#3f8fc8" stroke-width="0.9" opacity="0.8"/><path d="M138.4 689.6L150.9 678.1" stroke="#2d3f8e" stroke-width="0.9" opacity="0.8"/><path d="M129.0 681.0L141.5 692.5" stroke="#d060b0" stroke-width="0.8"/><path d="M144.6 672.4L157.1 660.9" stroke="#c64aa6" stroke-width="0.9" opacity="0.8"/><path d="M147.8 675.2L160.2 663.8" stroke="#2d3f8e" stroke-width="0.9" opacity="0.8"/><path d="M150.9 678.1L163.4 666.6" stroke="#d0843e" stroke-width="0.9" opacity="0.8"/><path d="M141.5 669.5L154.0 681.0" stroke="#d060b0" stroke-width="0.8"/><path d="M157.1 660.9L169.6 649.4" stroke="#3f8fc8" stroke-width="0.9" opacity="0.8"/><path d="M160.2 663.8L172.8 652.2" stroke="#2d3f8e" stroke-width="0.9" opacity="0.8"/><path d="M163.4 666.6L175.9 655.1" stroke="#c64aa6" stroke-width="0.9" opacity="0.8"/><path d="M154.0 658.0L166.5 669.5" stroke="#d060b0" stroke-width="0.8"/><path d="M169.6 649.4L182.1 637.9" stroke="#2d3f8e" stroke-width="0.9" opacity="0.8"/><path d="M172.8 652.2L185.2 640.8" stroke="#d0843e" stroke-width="0.9" opacity="0.8"/><path d="M175.9 655.1L188.4 643.6" stroke="#3f8fc8" stroke-width="0.9" opacity="0.8"/><path d="M166.5 646.5L179.0 658.0" stroke="#d060b0" stroke-width="0.8"/><path d="M182.1 637.9L194.6 626.4" stroke="#2d3f8e" stroke-width="0.9" opacity="0.8"/><path d="M185.2 640.8L197.8 629.2" stroke="#c64aa6" stroke-width="0.9" opacity="0.8"/><path d="M188.4 643.6L200.9 632.1" stroke="#2d3f8e" stroke-width="0.9" opacity="0.8"/><path d="M179.0 635.0L191.5 646.5" stroke="#d060b0" stroke-width="0.8"/><path d="M191.5 623.5L204.0 635.0" stroke="#d060b0" stroke-width="0.8"/><path d="M94.6 741.4L107.1 729.9" stroke="#3f8fc8" stroke-width="0.9" opacity="0.8"/><path d="M97.8 744.2L110.2 732.8" stroke="#2d3f8e" stroke-width="0.9" opacity="0.8"/><path d="M100.9 747.1L113.4 735.6" stroke="#c64aa6" stroke-width="0.9" opacity="0.8"/><path d="M91.5 738.5L104.0 750.0" stroke="#d060b0" stroke-width="0.8"/><path d="M107.1 729.9L119.6 718.4" stroke="#2d3f8e" stroke-width="0.9" opacity="0.8"/><path d="M110.2 732.8L122.8 721.2" stroke="#d0843e" stroke-width="0.9" opacity="0.8"/><path d="M113.4 735.6L125.9 724.1" stroke="#3f8fc8" stroke-width="0.9" opacity="0.8"/><path d="M104.0 727.0L116.5 738.5" stroke="#d060b0" stroke-width="0.8"/><path d="M119.6 718.4L132.1 706.9" stroke="#2d3f8e" stroke-width="0.9" opacity="0.8"/><path d="M122.8 721.2L135.2 709.8" stroke="#c64aa6" stroke-width="0.9" opacity="0.8"/><path d="M125.9 724.1L138.4 712.6" stroke="#2d3f8e" stroke-width="0.9" opacity="0.8"/><path d="M116.5 715.5L129.0 727.0" stroke="#d060b0" stroke-width="0.8"/><path d="M132.1 706.9L144.6 695.4" stroke="#d0843e" stroke-width="0.9" opacity="0.8"/><path d="M135.2 709.8L147.8 698.2" stroke="#3f8fc8" stroke-width="0.9" opacity="0.8"/><path d="M138.4 712.6L150.9 701.1" stroke="#2d3f8e" stroke-width="0.9" opacity="0.8"/><path d="M129.0 704.0L141.5 715.5" stroke="#d060b0" stroke-width="0.8"/><path d="M144.6 695.4L157.1 683.9" stroke="#c64aa6" stroke-width="0.9" opacity="0.8"/><path d="M147.8 698.2L160.2 686.8" stroke="#2d3f8e" stroke-width="0.9" opacity="0.8"/><path d="M150.9 701.1L163.4 689.6" stroke="#d0843e" stroke-width="0.9" opacity="0.8"/><path d="M141.5 692.5L154.0 704.0" stroke="#d060b0" stroke-width="0.8"/><path d="M157.1 683.9L169.6 672.4" stroke="#3f8fc8" stroke-width="0.9" opacity="0.8"/><path d="M160.2 686.8L172.8 675.2" stroke="#2d3f8e" stroke-width="0.9" opacity="0.8"/><path d="M163.4 689.6L175.9 678.1" stroke="#c64aa6" stroke-width="0.9" opacity="0.8"/><path d="M154.0 681.0L166.5 692.5" stroke="#d060b0" stroke-width="0.8"/><path d="M169.6 672.4L182.1 660.9" stroke="#2d3f8e" stroke-width="0.9" opacity="0.8"/><path d="M172.8 675.2L185.2 663.8" stroke="#d0843e" stroke-width="0.9" opacity="0.8"/><path d="M175.9 678.1L188.4 666.6" stroke="#3f8fc8" stroke-width="0.9" opacity="0.8"/><path d="M166.5 669.5L179.0 681.0" stroke="#d060b0" stroke-width="0.8"/><path d="M182.1 660.9L194.6 649.4" stroke="#2d3f8e" stroke-width="0.9" opacity="0.8"/><path d="M185.2 663.8L197.8 652.2" stroke="#c64aa6" stroke-width="0.9" opacity="0.8"/><path d="M188.4 666.6L200.9 655.1" stroke="#2d3f8e" stroke-width="0.9" opacity="0.8"/><path d="M179.0 658.0L191.5 669.5" stroke="#d060b0" stroke-width="0.8"/><path d="M194.6 649.4L207.1 637.9" stroke="#d0843e" stroke-width="0.9" opacity="0.8"/><path d="M197.8 652.2L210.2 640.8" stroke="#3f8fc8" stroke-width="0.9" opacity="0.8"/><path d="M200.9 655.1L213.4 643.6" stroke="#2d3f8e" stroke-width="0.9" opacity="0.8"/><path d="M191.5 646.5L204.0 658.0" stroke="#d060b0" stroke-width="0.8"/><path d="M207.1 637.9L219.6 626.4" stroke="#c64aa6" stroke-width="0.9" opacity="0.8"/><path d="M210.2 640.8L222.8 629.2" stroke="#2d3f8e" stroke-width="0.9" opacity="0.8"/><path d="M213.4 643.6L225.9 632.1" stroke="#d0843e" stroke-width="0.9" opacity="0.8"/><path d="M204.0 635.0L216.5 646.5" stroke="#d060b0" stroke-width="0.8"/><path d="M216.5 623.5L229.0 635.0" stroke="#d060b0" stroke-width="0.8"/><path d="M119.6 741.4L132.1 729.9" stroke="#2d3f8e" stroke-width="0.9" opacity="0.8"/><path d="M122.8 744.2L135.2 732.8" stroke="#c64aa6" stroke-width="0.9" opacity="0.8"/><path d="M125.9 747.1L138.4 735.6" stroke="#2d3f8e" stroke-width="0.9" opacity="0.8"/><path d="M116.5 738.5L129.0 750.0" stroke="#d060b0" stroke-width="0.8"/><path d="M132.1 729.9L144.6 718.4" stroke="#d0843e" stroke-width="0.9" opacity="0.8"/><path d="M135.2 732.8L147.8 721.2" stroke="#3f8fc8" stroke-width="0.9" opacity="0.8"/><path d="M138.4 735.6L150.9 724.1" stroke="#2d3f8e" stroke-width="0.9" opacity="0.8"/><path d="M129.0 727.0L141.5 738.5" stroke="#d060b0" stroke-width="0.8"/><path d="M144.6 718.4L157.1 706.9" stroke="#c64aa6" stroke-width="0.9" opacity="0.8"/><path d="M147.8 721.2L160.2 709.8" stroke="#2d3f8e" stroke-width="0.9" opacity="0.8"/><path d="M150.9 724.1L163.4 712.6" stroke="#d0843e" stroke-width="0.9" opacity="0.8"/><path d="M141.5 715.5L154.0 727.0" stroke="#d060b0" stroke-width="0.8"/><path d="M157.1 706.9L169.6 695.4" stroke="#3f8fc8" stroke-width="0.9" opacity="0.8"/><path d="M160.2 709.8L172.8 698.2" stroke="#2d3f8e" stroke-width="0.9" opacity="0.8"/><path d="M163.4 712.6L175.9 701.1" stroke="#c64aa6" stroke-width="0.9" opacity="0.8"/><path d="M154.0 704.0L166.5 715.5" stroke="#d060b0" stroke-width="0.8"/><path d="M169.6 695.4L182.1 683.9" stroke="#2d3f8e" stroke-width="0.9" opacity="0.8"/><path d="M172.8 698.2L185.2 686.8" stroke="#d0843e" stroke-width="0.9" opacity="0.8"/><path d="M175.9 701.1L188.4 689.6" stroke="#3f8fc8" stroke-width="0.9" opacity="0.8"/><path d="M166.5 692.5L179.0 704.0" stroke="#d060b0" stroke-width="0.8"/><path d="M182.1 683.9L194.6 672.4" stroke="#2d3f8e" stroke-width="0.9" opacity="0.8"/><path d="M185.2 686.8L197.8 675.2" stroke="#c64aa6" stroke-width="0.9" opacity="0.8"/><path d="M188.4 689.6L200.9 678.1" stroke="#2d3f8e" stroke-width="0.9" opacity="0.8"/><path d="M179.0 681.0L191.5 692.5" stroke="#d060b0" stroke-width="0.8"/><path d="M194.6 672.4L207.1 660.9" stroke="#d0843e" stroke-width="0.9" opacity="0.8"/><path d="M197.8 675.2L210.2 663.8" stroke="#3f8fc8" stroke-width="0.9" opacity="0.8"/><path d="M200.9 678.1L213.4 666.6" stroke="#2d3f8e" stroke-width="0.9" opacity="0.8"/><path d="M191.5 669.5L204.0 681.0" stroke="#d060b0" stroke-width="0.8"/><path d="M207.1 660.9L219.6 649.4" stroke="#c64aa6" stroke-width="0.9" opacity="0.8"/><path d="M210.2 663.8L222.8 652.2" stroke="#2d3f8e" stroke-width="0.9" opacity="0.8"/><path d="M213.4 666.6L225.9 655.1" stroke="#d0843e" stroke-width="0.9" opacity="0.8"/><path d="M204.0 658.0L216.5 669.5" stroke="#d060b0" stroke-width="0.8"/><path d="M219.6 649.4L232.1 637.9" stroke="#3f8fc8" stroke-width="0.9" opacity="0.8"/><path d="M222.8 652.2L235.2 640.8" stroke="#2d3f8e" stroke-width="0.9" opacity="0.8"/><path d="M225.9 655.1L238.4 643.6" stroke="#c64aa6" stroke-width="0.9" opacity="0.8"/><path d="M216.5 646.5L229.0 658.0" stroke="#d060b0" stroke-width="0.8"/><path d="M144.6 741.4L157.1 729.9" stroke="#c64aa6" stroke-width="0.9" opacity="0.8"/><path d="M147.8 744.2L160.2 732.8" stroke="#2d3f8e" stroke-width="0.9" opacity="0.8"/><path d="M150.9 747.1L163.4 735.6" stroke="#d0843e" stroke-width="0.9" opacity="0.8"/><path d="M141.5 738.5L154.0 750.0" stroke="#d060b0" stroke-width="0.8"/><path d="M157.1 729.9L169.6 718.4" stroke="#3f8fc8" stroke-width="0.9" opacity="0.8"/><path d="M160.2 732.8L172.8 721.2" stroke="#2d3f8e" stroke-width="0.9" opacity="0.8"/><path d="M163.4 735.6L175.9 724.1" stroke="#c64aa6" stroke-width="0.9" opacity="0.8"/><path d="M154.0 727.0L166.5 738.5" stroke="#d060b0" stroke-width="0.8"/><path d="M169.6 718.4L182.1 706.9" stroke="#2d3f8e" stroke-width="0.9" opacity="0.8"/><path d="M172.8 721.2L185.2 709.8" stroke="#d0843e" stroke-width="0.9" opacity="0.8"/><path d="M175.9 724.1L188.4 712.6" stroke="#3f8fc8" stroke-width="0.9" opacity="0.8"/><path d="M166.5 715.5L179.0 727.0" stroke="#d060b0" stroke-width="0.8"/><path d="M182.1 706.9L194.6 695.4" stroke="#2d3f8e" stroke-width="0.9" opacity="0.8"/><path d="M185.2 709.8L197.8 698.2" stroke="#c64aa6" stroke-width="0.9" opacity="0.8"/><path d="M188.4 712.6L200.9 701.1" stroke="#2d3f8e" stroke-width="0.9" opacity="0.8"/><path d="M179.0 704.0L191.5 715.5" stroke="#d060b0" stroke-width="0.8"/><path d="M194.6 695.4L207.1 683.9" stroke="#d0843e" stroke-width="0.9" opacity="0.8"/><path d="M197.8 698.2L210.2 686.8" stroke="#3f8fc8" stroke-width="0.9" opacity="0.8"/><path d="M200.9 701.1L213.4 689.6" stroke="#2d3f8e" stroke-width="0.9" opacity="0.8"/><path d="M191.5 692.5L204.0 704.0" stroke="#d060b0" stroke-width="0.8"/><path d="M207.1 683.9L219.6 672.4" stroke="#c64aa6" stroke-width="0.9" opacity="0.8"/><path d="M210.2 686.8L222.8 675.2" stroke="#2d3f8e" stroke-width="0.9" opacity="0.8"/><path d="M213.4 689.6L225.9 678.1" stroke="#d0843e" stroke-width="0.9" opacity="0.8"/><path d="M204.0 681.0L216.5 692.5" stroke="#d060b0" stroke-width="0.8"/><path d="M219.6 672.4L232.1 660.9" stroke="#3f8fc8" stroke-width="0.9" opacity="0.8"/><path d="M222.8 675.2L235.2 663.8" stroke="#2d3f8e" stroke-width="0.9" opacity="0.8"/><path d="M225.9 678.1L238.4 666.6" stroke="#c64aa6" stroke-width="0.9" opacity="0.8"/><path d="M216.5 669.5L229.0 681.0" stroke="#d060b0" stroke-width="0.8"/><path d="M169.6 741.4L182.1 729.9" stroke="#2d3f8e" stroke-width="0.9" opacity="0.8"/><path d="M172.8 744.2L185.2 732.8" stroke="#d0843e" stroke-width="0.9" opacity="0.8"/><path d="M175.9 747.1L188.4 735.6" stroke="#3f8fc8" stroke-width="0.9" opacity="0.8"/><path d="M166.5 738.5L179.0 750.0" stroke="#d060b0" stroke-width="0.8"/><path d="M182.1 729.9L194.6 718.4" stroke="#2d3f8e" stroke-width="0.9" opacity="0.8"/><path d="M185.2 732.8L197.8 721.2" stroke="#c64aa6" stroke-width="0.9" opacity="0.8"/><path d="M188.4 735.6L200.9 724.1" stroke="#2d3f8e" stroke-width="0.9" opacity="0.8"/><path d="M179.0 727.0L191.5 738.5" stroke="#d060b0" stroke-width="0.8"/><path d="M194.6 718.4L207.1 706.9" stroke="#d0843e" stroke-width="0.9" opacity="0.8"/><path d="M197.8 721.2L210.2 709.8" stroke="#3f8fc8" stroke-width="0.9" opacity="0.8"/><path d="M200.9 724.1L213.4 712.6" stroke="#2d3f8e" stroke-width="0.9" opacity="0.8"/><path d="M191.5 715.5L204.0 727.0" stroke="#d060b0" stroke-width="0.8"/><path d="M207.1 706.9L219.6 695.4" stroke="#c64aa6" stroke-width="0.9" opacity="0.8"/><path d="M210.2 709.8L222.8 698.2" stroke="#2d3f8e" stroke-width="0.9" opacity="0.8"/><path d="M213.4 712.6L225.9 701.1" stroke="#d0843e" stroke-width="0.9" opacity="0.8"/><path d="M204.0 704.0L216.5 715.5" stroke="#d060b0" stroke-width="0.8"/><path d="M219.6 695.4L232.1 683.9" stroke="#3f8fc8" stroke-width="0.9" opacity="0.8"/><path d="M222.8 698.2L235.2 686.8" stroke="#2d3f8e" stroke-width="0.9" opacity="0.8"/><path d="M225.9 701.1L238.4 689.6" stroke="#c64aa6" stroke-width="0.9" opacity="0.8"/><path d="M216.5 692.5L229.0 704.0" stroke="#d060b0" stroke-width="0.8"/><path d="M194.6 741.4L207.1 729.9" stroke="#d0843e" stroke-width="0.9" opacity="0.8"/><path d="M197.8 744.2L210.2 732.8" stroke="#3f8fc8" stroke-width="0.9" opacity="0.8"/><path d="M200.9 747.1L213.4 735.6" stroke="#2d3f8e" stroke-width="0.9" opacity="0.8"/><path d="M191.5 738.5L204.0 750.0" stroke="#d060b0" stroke-width="0.8"/><path d="M207.1 729.9L219.6 718.4" stroke="#c64aa6" stroke-width="0.9" opacity="0.8"/><path d="M210.2 732.8L222.8 721.2" stroke="#2d3f8e" stroke-width="0.9" opacity="0.8"/><path d="M213.4 735.6L225.9 724.1" stroke="#d0843e" stroke-width="0.9" opacity="0.8"/><path d="M204.0 727.0L216.5 738.5" stroke="#d060b0" stroke-width="0.8"/><path d="M219.6 718.4L232.1 706.9" stroke="#3f8fc8" stroke-width="0.9" opacity="0.8"/><path d="M222.8 721.2L235.2 709.8" stroke="#2d3f8e" stroke-width="0.9" opacity="0.8"/><path d="M225.9 724.1L238.4 712.6" stroke="#c64aa6" stroke-width="0.9" opacity="0.8"/><path d="M216.5 715.5L229.0 727.0" stroke="#d060b0" stroke-width="0.8"/><ellipse cx="197.4" cy="708.5" rx="1.3" ry="1.1" fill="#5adcdc" opacity="0.9"/><ellipse cx="179.3" cy="698.3" rx="2.0" ry="1.3" fill="#5adcdc" opacity="0.9"/><ellipse cx="144.9" cy="692.1" rx="1.9" ry="1.2" fill="#5adcdc" opacity="0.9"/><ellipse cx="118.6" cy="681.9" rx="2.1" ry="2.0" fill="#5adcdc" opacity="0.9"/><ellipse cx="196.4" cy="689.1" rx="1.7" ry="1.3" fill="#5adcdc" opacity="0.9"/><ellipse cx="59.4" cy="664.3" rx="1.8" ry="1.3" fill="#5adcdc" opacity="0.9"/><ellipse cx="111.0" cy="705.8" rx="1.8" ry="1.6" fill="#5adcdc" opacity="0.9"/><ellipse cx="89.4" cy="664.1" rx="1.6" ry="1.1" fill="#5adcdc" opacity="0.9"/><ellipse cx="130.5" cy="710.9" rx="2.0" ry="1.2" fill="#5adcdc" opacity="0.9"/><ellipse cx="188.0" cy="701.2" rx="2.1" ry="1.9" fill="#5adcdc" opacity="0.9"/><ellipse cx="168.4" cy="700.9" rx="1.6" ry="2.0" fill="#5adcdc" opacity="0.9"/><ellipse cx="198.3" cy="670.7" rx="2.1" ry="1.7" fill="#5adcdc" opacity="0.9"/><ellipse cx="123.2" cy="688.5" rx="1.8" ry="1.9" fill="#5adcdc" opacity="0.9"/><ellipse cx="129.1" cy="702.9" rx="1.6" ry="1.9" fill="#5adcdc" opacity="0.9"/><ellipse cx="189.0" cy="685.1" rx="1.9" ry="1.9" fill="#5adcdc" opacity="0.9"/><ellipse cx="162.6" cy="686.4" rx="1.5" ry="1.3" fill="#5adcdc" opacity="0.9"/><ellipse cx="158.9" cy="671.0" rx="2.3" ry="1.3" fill="#5adcdc" opacity="0.9"/><ellipse cx="190.7" cy="677.9" rx="2.3" ry="1.7" fill="#5adcdc" opacity="0.9"/><ellipse cx="129.6" cy="687.9" rx="2.0" ry="1.6" fill="#5adcdc" opacity="0.9"/><ellipse cx="100.8" cy="673.0" rx="1.8" ry="1.9" fill="#5adcdc" opacity="0.9"/><ellipse cx="147.5" cy="666.6" rx="2.2" ry="1.7" fill="#5adcdc" opacity="0.9"/><ellipse cx="190.1" cy="672.2" rx="2.1" ry="1.1" fill="#5adcdc" opacity="0.9"/><ellipse cx="151.9" cy="676.1" rx="1.5" ry="1.9" fill="#5adcdc" opacity="0.9"/><ellipse cx="69.9" cy="688.1" rx="2.2" ry="1.2" fill="#5adcdc" opacity="0.9"/><ellipse cx="85.6" cy="705.3" rx="1.7" ry="1.7" fill="#5adcdc" opacity="0.9"/><ellipse cx="58.8" cy="680.4" rx="1.4" ry="1.7" fill="#5adcdc" opacity="0.9"/><ellipse cx="66.4" cy="705.3" rx="1.5" ry="2.1" fill="#c8ec58" opacity="0.85"/><ellipse cx="57.2" cy="678.7" rx="2.7" ry="1.4" fill="#c8ec58" opacity="0.85"/><ellipse cx="81.6" cy="695.3" rx="2.1" ry="1.3" fill="#c8ec58" opacity="0.85"/><ellipse cx="202.5" cy="674.8" rx="1.6" ry="1.6" fill="#c8ec58" opacity="0.85"/><ellipse cx="146.3" cy="697.2" rx="1.7" ry="1.6" fill="#c8ec58" opacity="0.85"/><ellipse cx="58.6" cy="686.0" rx="2.6" ry="2.2" fill="#c8ec58" opacity="0.85"/><ellipse cx="189.3" cy="697.7" rx="2.8" ry="2.1" fill="#c8ec58" opacity="0.85"/><ellipse cx="124.9" cy="677.6" rx="2.5" ry="1.6" fill="#c8ec58" opacity="0.85"/><ellipse cx="69.3" cy="686.0" rx="2.8" ry="1.4" fill="#c8ec58" opacity="0.85"/><ellipse cx="141.7" cy="683.9" rx="2.3" ry="1.4" fill="#c8ec58" opacity="0.85"/></g>
<circle cx="164.8" cy="667.6" r="5" fill="url(#gOr)"/>
<circle cx="148.1" cy="674.4" r="4.5" fill="url(#gOr)"/>
<circle cx="122.4" cy="682.6" r="5" fill="url(#gOr)"/>
<circle cx="123.6" cy="707" r="5" fill="url(#gOr)"/>
<circle cx="147" cy="702.4" r="4.5" fill="url(#gOr)"/>
<circle cx="162" cy="693" r="4.5" fill="url(#gOr)"/>
<circle cx="136" cy="690" r="4" fill="url(#gOr)"/>
<circle cx="82.7" cy="692" r="4" fill="url(#gDk)"/><circle cx="83.2" cy="692.4" r="2.0" fill="#f2f2f2" opacity="0.9"/>
<circle cx="67.5" cy="704.8" r="4" fill="url(#gDk)"/><circle cx="68.0" cy="705.1999999999999" r="2.0" fill="#f2f2f2" opacity="0.9"/>
<circle cx="197.2" cy="704.8" r="4" fill="url(#gDk)"/><circle cx="197.7" cy="705.1999999999999" r="2.0" fill="#f2f2f2" opacity="0.9"/>
<circle cx="171.5" cy="674.4" r="4" fill="url(#gDk)"/><circle cx="172.0" cy="674.8" r="2.0" fill="#f2f2f2" opacity="0.9"/>
<circle cx="166.8" cy="700" r="4" fill="url(#gDk)"/><circle cx="167.3" cy="700.4" r="2.0" fill="#f2f2f2" opacity="0.9"/>
<circle cx="66.4" cy="677.9" r="4" fill="url(#gDk)"/><circle cx="66.9" cy="678.3" r="2.0" fill="#f2f2f2" opacity="0.9"/>
<circle cx="80.6" cy="658.3" r="4.5" fill="url(#gDk)"/><circle cx="81.1" cy="658.6999999999999" r="2.2" fill="#f2f2f2" opacity="0.9"/>
<circle cx="74.8" cy="647.2" r="3.6" fill="url(#gDk)"/><circle cx="75.3" cy="647.6" r="1.8" fill="#f2f2f2" opacity="0.9"/>
<circle cx="134.4" cy="669.4" r="3.6" fill="url(#gDk)"/><circle cx="134.9" cy="669.8" r="1.8" fill="#f2f2f2" opacity="0.9"/>
<circle cx="54.0" cy="681.0" r="2.1" fill="#fff" stroke="#c8379f" stroke-width="1.2"/>
<circle cx="66.5" cy="669.5" r="2.1" fill="#fff" stroke="#c8379f" stroke-width="1.2"/>
<circle cx="66.5" cy="692.5" r="2.1" fill="#fff" stroke="#c8379f" stroke-width="1.2"/>
<circle cx="79.0" cy="681.0" r="2.1" fill="#fff" stroke="#c8379f" stroke-width="1.2"/>
<circle cx="91.5" cy="669.5" r="2.1" fill="#fff" stroke="#c8379f" stroke-width="1.2"/>
<circle cx="79.0" cy="704.0" r="2.1" fill="#fff" stroke="#c8379f" stroke-width="1.2"/>
<circle cx="91.5" cy="692.5" r="2.1" fill="#fff" stroke="#c8379f" stroke-width="1.2"/>
<circle cx="104.0" cy="681.0" r="2.1" fill="#fff" stroke="#c8379f" stroke-width="1.2"/>
<circle cx="116.5" cy="669.5" r="2.1" fill="#fff" stroke="#c8379f" stroke-width="1.2"/>
<circle cx="104.0" cy="704.0" r="2.1" fill="#fff" stroke="#c8379f" stroke-width="1.2"/>
<circle cx="116.5" cy="692.5" r="2.1" fill="#fff" stroke="#c8379f" stroke-width="1.2"/>
<circle cx="129.0" cy="681.0" r="2.1" fill="#fff" stroke="#c8379f" stroke-width="1.2"/>
<circle cx="141.5" cy="669.5" r="2.1" fill="#fff" stroke="#c8379f" stroke-width="1.2"/>
<circle cx="129.0" cy="704.0" r="2.1" fill="#fff" stroke="#c8379f" stroke-width="1.2"/>
<circle cx="141.5" cy="692.5" r="2.1" fill="#fff" stroke="#c8379f" stroke-width="1.2"/>
<circle cx="154.0" cy="681.0" r="2.1" fill="#fff" stroke="#c8379f" stroke-width="1.2"/>
<circle cx="166.5" cy="669.5" r="2.1" fill="#fff" stroke="#c8379f" stroke-width="1.2"/>
<circle cx="154.0" cy="704.0" r="2.1" fill="#fff" stroke="#c8379f" stroke-width="1.2"/>
<circle cx="166.5" cy="692.5" r="2.1" fill="#fff" stroke="#c8379f" stroke-width="1.2"/>
<circle cx="179.0" cy="681.0" r="2.1" fill="#fff" stroke="#c8379f" stroke-width="1.2"/>
<circle cx="191.5" cy="669.5" r="2.1" fill="#fff" stroke="#c8379f" stroke-width="1.2"/>
<circle cx="179.0" cy="704.0" r="2.1" fill="#fff" stroke="#c8379f" stroke-width="1.2"/>
<circle cx="191.5" cy="692.5" r="2.1" fill="#fff" stroke="#c8379f" stroke-width="1.2"/>
<circle cx="204.0" cy="681.0" r="2.1" fill="#fff" stroke="#c8379f" stroke-width="1.2"/>
<circle cx="204.0" cy="704.0" r="2.1" fill="#fff" stroke="#c8379f" stroke-width="1.2"/>
<ellipse cx="83.5" cy="657.5" rx="7.5" ry="8.5" fill="#e2ea34" opacity="0.95" stroke="#bccc2c" stroke-width="0.6"/>
<ellipse cx="82.0" cy="655.8" rx="4.1" ry="4.2" fill="#f2f68a" opacity="0.75"/>
<ellipse cx="109" cy="656" rx="8.5" ry="6.5" fill="#e2ea34" opacity="0.95" stroke="#bccc2c" stroke-width="0.6"/>
<ellipse cx="107.3" cy="654.7" rx="4.7" ry="3.2" fill="#f2f68a" opacity="0.75"/>
<ellipse cx="134.4" cy="654" rx="6.5" ry="10.5" fill="#e2ea34" opacity="0.95" stroke="#bccc2c" stroke-width="0.6"/>
<ellipse cx="133.1" cy="651.9" rx="3.6" ry="5.2" fill="#f2f68a" opacity="0.75"/>
<ellipse cx="146" cy="658" rx="5.5" ry="6" fill="#e2ea34" opacity="0.95" stroke="#bccc2c" stroke-width="0.6"/>
<ellipse cx="144.9" cy="656.8" rx="3.0" ry="3.0" fill="#f2f68a" opacity="0.75"/>
<ellipse cx="169.5" cy="654.5" rx="11" ry="8.5" fill="#e2ea34" opacity="0.95" stroke="#bccc2c" stroke-width="0.6"/>
<ellipse cx="167.3" cy="652.8" rx="6.1" ry="4.2" fill="#f2f68a" opacity="0.75"/>
<ellipse cx="191.6" cy="661.5" rx="11" ry="8.5" fill="#e2ea34" opacity="0.95" stroke="#bccc2c" stroke-width="0.6"/>
<ellipse cx="189.4" cy="659.8" rx="6.1" ry="4.2" fill="#f2f68a" opacity="0.75"/>
<ellipse cx="95" cy="667" rx="6" ry="4" fill="#e2ea34" opacity="0.95" stroke="#bccc2c" stroke-width="0.6"/>
<ellipse cx="93.8" cy="666.2" rx="3.3" ry="2.0" fill="#f2f68a" opacity="0.75"/>
<ellipse cx="75.7" cy="680" rx="5" ry="5" fill="#e2ea34" opacity="0.95" stroke="#bccc2c" stroke-width="0.6"/>
<ellipse cx="74.7" cy="679.0" rx="2.8" ry="2.5" fill="#f2f68a" opacity="0.75"/>
<ellipse cx="120" cy="666" rx="6" ry="4" fill="#e2ea34" opacity="0.95" stroke="#bccc2c" stroke-width="0.6"/>
<ellipse cx="118.8" cy="665.2" rx="3.3" ry="2.0" fill="#f2f68a" opacity="0.75"/>
<ellipse cx="188.1" cy="641.3" rx="6.1" ry="5.5" fill="#4fdede"/><ellipse cx="187.0" cy="639.6" rx="3.3" ry="2.5" fill="#8ef0ef" opacity="0.8"/>
<ellipse cx="196.9" cy="649.5" rx="6.1" ry="5.5" fill="#4fdede"/><ellipse cx="195.8" cy="647.9" rx="3.3" ry="2.5" fill="#8ef0ef" opacity="0.8"/>
<ellipse cx="163" cy="646" rx="3.3" ry="3" fill="#4fdede"/><ellipse cx="162.4" cy="645.1" rx="1.8" ry="1.4" fill="#8ef0ef" opacity="0.8"/>
<ellipse cx="81.2" cy="646.6" rx="3.3" ry="3" fill="#4fdede"/><ellipse cx="80.6" cy="645.7" rx="1.8" ry="1.4" fill="#8ef0ef" opacity="0.8"/>
<ellipse cx="69.5" cy="667" rx="3.9" ry="3.5" fill="#4fdede"/><ellipse cx="68.8" cy="666.0" rx="2.1" ry="1.6" fill="#8ef0ef" opacity="0.8"/>
<ellipse cx="75.4" cy="670.5" rx="3.3" ry="3" fill="#4fdede"/><ellipse cx="74.8" cy="669.6" rx="1.8" ry="1.4" fill="#8ef0ef" opacity="0.8"/>
<ellipse cx="102.2" cy="643.7" rx="1.7" ry="1.5" fill="#4fdede"/><ellipse cx="101.9" cy="643.2" rx="0.9" ry="0.7" fill="#8ef0ef" opacity="0.8"/>
<circle cx="67.2" cy="646.6" r="4.1" fill="url(#gGr)" stroke="#3c8434" stroke-width="0.9"/>
<circle cx="71.3" cy="652.4" r="4.1" fill="url(#gGr)" stroke="#3c8434" stroke-width="0.9"/>
<circle cx="92.3" cy="647.8" r="4.1" fill="url(#gGr)" stroke="#3c8434" stroke-width="0.9"/>
<circle cx="95.2" cy="653" r="4.1" fill="url(#gGr)" stroke="#3c8434" stroke-width="0.9"/>
<circle cx="99.3" cy="658.3" r="4.1" fill="url(#gGr)" stroke="#3c8434" stroke-width="0.9"/>
<circle cx="116.2" cy="648.4" r="4.1" fill="url(#gGr)" stroke="#3c8434" stroke-width="0.9"/>
<circle cx="123.2" cy="656" r="4.1" fill="url(#gGr)" stroke="#3c8434" stroke-width="0.9"/>
<circle cx="146.1" cy="644.3" r="4.1" fill="url(#gGr)" stroke="#3c8434" stroke-width="0.9"/>
<circle cx="154.3" cy="653.6" r="4.1" fill="url(#gGr)" stroke="#3c8434" stroke-width="0.9"/>
<circle cx="185.2" cy="651.9" r="4.1" fill="url(#gGr)" stroke="#3c8434" stroke-width="0.9"/>
<circle cx="177" cy="646" r="3.8" fill="url(#gGr)" stroke="#3c8434" stroke-width="0.9"/>
<text x="55.5" y="633.9" font-size="9.8" font-weight="normal" text-anchor="start" fill="#983428" textLength="27.4" lengthAdjust="spacingAndGlyphs" stroke="#983428" stroke-width="0.25">300 K</text>
<text x="55.5" y="718.8" font-size="9.8" font-weight="normal" text-anchor="start" fill="#983428" textLength="27.4" lengthAdjust="spacingAndGlyphs" stroke="#983428" stroke-width="0.25">500 K</text>
</svg>
</body></html>
